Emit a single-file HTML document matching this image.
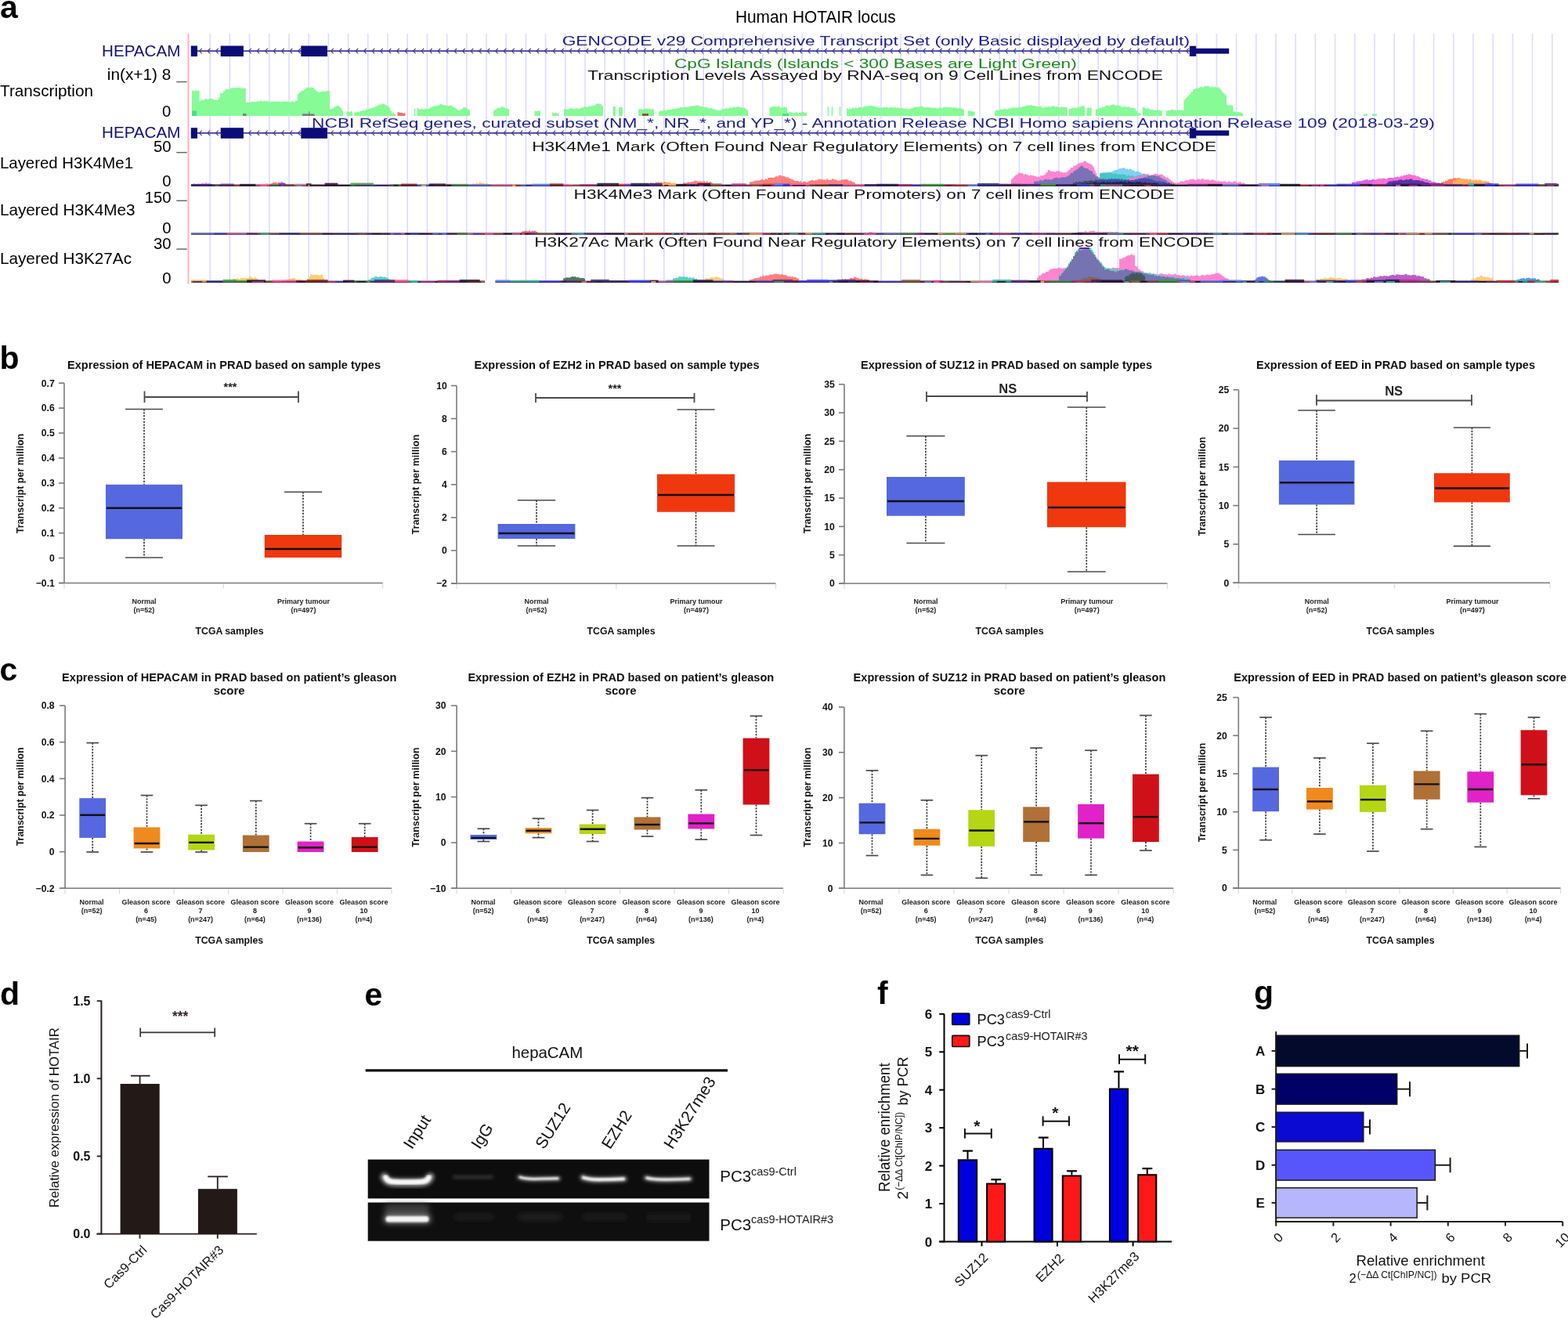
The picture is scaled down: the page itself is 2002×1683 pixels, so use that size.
<!DOCTYPE html>
<html><head><meta charset="utf-8"><title>HOTAIR figure</title>
<style>
html,body{margin:0;padding:0;background:#fff;}
svg{display:block;font-family:'Liberation Sans', Arial, Helvetica, sans-serif;}
</style></head>
<body>
<svg width="2002" height="1683" viewBox="0 0 2002 1683">
<defs>
<filter id="blur1" x="-20%" y="-50%" width="140%" height="200%"><feGaussianBlur stdDeviation="1.2"/></filter>
<filter id="blur2" x="-20%" y="-80%" width="140%" height="260%"><feGaussianBlur stdDeviation="2.2"/></filter>
<filter id="blur3" x="-20%" y="-80%" width="140%" height="260%"><feGaussianBlur stdDeviation="3.5"/></filter>
</defs>
<rect x="0" y="0" width="2002" height="1683" fill="#fff"/>
<text x="0.00" y="22.70" font-size="41" font-weight="bold" >a</text>
<text x="1041.30" y="29.30" font-size="22" text-anchor="middle" textLength="204.70" lengthAdjust="spacingAndGlyphs" >Human HOTAIR locus</text>
<line x1="268.20" y1="43.00" x2="268.20" y2="358.50" stroke="#dcdcff" stroke-width="1.6" />
<line x1="293.40" y1="43.00" x2="293.40" y2="358.50" stroke="#dcdcff" stroke-width="1.6" />
<line x1="318.60" y1="43.00" x2="318.60" y2="358.50" stroke="#dcdcff" stroke-width="1.6" />
<line x1="343.80" y1="43.00" x2="343.80" y2="358.50" stroke="#dcdcff" stroke-width="1.6" />
<line x1="369.00" y1="43.00" x2="369.00" y2="358.50" stroke="#dcdcff" stroke-width="1.6" />
<line x1="394.20" y1="43.00" x2="394.20" y2="358.50" stroke="#dcdcff" stroke-width="1.6" />
<line x1="419.40" y1="43.00" x2="419.40" y2="358.50" stroke="#dcdcff" stroke-width="1.6" />
<line x1="444.60" y1="43.00" x2="444.60" y2="358.50" stroke="#dcdcff" stroke-width="1.6" />
<line x1="469.80" y1="43.00" x2="469.80" y2="358.50" stroke="#dcdcff" stroke-width="1.6" />
<line x1="495.00" y1="43.00" x2="495.00" y2="358.50" stroke="#dcdcff" stroke-width="1.6" />
<line x1="520.20" y1="43.00" x2="520.20" y2="358.50" stroke="#dcdcff" stroke-width="1.6" />
<line x1="545.40" y1="43.00" x2="545.40" y2="358.50" stroke="#dcdcff" stroke-width="1.6" />
<line x1="570.60" y1="43.00" x2="570.60" y2="358.50" stroke="#dcdcff" stroke-width="1.6" />
<line x1="595.80" y1="43.00" x2="595.80" y2="358.50" stroke="#dcdcff" stroke-width="1.6" />
<line x1="621.00" y1="43.00" x2="621.00" y2="358.50" stroke="#dcdcff" stroke-width="1.6" />
<line x1="646.20" y1="43.00" x2="646.20" y2="358.50" stroke="#dcdcff" stroke-width="1.6" />
<line x1="671.40" y1="43.00" x2="671.40" y2="358.50" stroke="#dcdcff" stroke-width="1.6" />
<line x1="696.60" y1="43.00" x2="696.60" y2="358.50" stroke="#dcdcff" stroke-width="1.6" />
<line x1="721.80" y1="43.00" x2="721.80" y2="358.50" stroke="#dcdcff" stroke-width="1.6" />
<line x1="747.00" y1="43.00" x2="747.00" y2="358.50" stroke="#dcdcff" stroke-width="1.6" />
<line x1="772.20" y1="43.00" x2="772.20" y2="358.50" stroke="#dcdcff" stroke-width="1.6" />
<line x1="797.40" y1="43.00" x2="797.40" y2="358.50" stroke="#dcdcff" stroke-width="1.6" />
<line x1="822.60" y1="43.00" x2="822.60" y2="358.50" stroke="#dcdcff" stroke-width="1.6" />
<line x1="847.80" y1="43.00" x2="847.80" y2="358.50" stroke="#dcdcff" stroke-width="1.6" />
<line x1="873.00" y1="43.00" x2="873.00" y2="358.50" stroke="#dcdcff" stroke-width="1.6" />
<line x1="898.20" y1="43.00" x2="898.20" y2="358.50" stroke="#dcdcff" stroke-width="1.6" />
<line x1="923.40" y1="43.00" x2="923.40" y2="358.50" stroke="#dcdcff" stroke-width="1.6" />
<line x1="948.60" y1="43.00" x2="948.60" y2="358.50" stroke="#dcdcff" stroke-width="1.6" />
<line x1="973.80" y1="43.00" x2="973.80" y2="358.50" stroke="#dcdcff" stroke-width="1.6" />
<line x1="999.00" y1="43.00" x2="999.00" y2="358.50" stroke="#dcdcff" stroke-width="1.6" />
<line x1="1024.20" y1="43.00" x2="1024.20" y2="358.50" stroke="#dcdcff" stroke-width="1.6" />
<line x1="1049.40" y1="43.00" x2="1049.40" y2="358.50" stroke="#dcdcff" stroke-width="1.6" />
<line x1="1074.60" y1="43.00" x2="1074.60" y2="358.50" stroke="#dcdcff" stroke-width="1.6" />
<line x1="1099.80" y1="43.00" x2="1099.80" y2="358.50" stroke="#dcdcff" stroke-width="1.6" />
<line x1="1125.00" y1="43.00" x2="1125.00" y2="358.50" stroke="#dcdcff" stroke-width="1.6" />
<line x1="1150.20" y1="43.00" x2="1150.20" y2="358.50" stroke="#dcdcff" stroke-width="1.6" />
<line x1="1175.40" y1="43.00" x2="1175.40" y2="358.50" stroke="#dcdcff" stroke-width="1.6" />
<line x1="1200.60" y1="43.00" x2="1200.60" y2="358.50" stroke="#dcdcff" stroke-width="1.6" />
<line x1="1225.80" y1="43.00" x2="1225.80" y2="358.50" stroke="#dcdcff" stroke-width="1.6" />
<line x1="1251.00" y1="43.00" x2="1251.00" y2="358.50" stroke="#dcdcff" stroke-width="1.6" />
<line x1="1276.20" y1="43.00" x2="1276.20" y2="358.50" stroke="#dcdcff" stroke-width="1.6" />
<line x1="1301.40" y1="43.00" x2="1301.40" y2="358.50" stroke="#dcdcff" stroke-width="1.6" />
<line x1="1326.60" y1="43.00" x2="1326.60" y2="358.50" stroke="#dcdcff" stroke-width="1.6" />
<line x1="1351.80" y1="43.00" x2="1351.80" y2="358.50" stroke="#dcdcff" stroke-width="1.6" />
<line x1="1377.00" y1="43.00" x2="1377.00" y2="358.50" stroke="#dcdcff" stroke-width="1.6" />
<line x1="1402.20" y1="43.00" x2="1402.20" y2="358.50" stroke="#dcdcff" stroke-width="1.6" />
<line x1="1427.40" y1="43.00" x2="1427.40" y2="358.50" stroke="#dcdcff" stroke-width="1.6" />
<line x1="1452.60" y1="43.00" x2="1452.60" y2="358.50" stroke="#dcdcff" stroke-width="1.6" />
<line x1="1477.80" y1="43.00" x2="1477.80" y2="358.50" stroke="#dcdcff" stroke-width="1.6" />
<line x1="1503.00" y1="43.00" x2="1503.00" y2="358.50" stroke="#dcdcff" stroke-width="1.6" />
<line x1="1528.20" y1="43.00" x2="1528.20" y2="358.50" stroke="#dcdcff" stroke-width="1.6" />
<line x1="1553.40" y1="43.00" x2="1553.40" y2="358.50" stroke="#dcdcff" stroke-width="1.6" />
<line x1="1578.60" y1="43.00" x2="1578.60" y2="358.50" stroke="#dcdcff" stroke-width="1.6" />
<line x1="1603.80" y1="43.00" x2="1603.80" y2="358.50" stroke="#dcdcff" stroke-width="1.6" />
<line x1="1629.00" y1="43.00" x2="1629.00" y2="358.50" stroke="#dcdcff" stroke-width="1.6" />
<line x1="1654.20" y1="43.00" x2="1654.20" y2="358.50" stroke="#dcdcff" stroke-width="1.6" />
<line x1="1679.40" y1="43.00" x2="1679.40" y2="358.50" stroke="#dcdcff" stroke-width="1.6" />
<line x1="1704.60" y1="43.00" x2="1704.60" y2="358.50" stroke="#dcdcff" stroke-width="1.6" />
<line x1="1729.80" y1="43.00" x2="1729.80" y2="358.50" stroke="#dcdcff" stroke-width="1.6" />
<line x1="1755.00" y1="43.00" x2="1755.00" y2="358.50" stroke="#dcdcff" stroke-width="1.6" />
<line x1="1780.20" y1="43.00" x2="1780.20" y2="358.50" stroke="#dcdcff" stroke-width="1.6" />
<line x1="1805.40" y1="43.00" x2="1805.40" y2="358.50" stroke="#dcdcff" stroke-width="1.6" />
<line x1="1830.60" y1="43.00" x2="1830.60" y2="358.50" stroke="#dcdcff" stroke-width="1.6" />
<line x1="1855.80" y1="43.00" x2="1855.80" y2="358.50" stroke="#dcdcff" stroke-width="1.6" />
<line x1="1881.00" y1="43.00" x2="1881.00" y2="358.50" stroke="#dcdcff" stroke-width="1.6" />
<line x1="1906.20" y1="43.00" x2="1906.20" y2="358.50" stroke="#dcdcff" stroke-width="1.6" />
<line x1="1931.40" y1="43.00" x2="1931.40" y2="358.50" stroke="#dcdcff" stroke-width="1.6" />
<line x1="1956.60" y1="43.00" x2="1956.60" y2="358.50" stroke="#dcdcff" stroke-width="1.6" />
<line x1="1981.80" y1="43.00" x2="1981.80" y2="358.50" stroke="#dcdcff" stroke-width="1.6" />
<line x1="240.50" y1="43.00" x2="240.50" y2="362.50" stroke="#ffb3b3" stroke-width="2" />
<line x1="243.80" y1="65.20" x2="1569.00" y2="65.20" stroke="#3c3c9c" stroke-width="1.8" />
<polyline points="257.7,62.0 254.5,65.2 257.7,68.4" fill="none" stroke="#3c3c9c" stroke-width="1.15"/>
<polyline points="268.2,62.0 265.0,65.2 268.2,68.4" fill="none" stroke="#3c3c9c" stroke-width="1.15"/>
<polyline points="278.7,62.0 275.5,65.2 278.7,68.4" fill="none" stroke="#3c3c9c" stroke-width="1.15"/>
<polyline points="320.7,62.0 317.5,65.2 320.7,68.4" fill="none" stroke="#3c3c9c" stroke-width="1.15"/>
<polyline points="331.2,62.0 328.0,65.2 331.2,68.4" fill="none" stroke="#3c3c9c" stroke-width="1.15"/>
<polyline points="341.7,62.0 338.5,65.2 341.7,68.4" fill="none" stroke="#3c3c9c" stroke-width="1.15"/>
<polyline points="352.2,62.0 349.0,65.2 352.2,68.4" fill="none" stroke="#3c3c9c" stroke-width="1.15"/>
<polyline points="362.7,62.0 359.5,65.2 362.7,68.4" fill="none" stroke="#3c3c9c" stroke-width="1.15"/>
<polyline points="373.2,62.0 370.0,65.2 373.2,68.4" fill="none" stroke="#3c3c9c" stroke-width="1.15"/>
<polyline points="383.7,62.0 380.5,65.2 383.7,68.4" fill="none" stroke="#3c3c9c" stroke-width="1.15"/>
<polyline points="425.7,62.0 422.5,65.2 425.7,68.4" fill="none" stroke="#3c3c9c" stroke-width="1.15"/>
<polyline points="436.2,62.0 433.0,65.2 436.2,68.4" fill="none" stroke="#3c3c9c" stroke-width="1.15"/>
<polyline points="446.7,62.0 443.5,65.2 446.7,68.4" fill="none" stroke="#3c3c9c" stroke-width="1.15"/>
<polyline points="457.2,62.0 454.0,65.2 457.2,68.4" fill="none" stroke="#3c3c9c" stroke-width="1.15"/>
<polyline points="467.7,62.0 464.5,65.2 467.7,68.4" fill="none" stroke="#3c3c9c" stroke-width="1.15"/>
<polyline points="478.2,62.0 475.0,65.2 478.2,68.4" fill="none" stroke="#3c3c9c" stroke-width="1.15"/>
<polyline points="488.7,62.0 485.5,65.2 488.7,68.4" fill="none" stroke="#3c3c9c" stroke-width="1.15"/>
<polyline points="499.2,62.0 496.0,65.2 499.2,68.4" fill="none" stroke="#3c3c9c" stroke-width="1.15"/>
<polyline points="509.7,62.0 506.5,65.2 509.7,68.4" fill="none" stroke="#3c3c9c" stroke-width="1.15"/>
<polyline points="520.2,62.0 517.0,65.2 520.2,68.4" fill="none" stroke="#3c3c9c" stroke-width="1.15"/>
<polyline points="530.7,62.0 527.5,65.2 530.7,68.4" fill="none" stroke="#3c3c9c" stroke-width="1.15"/>
<polyline points="541.2,62.0 538.0,65.2 541.2,68.4" fill="none" stroke="#3c3c9c" stroke-width="1.15"/>
<polyline points="551.7,62.0 548.5,65.2 551.7,68.4" fill="none" stroke="#3c3c9c" stroke-width="1.15"/>
<polyline points="562.2,62.0 559.0,65.2 562.2,68.4" fill="none" stroke="#3c3c9c" stroke-width="1.15"/>
<polyline points="572.7,62.0 569.5,65.2 572.7,68.4" fill="none" stroke="#3c3c9c" stroke-width="1.15"/>
<polyline points="583.2,62.0 580.0,65.2 583.2,68.4" fill="none" stroke="#3c3c9c" stroke-width="1.15"/>
<polyline points="593.7,62.0 590.5,65.2 593.7,68.4" fill="none" stroke="#3c3c9c" stroke-width="1.15"/>
<polyline points="604.2,62.0 601.0,65.2 604.2,68.4" fill="none" stroke="#3c3c9c" stroke-width="1.15"/>
<polyline points="614.7,62.0 611.5,65.2 614.7,68.4" fill="none" stroke="#3c3c9c" stroke-width="1.15"/>
<polyline points="625.2,62.0 622.0,65.2 625.2,68.4" fill="none" stroke="#3c3c9c" stroke-width="1.15"/>
<polyline points="635.7,62.0 632.5,65.2 635.7,68.4" fill="none" stroke="#3c3c9c" stroke-width="1.15"/>
<polyline points="646.2,62.0 643.0,65.2 646.2,68.4" fill="none" stroke="#3c3c9c" stroke-width="1.15"/>
<polyline points="656.7,62.0 653.5,65.2 656.7,68.4" fill="none" stroke="#3c3c9c" stroke-width="1.15"/>
<polyline points="667.2,62.0 664.0,65.2 667.2,68.4" fill="none" stroke="#3c3c9c" stroke-width="1.15"/>
<polyline points="677.7,62.0 674.5,65.2 677.7,68.4" fill="none" stroke="#3c3c9c" stroke-width="1.15"/>
<polyline points="688.2,62.0 685.0,65.2 688.2,68.4" fill="none" stroke="#3c3c9c" stroke-width="1.15"/>
<polyline points="698.7,62.0 695.5,65.2 698.7,68.4" fill="none" stroke="#3c3c9c" stroke-width="1.15"/>
<polyline points="709.2,62.0 706.0,65.2 709.2,68.4" fill="none" stroke="#3c3c9c" stroke-width="1.15"/>
<polyline points="719.7,62.0 716.5,65.2 719.7,68.4" fill="none" stroke="#3c3c9c" stroke-width="1.15"/>
<polyline points="730.2,62.0 727.0,65.2 730.2,68.4" fill="none" stroke="#3c3c9c" stroke-width="1.15"/>
<polyline points="740.7,62.0 737.5,65.2 740.7,68.4" fill="none" stroke="#3c3c9c" stroke-width="1.15"/>
<polyline points="751.2,62.0 748.0,65.2 751.2,68.4" fill="none" stroke="#3c3c9c" stroke-width="1.15"/>
<polyline points="761.7,62.0 758.5,65.2 761.7,68.4" fill="none" stroke="#3c3c9c" stroke-width="1.15"/>
<polyline points="772.2,62.0 769.0,65.2 772.2,68.4" fill="none" stroke="#3c3c9c" stroke-width="1.15"/>
<polyline points="782.7,62.0 779.5,65.2 782.7,68.4" fill="none" stroke="#3c3c9c" stroke-width="1.15"/>
<polyline points="793.2,62.0 790.0,65.2 793.2,68.4" fill="none" stroke="#3c3c9c" stroke-width="1.15"/>
<polyline points="803.7,62.0 800.5,65.2 803.7,68.4" fill="none" stroke="#3c3c9c" stroke-width="1.15"/>
<polyline points="814.2,62.0 811.0,65.2 814.2,68.4" fill="none" stroke="#3c3c9c" stroke-width="1.15"/>
<polyline points="824.7,62.0 821.5,65.2 824.7,68.4" fill="none" stroke="#3c3c9c" stroke-width="1.15"/>
<polyline points="835.2,62.0 832.0,65.2 835.2,68.4" fill="none" stroke="#3c3c9c" stroke-width="1.15"/>
<polyline points="845.7,62.0 842.5,65.2 845.7,68.4" fill="none" stroke="#3c3c9c" stroke-width="1.15"/>
<polyline points="856.2,62.0 853.0,65.2 856.2,68.4" fill="none" stroke="#3c3c9c" stroke-width="1.15"/>
<polyline points="866.7,62.0 863.5,65.2 866.7,68.4" fill="none" stroke="#3c3c9c" stroke-width="1.15"/>
<polyline points="877.2,62.0 874.0,65.2 877.2,68.4" fill="none" stroke="#3c3c9c" stroke-width="1.15"/>
<polyline points="887.7,62.0 884.5,65.2 887.7,68.4" fill="none" stroke="#3c3c9c" stroke-width="1.15"/>
<polyline points="898.2,62.0 895.0,65.2 898.2,68.4" fill="none" stroke="#3c3c9c" stroke-width="1.15"/>
<polyline points="908.7,62.0 905.5,65.2 908.7,68.4" fill="none" stroke="#3c3c9c" stroke-width="1.15"/>
<polyline points="919.2,62.0 916.0,65.2 919.2,68.4" fill="none" stroke="#3c3c9c" stroke-width="1.15"/>
<polyline points="929.7,62.0 926.5,65.2 929.7,68.4" fill="none" stroke="#3c3c9c" stroke-width="1.15"/>
<polyline points="940.2,62.0 937.0,65.2 940.2,68.4" fill="none" stroke="#3c3c9c" stroke-width="1.15"/>
<polyline points="950.7,62.0 947.5,65.2 950.7,68.4" fill="none" stroke="#3c3c9c" stroke-width="1.15"/>
<polyline points="961.2,62.0 958.0,65.2 961.2,68.4" fill="none" stroke="#3c3c9c" stroke-width="1.15"/>
<polyline points="971.7,62.0 968.5,65.2 971.7,68.4" fill="none" stroke="#3c3c9c" stroke-width="1.15"/>
<polyline points="982.2,62.0 979.0,65.2 982.2,68.4" fill="none" stroke="#3c3c9c" stroke-width="1.15"/>
<polyline points="992.7,62.0 989.5,65.2 992.7,68.4" fill="none" stroke="#3c3c9c" stroke-width="1.15"/>
<polyline points="1003.2,62.0 1000.0,65.2 1003.2,68.4" fill="none" stroke="#3c3c9c" stroke-width="1.15"/>
<polyline points="1013.7,62.0 1010.5,65.2 1013.7,68.4" fill="none" stroke="#3c3c9c" stroke-width="1.15"/>
<polyline points="1024.2,62.0 1021.0,65.2 1024.2,68.4" fill="none" stroke="#3c3c9c" stroke-width="1.15"/>
<polyline points="1034.7,62.0 1031.5,65.2 1034.7,68.4" fill="none" stroke="#3c3c9c" stroke-width="1.15"/>
<polyline points="1045.2,62.0 1042.0,65.2 1045.2,68.4" fill="none" stroke="#3c3c9c" stroke-width="1.15"/>
<polyline points="1055.7,62.0 1052.5,65.2 1055.7,68.4" fill="none" stroke="#3c3c9c" stroke-width="1.15"/>
<polyline points="1066.2,62.0 1063.0,65.2 1066.2,68.4" fill="none" stroke="#3c3c9c" stroke-width="1.15"/>
<polyline points="1076.7,62.0 1073.5,65.2 1076.7,68.4" fill="none" stroke="#3c3c9c" stroke-width="1.15"/>
<polyline points="1087.2,62.0 1084.0,65.2 1087.2,68.4" fill="none" stroke="#3c3c9c" stroke-width="1.15"/>
<polyline points="1097.7,62.0 1094.5,65.2 1097.7,68.4" fill="none" stroke="#3c3c9c" stroke-width="1.15"/>
<polyline points="1108.2,62.0 1105.0,65.2 1108.2,68.4" fill="none" stroke="#3c3c9c" stroke-width="1.15"/>
<polyline points="1118.7,62.0 1115.5,65.2 1118.7,68.4" fill="none" stroke="#3c3c9c" stroke-width="1.15"/>
<polyline points="1129.2,62.0 1126.0,65.2 1129.2,68.4" fill="none" stroke="#3c3c9c" stroke-width="1.15"/>
<polyline points="1139.7,62.0 1136.5,65.2 1139.7,68.4" fill="none" stroke="#3c3c9c" stroke-width="1.15"/>
<polyline points="1150.2,62.0 1147.0,65.2 1150.2,68.4" fill="none" stroke="#3c3c9c" stroke-width="1.15"/>
<polyline points="1160.7,62.0 1157.5,65.2 1160.7,68.4" fill="none" stroke="#3c3c9c" stroke-width="1.15"/>
<polyline points="1171.2,62.0 1168.0,65.2 1171.2,68.4" fill="none" stroke="#3c3c9c" stroke-width="1.15"/>
<polyline points="1181.7,62.0 1178.5,65.2 1181.7,68.4" fill="none" stroke="#3c3c9c" stroke-width="1.15"/>
<polyline points="1192.2,62.0 1189.0,65.2 1192.2,68.4" fill="none" stroke="#3c3c9c" stroke-width="1.15"/>
<polyline points="1202.7,62.0 1199.5,65.2 1202.7,68.4" fill="none" stroke="#3c3c9c" stroke-width="1.15"/>
<polyline points="1213.2,62.0 1210.0,65.2 1213.2,68.4" fill="none" stroke="#3c3c9c" stroke-width="1.15"/>
<polyline points="1223.7,62.0 1220.5,65.2 1223.7,68.4" fill="none" stroke="#3c3c9c" stroke-width="1.15"/>
<polyline points="1234.2,62.0 1231.0,65.2 1234.2,68.4" fill="none" stroke="#3c3c9c" stroke-width="1.15"/>
<polyline points="1244.7,62.0 1241.5,65.2 1244.7,68.4" fill="none" stroke="#3c3c9c" stroke-width="1.15"/>
<polyline points="1255.2,62.0 1252.0,65.2 1255.2,68.4" fill="none" stroke="#3c3c9c" stroke-width="1.15"/>
<polyline points="1265.7,62.0 1262.5,65.2 1265.7,68.4" fill="none" stroke="#3c3c9c" stroke-width="1.15"/>
<polyline points="1276.2,62.0 1273.0,65.2 1276.2,68.4" fill="none" stroke="#3c3c9c" stroke-width="1.15"/>
<polyline points="1286.7,62.0 1283.5,65.2 1286.7,68.4" fill="none" stroke="#3c3c9c" stroke-width="1.15"/>
<polyline points="1297.2,62.0 1294.0,65.2 1297.2,68.4" fill="none" stroke="#3c3c9c" stroke-width="1.15"/>
<polyline points="1307.7,62.0 1304.5,65.2 1307.7,68.4" fill="none" stroke="#3c3c9c" stroke-width="1.15"/>
<polyline points="1318.2,62.0 1315.0,65.2 1318.2,68.4" fill="none" stroke="#3c3c9c" stroke-width="1.15"/>
<polyline points="1328.7,62.0 1325.5,65.2 1328.7,68.4" fill="none" stroke="#3c3c9c" stroke-width="1.15"/>
<polyline points="1339.2,62.0 1336.0,65.2 1339.2,68.4" fill="none" stroke="#3c3c9c" stroke-width="1.15"/>
<polyline points="1349.7,62.0 1346.5,65.2 1349.7,68.4" fill="none" stroke="#3c3c9c" stroke-width="1.15"/>
<polyline points="1360.2,62.0 1357.0,65.2 1360.2,68.4" fill="none" stroke="#3c3c9c" stroke-width="1.15"/>
<polyline points="1370.7,62.0 1367.5,65.2 1370.7,68.4" fill="none" stroke="#3c3c9c" stroke-width="1.15"/>
<polyline points="1381.2,62.0 1378.0,65.2 1381.2,68.4" fill="none" stroke="#3c3c9c" stroke-width="1.15"/>
<polyline points="1391.7,62.0 1388.5,65.2 1391.7,68.4" fill="none" stroke="#3c3c9c" stroke-width="1.15"/>
<polyline points="1402.2,62.0 1399.0,65.2 1402.2,68.4" fill="none" stroke="#3c3c9c" stroke-width="1.15"/>
<polyline points="1412.7,62.0 1409.5,65.2 1412.7,68.4" fill="none" stroke="#3c3c9c" stroke-width="1.15"/>
<polyline points="1423.2,62.0 1420.0,65.2 1423.2,68.4" fill="none" stroke="#3c3c9c" stroke-width="1.15"/>
<polyline points="1433.7,62.0 1430.5,65.2 1433.7,68.4" fill="none" stroke="#3c3c9c" stroke-width="1.15"/>
<polyline points="1444.2,62.0 1441.0,65.2 1444.2,68.4" fill="none" stroke="#3c3c9c" stroke-width="1.15"/>
<polyline points="1454.7,62.0 1451.5,65.2 1454.7,68.4" fill="none" stroke="#3c3c9c" stroke-width="1.15"/>
<polyline points="1465.2,62.0 1462.0,65.2 1465.2,68.4" fill="none" stroke="#3c3c9c" stroke-width="1.15"/>
<polyline points="1475.7,62.0 1472.5,65.2 1475.7,68.4" fill="none" stroke="#3c3c9c" stroke-width="1.15"/>
<polyline points="1486.2,62.0 1483.0,65.2 1486.2,68.4" fill="none" stroke="#3c3c9c" stroke-width="1.15"/>
<polyline points="1496.7,62.0 1493.5,65.2 1496.7,68.4" fill="none" stroke="#3c3c9c" stroke-width="1.15"/>
<polyline points="1507.2,62.0 1504.0,65.2 1507.2,68.4" fill="none" stroke="#3c3c9c" stroke-width="1.15"/>
<polyline points="1517.7,62.0 1514.5,65.2 1517.7,68.4" fill="none" stroke="#3c3c9c" stroke-width="1.15"/>
<rect x="243.80" y="58.50" width="8.20" height="13.60" fill="#0c0c78" />
<rect x="281.70" y="58.50" width="29.20" height="13.60" fill="#0c0c78" />
<rect x="384.30" y="58.50" width="33.70" height="13.60" fill="#0c0c78" />
<rect x="1518.80" y="58.70" width="8.40" height="13.20" fill="#0c0c78" />
<rect x="1527.00" y="61.80" width="42.20" height="6.80" fill="#0c0c78" />
<line x1="243.80" y1="169.90" x2="1569.00" y2="169.90" stroke="#3c3c9c" stroke-width="1.8" />
<polyline points="257.7,166.7 254.5,169.9 257.7,173.1" fill="none" stroke="#3c3c9c" stroke-width="1.15"/>
<polyline points="268.2,166.7 265.0,169.9 268.2,173.1" fill="none" stroke="#3c3c9c" stroke-width="1.15"/>
<polyline points="278.7,166.7 275.5,169.9 278.7,173.1" fill="none" stroke="#3c3c9c" stroke-width="1.15"/>
<polyline points="320.7,166.7 317.5,169.9 320.7,173.1" fill="none" stroke="#3c3c9c" stroke-width="1.15"/>
<polyline points="331.2,166.7 328.0,169.9 331.2,173.1" fill="none" stroke="#3c3c9c" stroke-width="1.15"/>
<polyline points="341.7,166.7 338.5,169.9 341.7,173.1" fill="none" stroke="#3c3c9c" stroke-width="1.15"/>
<polyline points="352.2,166.7 349.0,169.9 352.2,173.1" fill="none" stroke="#3c3c9c" stroke-width="1.15"/>
<polyline points="362.7,166.7 359.5,169.9 362.7,173.1" fill="none" stroke="#3c3c9c" stroke-width="1.15"/>
<polyline points="373.2,166.7 370.0,169.9 373.2,173.1" fill="none" stroke="#3c3c9c" stroke-width="1.15"/>
<polyline points="383.7,166.7 380.5,169.9 383.7,173.1" fill="none" stroke="#3c3c9c" stroke-width="1.15"/>
<polyline points="425.7,166.7 422.5,169.9 425.7,173.1" fill="none" stroke="#3c3c9c" stroke-width="1.15"/>
<polyline points="436.2,166.7 433.0,169.9 436.2,173.1" fill="none" stroke="#3c3c9c" stroke-width="1.15"/>
<polyline points="446.7,166.7 443.5,169.9 446.7,173.1" fill="none" stroke="#3c3c9c" stroke-width="1.15"/>
<polyline points="457.2,166.7 454.0,169.9 457.2,173.1" fill="none" stroke="#3c3c9c" stroke-width="1.15"/>
<polyline points="467.7,166.7 464.5,169.9 467.7,173.1" fill="none" stroke="#3c3c9c" stroke-width="1.15"/>
<polyline points="478.2,166.7 475.0,169.9 478.2,173.1" fill="none" stroke="#3c3c9c" stroke-width="1.15"/>
<polyline points="488.7,166.7 485.5,169.9 488.7,173.1" fill="none" stroke="#3c3c9c" stroke-width="1.15"/>
<polyline points="499.2,166.7 496.0,169.9 499.2,173.1" fill="none" stroke="#3c3c9c" stroke-width="1.15"/>
<polyline points="509.7,166.7 506.5,169.9 509.7,173.1" fill="none" stroke="#3c3c9c" stroke-width="1.15"/>
<polyline points="520.2,166.7 517.0,169.9 520.2,173.1" fill="none" stroke="#3c3c9c" stroke-width="1.15"/>
<polyline points="530.7,166.7 527.5,169.9 530.7,173.1" fill="none" stroke="#3c3c9c" stroke-width="1.15"/>
<polyline points="541.2,166.7 538.0,169.9 541.2,173.1" fill="none" stroke="#3c3c9c" stroke-width="1.15"/>
<polyline points="551.7,166.7 548.5,169.9 551.7,173.1" fill="none" stroke="#3c3c9c" stroke-width="1.15"/>
<polyline points="562.2,166.7 559.0,169.9 562.2,173.1" fill="none" stroke="#3c3c9c" stroke-width="1.15"/>
<polyline points="572.7,166.7 569.5,169.9 572.7,173.1" fill="none" stroke="#3c3c9c" stroke-width="1.15"/>
<polyline points="583.2,166.7 580.0,169.9 583.2,173.1" fill="none" stroke="#3c3c9c" stroke-width="1.15"/>
<polyline points="593.7,166.7 590.5,169.9 593.7,173.1" fill="none" stroke="#3c3c9c" stroke-width="1.15"/>
<polyline points="604.2,166.7 601.0,169.9 604.2,173.1" fill="none" stroke="#3c3c9c" stroke-width="1.15"/>
<polyline points="614.7,166.7 611.5,169.9 614.7,173.1" fill="none" stroke="#3c3c9c" stroke-width="1.15"/>
<polyline points="625.2,166.7 622.0,169.9 625.2,173.1" fill="none" stroke="#3c3c9c" stroke-width="1.15"/>
<polyline points="635.7,166.7 632.5,169.9 635.7,173.1" fill="none" stroke="#3c3c9c" stroke-width="1.15"/>
<polyline points="646.2,166.7 643.0,169.9 646.2,173.1" fill="none" stroke="#3c3c9c" stroke-width="1.15"/>
<polyline points="656.7,166.7 653.5,169.9 656.7,173.1" fill="none" stroke="#3c3c9c" stroke-width="1.15"/>
<polyline points="667.2,166.7 664.0,169.9 667.2,173.1" fill="none" stroke="#3c3c9c" stroke-width="1.15"/>
<polyline points="677.7,166.7 674.5,169.9 677.7,173.1" fill="none" stroke="#3c3c9c" stroke-width="1.15"/>
<polyline points="688.2,166.7 685.0,169.9 688.2,173.1" fill="none" stroke="#3c3c9c" stroke-width="1.15"/>
<polyline points="698.7,166.7 695.5,169.9 698.7,173.1" fill="none" stroke="#3c3c9c" stroke-width="1.15"/>
<polyline points="709.2,166.7 706.0,169.9 709.2,173.1" fill="none" stroke="#3c3c9c" stroke-width="1.15"/>
<polyline points="719.7,166.7 716.5,169.9 719.7,173.1" fill="none" stroke="#3c3c9c" stroke-width="1.15"/>
<polyline points="730.2,166.7 727.0,169.9 730.2,173.1" fill="none" stroke="#3c3c9c" stroke-width="1.15"/>
<polyline points="740.7,166.7 737.5,169.9 740.7,173.1" fill="none" stroke="#3c3c9c" stroke-width="1.15"/>
<polyline points="751.2,166.7 748.0,169.9 751.2,173.1" fill="none" stroke="#3c3c9c" stroke-width="1.15"/>
<polyline points="761.7,166.7 758.5,169.9 761.7,173.1" fill="none" stroke="#3c3c9c" stroke-width="1.15"/>
<polyline points="772.2,166.7 769.0,169.9 772.2,173.1" fill="none" stroke="#3c3c9c" stroke-width="1.15"/>
<polyline points="782.7,166.7 779.5,169.9 782.7,173.1" fill="none" stroke="#3c3c9c" stroke-width="1.15"/>
<polyline points="793.2,166.7 790.0,169.9 793.2,173.1" fill="none" stroke="#3c3c9c" stroke-width="1.15"/>
<polyline points="803.7,166.7 800.5,169.9 803.7,173.1" fill="none" stroke="#3c3c9c" stroke-width="1.15"/>
<polyline points="814.2,166.7 811.0,169.9 814.2,173.1" fill="none" stroke="#3c3c9c" stroke-width="1.15"/>
<polyline points="824.7,166.7 821.5,169.9 824.7,173.1" fill="none" stroke="#3c3c9c" stroke-width="1.15"/>
<polyline points="835.2,166.7 832.0,169.9 835.2,173.1" fill="none" stroke="#3c3c9c" stroke-width="1.15"/>
<polyline points="845.7,166.7 842.5,169.9 845.7,173.1" fill="none" stroke="#3c3c9c" stroke-width="1.15"/>
<polyline points="856.2,166.7 853.0,169.9 856.2,173.1" fill="none" stroke="#3c3c9c" stroke-width="1.15"/>
<polyline points="866.7,166.7 863.5,169.9 866.7,173.1" fill="none" stroke="#3c3c9c" stroke-width="1.15"/>
<polyline points="877.2,166.7 874.0,169.9 877.2,173.1" fill="none" stroke="#3c3c9c" stroke-width="1.15"/>
<polyline points="887.7,166.7 884.5,169.9 887.7,173.1" fill="none" stroke="#3c3c9c" stroke-width="1.15"/>
<polyline points="898.2,166.7 895.0,169.9 898.2,173.1" fill="none" stroke="#3c3c9c" stroke-width="1.15"/>
<polyline points="908.7,166.7 905.5,169.9 908.7,173.1" fill="none" stroke="#3c3c9c" stroke-width="1.15"/>
<polyline points="919.2,166.7 916.0,169.9 919.2,173.1" fill="none" stroke="#3c3c9c" stroke-width="1.15"/>
<polyline points="929.7,166.7 926.5,169.9 929.7,173.1" fill="none" stroke="#3c3c9c" stroke-width="1.15"/>
<polyline points="940.2,166.7 937.0,169.9 940.2,173.1" fill="none" stroke="#3c3c9c" stroke-width="1.15"/>
<polyline points="950.7,166.7 947.5,169.9 950.7,173.1" fill="none" stroke="#3c3c9c" stroke-width="1.15"/>
<polyline points="961.2,166.7 958.0,169.9 961.2,173.1" fill="none" stroke="#3c3c9c" stroke-width="1.15"/>
<polyline points="971.7,166.7 968.5,169.9 971.7,173.1" fill="none" stroke="#3c3c9c" stroke-width="1.15"/>
<polyline points="982.2,166.7 979.0,169.9 982.2,173.1" fill="none" stroke="#3c3c9c" stroke-width="1.15"/>
<polyline points="992.7,166.7 989.5,169.9 992.7,173.1" fill="none" stroke="#3c3c9c" stroke-width="1.15"/>
<polyline points="1003.2,166.7 1000.0,169.9 1003.2,173.1" fill="none" stroke="#3c3c9c" stroke-width="1.15"/>
<polyline points="1013.7,166.7 1010.5,169.9 1013.7,173.1" fill="none" stroke="#3c3c9c" stroke-width="1.15"/>
<polyline points="1024.2,166.7 1021.0,169.9 1024.2,173.1" fill="none" stroke="#3c3c9c" stroke-width="1.15"/>
<polyline points="1034.7,166.7 1031.5,169.9 1034.7,173.1" fill="none" stroke="#3c3c9c" stroke-width="1.15"/>
<polyline points="1045.2,166.7 1042.0,169.9 1045.2,173.1" fill="none" stroke="#3c3c9c" stroke-width="1.15"/>
<polyline points="1055.7,166.7 1052.5,169.9 1055.7,173.1" fill="none" stroke="#3c3c9c" stroke-width="1.15"/>
<polyline points="1066.2,166.7 1063.0,169.9 1066.2,173.1" fill="none" stroke="#3c3c9c" stroke-width="1.15"/>
<polyline points="1076.7,166.7 1073.5,169.9 1076.7,173.1" fill="none" stroke="#3c3c9c" stroke-width="1.15"/>
<polyline points="1087.2,166.7 1084.0,169.9 1087.2,173.1" fill="none" stroke="#3c3c9c" stroke-width="1.15"/>
<polyline points="1097.7,166.7 1094.5,169.9 1097.7,173.1" fill="none" stroke="#3c3c9c" stroke-width="1.15"/>
<polyline points="1108.2,166.7 1105.0,169.9 1108.2,173.1" fill="none" stroke="#3c3c9c" stroke-width="1.15"/>
<polyline points="1118.7,166.7 1115.5,169.9 1118.7,173.1" fill="none" stroke="#3c3c9c" stroke-width="1.15"/>
<polyline points="1129.2,166.7 1126.0,169.9 1129.2,173.1" fill="none" stroke="#3c3c9c" stroke-width="1.15"/>
<polyline points="1139.7,166.7 1136.5,169.9 1139.7,173.1" fill="none" stroke="#3c3c9c" stroke-width="1.15"/>
<polyline points="1150.2,166.7 1147.0,169.9 1150.2,173.1" fill="none" stroke="#3c3c9c" stroke-width="1.15"/>
<polyline points="1160.7,166.7 1157.5,169.9 1160.7,173.1" fill="none" stroke="#3c3c9c" stroke-width="1.15"/>
<polyline points="1171.2,166.7 1168.0,169.9 1171.2,173.1" fill="none" stroke="#3c3c9c" stroke-width="1.15"/>
<polyline points="1181.7,166.7 1178.5,169.9 1181.7,173.1" fill="none" stroke="#3c3c9c" stroke-width="1.15"/>
<polyline points="1192.2,166.7 1189.0,169.9 1192.2,173.1" fill="none" stroke="#3c3c9c" stroke-width="1.15"/>
<polyline points="1202.7,166.7 1199.5,169.9 1202.7,173.1" fill="none" stroke="#3c3c9c" stroke-width="1.15"/>
<polyline points="1213.2,166.7 1210.0,169.9 1213.2,173.1" fill="none" stroke="#3c3c9c" stroke-width="1.15"/>
<polyline points="1223.7,166.7 1220.5,169.9 1223.7,173.1" fill="none" stroke="#3c3c9c" stroke-width="1.15"/>
<polyline points="1234.2,166.7 1231.0,169.9 1234.2,173.1" fill="none" stroke="#3c3c9c" stroke-width="1.15"/>
<polyline points="1244.7,166.7 1241.5,169.9 1244.7,173.1" fill="none" stroke="#3c3c9c" stroke-width="1.15"/>
<polyline points="1255.2,166.7 1252.0,169.9 1255.2,173.1" fill="none" stroke="#3c3c9c" stroke-width="1.15"/>
<polyline points="1265.7,166.7 1262.5,169.9 1265.7,173.1" fill="none" stroke="#3c3c9c" stroke-width="1.15"/>
<polyline points="1276.2,166.7 1273.0,169.9 1276.2,173.1" fill="none" stroke="#3c3c9c" stroke-width="1.15"/>
<polyline points="1286.7,166.7 1283.5,169.9 1286.7,173.1" fill="none" stroke="#3c3c9c" stroke-width="1.15"/>
<polyline points="1297.2,166.7 1294.0,169.9 1297.2,173.1" fill="none" stroke="#3c3c9c" stroke-width="1.15"/>
<polyline points="1307.7,166.7 1304.5,169.9 1307.7,173.1" fill="none" stroke="#3c3c9c" stroke-width="1.15"/>
<polyline points="1318.2,166.7 1315.0,169.9 1318.2,173.1" fill="none" stroke="#3c3c9c" stroke-width="1.15"/>
<polyline points="1328.7,166.7 1325.5,169.9 1328.7,173.1" fill="none" stroke="#3c3c9c" stroke-width="1.15"/>
<polyline points="1339.2,166.7 1336.0,169.9 1339.2,173.1" fill="none" stroke="#3c3c9c" stroke-width="1.15"/>
<polyline points="1349.7,166.7 1346.5,169.9 1349.7,173.1" fill="none" stroke="#3c3c9c" stroke-width="1.15"/>
<polyline points="1360.2,166.7 1357.0,169.9 1360.2,173.1" fill="none" stroke="#3c3c9c" stroke-width="1.15"/>
<polyline points="1370.7,166.7 1367.5,169.9 1370.7,173.1" fill="none" stroke="#3c3c9c" stroke-width="1.15"/>
<polyline points="1381.2,166.7 1378.0,169.9 1381.2,173.1" fill="none" stroke="#3c3c9c" stroke-width="1.15"/>
<polyline points="1391.7,166.7 1388.5,169.9 1391.7,173.1" fill="none" stroke="#3c3c9c" stroke-width="1.15"/>
<polyline points="1402.2,166.7 1399.0,169.9 1402.2,173.1" fill="none" stroke="#3c3c9c" stroke-width="1.15"/>
<polyline points="1412.7,166.7 1409.5,169.9 1412.7,173.1" fill="none" stroke="#3c3c9c" stroke-width="1.15"/>
<polyline points="1423.2,166.7 1420.0,169.9 1423.2,173.1" fill="none" stroke="#3c3c9c" stroke-width="1.15"/>
<polyline points="1433.7,166.7 1430.5,169.9 1433.7,173.1" fill="none" stroke="#3c3c9c" stroke-width="1.15"/>
<polyline points="1444.2,166.7 1441.0,169.9 1444.2,173.1" fill="none" stroke="#3c3c9c" stroke-width="1.15"/>
<polyline points="1454.7,166.7 1451.5,169.9 1454.7,173.1" fill="none" stroke="#3c3c9c" stroke-width="1.15"/>
<polyline points="1465.2,166.7 1462.0,169.9 1465.2,173.1" fill="none" stroke="#3c3c9c" stroke-width="1.15"/>
<polyline points="1475.7,166.7 1472.5,169.9 1475.7,173.1" fill="none" stroke="#3c3c9c" stroke-width="1.15"/>
<polyline points="1486.2,166.7 1483.0,169.9 1486.2,173.1" fill="none" stroke="#3c3c9c" stroke-width="1.15"/>
<polyline points="1496.7,166.7 1493.5,169.9 1496.7,173.1" fill="none" stroke="#3c3c9c" stroke-width="1.15"/>
<polyline points="1507.2,166.7 1504.0,169.9 1507.2,173.1" fill="none" stroke="#3c3c9c" stroke-width="1.15"/>
<polyline points="1517.7,166.7 1514.5,169.9 1517.7,173.1" fill="none" stroke="#3c3c9c" stroke-width="1.15"/>
<rect x="243.80" y="163.20" width="8.20" height="13.60" fill="#0c0c78" />
<rect x="281.70" y="163.20" width="29.20" height="13.60" fill="#0c0c78" />
<rect x="384.30" y="163.20" width="33.70" height="13.60" fill="#0c0c78" />
<rect x="1518.80" y="163.40" width="8.40" height="13.20" fill="#0c0c78" />
<rect x="1527.00" y="166.50" width="42.20" height="6.80" fill="#0c0c78" />
<text x="230.40" y="71.90" font-size="20" text-anchor="end" fill="#10107a" textLength="100.40" lengthAdjust="spacingAndGlyphs" >HEPACAM</text>
<text x="230.40" y="175.60" font-size="20" text-anchor="end" fill="#10107a" textLength="100.40" lengthAdjust="spacingAndGlyphs" >HEPACAM</text>
<text x="0.00" y="123.10" font-size="20.5" textLength="119.00" lengthAdjust="spacingAndGlyphs" >Transcription</text>
<text x="218.30" y="101.90" font-size="20.3" text-anchor="end" textLength="81.50" lengthAdjust="spacingAndGlyphs" >in(x+1) 8</text>
<text x="218.30" y="148.50" font-size="20.3" text-anchor="end" >0</text>
<text x="0.00" y="215.00" font-size="20.4" textLength="170.00" lengthAdjust="spacingAndGlyphs" >Layered H3K4Me1</text>
<text x="0.00" y="275.00" font-size="20.4" textLength="172.50" lengthAdjust="spacingAndGlyphs" >Layered H3K4Me3</text>
<text x="0.00" y="336.50" font-size="20.4" textLength="168.00" lengthAdjust="spacingAndGlyphs" >Layered H3K27Ac</text>
<text x="218.50" y="194.40" font-size="20.3" text-anchor="end" >50</text>
<text x="218.50" y="237.50" font-size="20.3" text-anchor="end" >0</text>
<text x="218.50" y="258.75" font-size="20.3" text-anchor="end" >150</text>
<text x="218.50" y="298.10" font-size="20.3" text-anchor="end" >0</text>
<text x="218.50" y="317.50" font-size="20.3" text-anchor="end" >30</text>
<text x="218.50" y="361.90" font-size="20.3" text-anchor="end" >0</text>
<line x1="225.30" y1="104.50" x2="238.70" y2="104.50" stroke="#6a6a6a" stroke-width="1.5" />
<line x1="225.30" y1="194.70" x2="238.70" y2="194.70" stroke="#6a6a6a" stroke-width="1.5" />
<line x1="225.30" y1="256.30" x2="238.70" y2="256.30" stroke="#6a6a6a" stroke-width="1.5" />
<line x1="225.30" y1="318.10" x2="238.70" y2="318.10" stroke="#6a6a6a" stroke-width="1.5" />
<text x="717.70" y="58.20" font-size="17" fill="#1c1c8c" textLength="801.30" lengthAdjust="spacingAndGlyphs" >GENCODE v29 Comprehensive Transcript Set (only Basic displayed by default)</text>
<text x="861.00" y="87.40" font-size="17" fill="#1a8a1a" textLength="513.70" lengthAdjust="spacingAndGlyphs" >CpG Islands (Islands &lt; 300 Bases are Light Green)</text>
<text x="750.20" y="101.70" font-size="17" fill="#111" textLength="734.60" lengthAdjust="spacingAndGlyphs" >Transcription Levels Assayed by RNA-seq on 9 Cell Lines from ENCODE</text>
<text x="398.10" y="162.60" font-size="17" fill="#1c1c8c" textLength="1433.80" lengthAdjust="spacingAndGlyphs" >NCBI RefSeq genes, curated subset (NM_*, NR_*, and YP_*) - Annotation Release NCBI Homo sapiens Annotation Release 109 (2018-03-29)</text>
<text x="679.20" y="192.90" font-size="17" fill="#111" textLength="873.80" lengthAdjust="spacingAndGlyphs" >H3K4Me1 Mark (Often Found Near Regulatory Elements) on 7 cell lines from ENCODE</text>
<text x="732.60" y="254.00" font-size="17" fill="#111" textLength="767.00" lengthAdjust="spacingAndGlyphs" >H3K4Me3 Mark (Often Found Near Promoters) on 7 cell lines from ENCODE</text>
<text x="682.20" y="315.20" font-size="17" fill="#111" textLength="868.50" lengthAdjust="spacingAndGlyphs" >H3K27Ac Mark (Often Found Near Regulatory Elements) on 7 cell lines from ENCODE</text>
<polygon points="245.0,148.0 245.0,115.7 246.6,115.7 246.6,115.4 248.2,115.4 248.2,116.2 249.8,116.2 249.8,115.3 251.5,115.3 251.5,116.1 253.1,116.1 253.1,115.8 254.7,115.8 254.7,115.3 254.7,115.3 254.7,129.0 256.5,129.0 256.5,127.8 258.4,127.8 258.4,127.9 260.2,127.9 260.2,126.8 262.0,126.8 262.0,126.3 263.6,126.3 263.6,126.7 265.2,126.7 265.2,127.1 266.8,127.1 266.8,125.8 268.4,125.8 268.4,125.8 270.0,125.8 270.0,126.2 272.1,126.2 272.1,127.4 274.3,127.4 274.3,127.5 276.4,127.5 276.4,127.8 278.7,127.8 278.7,124.8 281.0,124.8 281.0,119.3 283.0,119.3 283.0,118.9 285.0,118.9 285.0,116.3 287.0,116.3 287.0,114.4 288.7,114.4 288.7,113.9 290.5,113.9 290.5,113.7 292.2,113.7 292.2,114.0 293.9,114.0 293.9,112.5 295.7,112.5 295.7,112.6 297.4,112.6 297.4,112.2 299.1,112.2 299.1,111.9 300.7,111.9 300.7,112.3 302.4,112.3 302.4,111.6 304.1,111.6 304.1,111.7 305.7,111.7 305.7,112.1 307.4,112.1 307.4,113.0 309.1,113.0 309.1,112.7 310.7,112.7 310.7,112.6 312.4,112.6 312.4,113.1 313.9,113.1 313.9,130.9 315.5,130.9 315.5,130.5 317.1,130.5 317.1,131.1 318.7,131.1 318.7,130.7 320.3,130.7 320.3,129.8 321.9,129.8 321.9,130.1 323.6,130.1 323.6,129.8 325.2,129.8 325.2,130.2 326.8,130.2 326.8,129.8 328.4,129.8 328.4,128.9 330.0,128.9 330.0,129.8 331.7,129.8 331.7,128.4 333.3,128.4 333.3,129.0 335.0,129.0 335.0,129.5 336.7,129.5 336.7,128.6 338.3,128.6 338.3,129.2 340.0,129.2 340.0,128.5 341.7,128.5 341.7,129.6 343.3,129.6 343.3,129.8 345.0,129.8 345.0,129.5 346.7,129.5 346.7,130.0 348.3,130.0 348.3,129.2 350.0,129.2 350.0,129.8 351.7,129.8 351.7,129.7 353.4,129.7 353.4,129.7 355.0,129.7 355.0,129.5 356.7,129.5 356.7,130.1 358.4,130.1 358.4,130.3 360.1,130.3 360.1,129.5 361.7,129.5 361.7,129.9 363.4,129.9 363.4,128.9 365.1,128.9 365.1,129.9 366.8,129.9 366.8,129.9 368.4,129.9 368.4,130.4 370.1,130.4 370.1,130.2 371.8,130.2 371.8,129.3 373.4,129.3 373.4,129.5 375.1,129.5 375.1,130.0 376.8,130.0 376.8,128.9 379.8,128.9 379.8,119.9 381.5,119.9 381.5,118.3 383.2,118.3 383.2,117.0 384.9,117.0 384.9,115.7 386.7,115.7 386.7,115.7 388.4,115.7 388.4,113.5 390.1,113.5 390.1,112.5 391.8,112.5 391.8,111.5 393.7,111.5 393.7,112.4 395.6,112.4 395.6,111.2 397.4,111.2 397.4,111.8 399.3,111.8 399.3,112.1 401.2,112.1 401.2,114.2 403.1,114.2 403.1,115.7 404.9,115.7 404.9,117.4 406.8,117.4 406.8,118.0 408.8,118.0 408.8,117.5 410.8,117.5 410.8,116.6 412.8,116.6 412.8,116.6 414.7,116.6 414.7,116.9 416.6,116.9 416.6,115.7 418.4,115.7 418.4,115.9 420.3,115.9 420.3,116.1 421.0,116.1 421.0,139.6 422.6,139.6 422.6,139.1 424.3,139.1 424.3,138.4 425.9,138.4 425.9,137.1 427.5,137.1 427.5,135.8 429.2,135.8 429.2,135.6 430.8,135.6 430.8,134.7 432.5,134.7 432.5,136.0 434.3,136.0 434.3,137.7 436.0,137.7 436.0,138.3 438.3,143.9 438.3,148.0" fill="#86fb96" />
<polygon points="442.5,148.0 442.5,142.5 444.4,142.5 444.4,142.7 446.2,142.7 446.2,142.8 448.1,142.8 448.1,141.8 450.0,142.5 450.0,148.0" fill="#86fb96" />
<polygon points="452.5,148.0 452.5,143.6 454.3,143.6 454.3,143.2 456.1,143.2 456.1,143.0 457.9,143.0 457.9,142.6 459.6,142.6 459.6,141.7 461.4,141.7 461.4,141.4 463.2,141.4 463.2,140.7 465.0,140.7 465.0,141.2 466.8,141.2 466.8,139.8 468.6,139.8 468.6,139.3 470.4,139.3 470.4,139.0 472.1,139.0 472.1,138.5 473.9,138.5 473.9,138.2 475.7,138.2 475.7,137.3 477.5,137.3 477.5,136.7 479.2,136.7 479.2,136.0 480.8,136.0 480.8,135.0 482.5,135.0 482.5,134.5 484.2,134.5 484.2,133.1 485.8,133.1 485.8,133.5 487.5,133.5 487.5,132.2 489.4,132.2 489.4,132.5 491.2,132.5 491.2,133.7 493.1,133.7 493.1,134.9 495.0,134.9 495.0,136.0 496.7,136.0 496.7,138.1 498.3,138.1 498.3,141.8 500.0,141.8 500.0,144.5 501.7,144.5 501.7,144.4 503.3,144.4 503.3,145.2 505.0,146.0 505.0,148.0" fill="#86fb96" />
<polygon points="507.5,148.0 507.5,143.3 509.2,143.3 509.2,143.4 510.8,143.4 510.8,143.9 512.5,143.9 512.5,143.9 514.2,143.9 514.2,144.9 515.8,144.9 515.8,143.9 517.5,144.5 517.5,148.0" fill="#ff6a6a" />
<polygon points="528.8,148.0 528.8,138.8 530.5,138.8 530.5,148.0" fill="#86fb96" />
<polygon points="532.5,148.0 532.5,138.0 534.4,138.0 534.4,139.8 536.2,139.8 536.2,139.4 538.1,139.4 538.1,139.1 540.0,139.1 540.0,140.1 541.8,140.1 541.8,138.7 543.6,138.7 543.6,139.0 545.4,139.0 545.4,139.2 547.1,139.2 547.1,138.4 548.9,138.4 548.9,137.6 550.7,137.6 550.7,136.4 552.5,136.4 552.5,136.0 554.2,136.0 554.2,135.2 555.8,135.2 555.8,135.6 557.5,135.6 557.5,134.7 559.2,134.7 559.2,134.5 560.8,134.5 560.8,133.3 562.5,133.3 562.5,132.6 564.3,132.6 564.3,133.8 566.1,133.8 566.1,134.3 567.9,134.3 567.9,134.4 569.6,134.4 569.6,134.6 571.4,134.6 571.4,134.9 573.2,134.9 573.2,135.1 575.0,135.1 575.0,134.6 576.7,134.6 576.7,136.1 578.3,136.1 578.3,136.9 580.0,136.9 580.0,137.4 581.7,137.4 581.7,138.4 583.3,138.4 583.3,139.9 585.0,139.9 585.0,140.9 586.9,140.9 586.9,140.3 588.8,140.3 588.8,139.5 590.6,139.5 590.6,137.4 592.5,137.4 592.5,136.9 594.4,136.9 594.4,138.3 596.2,138.3 596.2,139.5 598.1,139.5 598.1,139.8 600.0,141.2 600.0,148.0" fill="#86fb96" />
<polygon points="630.0,148.0 630.0,140.8 631.7,140.8 631.7,139.9 633.3,139.9 633.3,138.9 635.0,138.9 635.0,138.0 636.7,138.0 636.7,137.8 638.3,137.8 638.3,137.3 640.0,137.3 640.0,136.3 641.7,136.3 641.7,136.4 643.3,136.4 643.3,137.4 645.0,137.4 645.0,138.4 646.7,138.4 646.7,137.9 648.3,137.9 648.3,139.5 650.0,140.0 650.0,148.0" fill="#86fb96" />
<polygon points="682.5,148.0 682.5,141.9 684.4,141.9 684.4,141.7 686.2,141.7 686.2,141.7 688.1,141.7 688.1,141.2 690.0,141.2 690.0,148.0" fill="#86fb96" />
<polygon points="705.0,148.0 705.0,143.7 706.8,143.7 706.8,144.7 708.5,144.7 708.5,144.0 710.2,144.0 710.2,144.7 712.0,144.7 712.0,145.0 713.8,144.2 713.8,148.0" fill="#86fb96" />
<polygon points="720.0,148.0 720.0,139.3 721.7,139.3 721.7,139.2 723.3,139.2 723.3,140.0 725.0,140.0 725.0,139.5 726.7,139.5 726.7,138.5 728.3,138.5 728.3,138.3 730.0,138.3 730.0,138.2 731.7,138.2 731.7,139.3 733.3,139.3 733.3,139.0 735.0,139.0 735.0,137.8 736.7,137.8 736.7,138.8 738.3,138.8 738.3,138.9 740.0,138.9 740.0,138.3 741.7,138.3 741.7,137.4 743.3,137.4 743.3,137.4 745.0,137.4 745.0,136.4 746.7,136.4 746.7,135.9 748.3,135.9 748.3,137.1 750.0,137.1 750.0,136.2 751.7,136.2 751.7,135.7 753.3,135.7 753.3,136.0 755.0,136.0 755.0,134.9 756.9,134.9 756.9,135.0 758.8,135.0 758.8,134.3 760.6,134.3 760.6,132.7 762.5,132.7 762.5,132.1 764.3,132.1 764.3,132.7 766.2,132.7 766.2,133.1 768.0,133.1 768.0,134.1 770.0,136.2 770.0,148.0" fill="#86fb96" />
<polygon points="782.5,148.0 782.5,136.2 786.0,136.2 786.0,148.0" fill="#86fb96" />
<polygon points="790.0,148.0 790.0,137.0 795.0,137.0 795.0,148.0" fill="#86fb96" />
<polygon points="815.0,148.0 815.0,139.6 816.7,139.6 816.7,139.6 818.3,139.6 818.3,138.9 820.0,138.9 820.0,139.9 821.7,139.9 821.7,138.8 823.3,138.8 823.3,138.7 825.0,138.7 825.0,138.6 826.7,138.6 826.7,139.3 828.3,139.3 828.3,138.7 830.0,138.7 830.0,139.7 831.7,139.7 831.7,139.2 833.3,139.2 833.3,139.4 835.0,139.5 835.0,148.0" fill="#86fb96" />
<polygon points="841.2,148.0 841.2,142.5 842.9,142.5 842.9,141.4 844.6,141.4 844.6,141.8 846.3,141.8 846.3,141.0 848.0,141.0 848.0,140.4 849.7,140.4 849.7,141.4 851.4,141.4 851.4,140.0 853.1,140.0 853.1,140.2 854.8,140.2 854.8,140.3 856.5,140.3 856.5,139.7 858.2,139.7 858.2,139.0 859.9,139.0 859.9,139.0 861.6,139.0 861.6,138.7 863.3,138.7 863.3,138.8 865.0,138.8 865.0,137.4 866.6,137.4 866.6,137.8 868.2,137.8 868.2,137.1 869.9,137.1 869.9,136.9 871.5,136.9 871.5,137.4 873.1,137.4 873.1,136.8 874.8,136.8 874.8,136.6 876.4,136.6 876.4,136.7 878.0,136.7 878.0,136.7 879.7,136.7 879.7,135.7 881.4,135.7 881.4,135.8 883.1,135.8 883.1,135.4 884.9,135.4 884.9,135.2 886.6,135.2 886.6,135.2 888.3,135.2 888.3,134.6 890.0,134.6 890.0,134.6 891.7,134.6 891.7,134.8 893.4,134.8 893.4,135.9 895.1,135.9 895.1,135.9 896.9,135.9 896.9,136.5 898.6,136.5 898.6,137.0 900.3,137.0 900.3,136.3 902.0,136.3 902.0,137.1 903.6,137.1 903.6,138.2 905.2,138.2 905.2,138.6 906.9,138.6 906.9,138.0 908.5,138.0 908.5,138.5 910.1,138.5 910.1,139.6 911.8,139.6 911.8,139.5 913.4,139.5 913.4,140.3 915.0,140.3 915.0,140.6 916.6,140.6 916.6,141.1 918.2,141.1 918.2,140.9 919.9,140.9 919.9,140.7 921.5,140.7 921.5,139.1 923.1,139.1 923.1,139.6 924.8,139.6 924.8,139.1 926.4,139.1 926.4,137.8 928.0,137.8 928.0,138.6 929.7,138.6 929.7,138.5 931.4,138.5 931.4,137.1 933.1,137.1 933.1,138.0 934.9,138.0 934.9,136.8 936.6,136.8 936.6,136.7 938.3,136.7 938.3,137.3 940.0,137.3 940.0,136.8 941.7,136.8 941.7,136.0 943.3,136.0 943.3,136.7 945.0,136.7 945.0,137.1 946.7,137.1 946.7,137.2 948.3,137.2 948.3,137.2 950.0,137.2 950.0,137.7 951.7,137.7 951.7,139.4 953.3,139.4 953.3,139.4 955.0,141.2 955.0,148.0" fill="#86fb96" />
<polygon points="982.5,148.0 982.5,137.1 984.4,137.1 984.4,136.7 986.3,136.7 986.3,135.8 988.2,135.8 988.2,136.1 990.1,136.1 990.1,136.4 992.0,136.4 992.0,136.0 993.6,136.0 993.6,135.6 995.2,135.6 995.2,137.3 996.9,137.3 996.9,137.2 998.5,137.2 998.5,137.8 1000.1,137.8 1000.1,136.6 1001.8,136.6 1001.8,137.1 1003.4,137.1 1003.4,137.0 1005.0,138.0 1005.0,148.0" fill="#86fb96" />
<polygon points="1005.0,148.0 1005.0,144.2 1006.7,144.2 1006.7,143.4 1008.3,143.4 1008.3,143.2 1010.0,143.2 1010.0,143.6 1011.7,143.6 1011.7,144.4 1013.3,144.4 1013.3,144.3 1015.0,144.3 1015.0,143.4 1016.7,143.4 1016.7,143.2 1018.3,143.2 1018.3,144.4 1020.0,144.4 1020.0,143.9 1021.7,143.9 1021.7,144.1 1023.3,144.1 1023.3,143.1 1025.0,143.1 1025.0,143.0 1026.7,143.0 1026.7,144.1 1028.3,144.1 1028.3,143.6 1030.0,143.8 1030.0,148.0" fill="#86fb96" />
<polygon points="1056.7,148.0 1056.7,136.2 1058.3,136.2 1058.3,148.0" fill="#86fb96" />
<polygon points="1061.7,148.0 1061.7,136.2 1063.3,136.2 1063.3,148.0" fill="#86fb96" />
<polygon points="1071.7,148.0 1071.7,136.2 1073.3,136.2 1073.3,148.0" fill="#86fb96" />
<polygon points="1081.0,148.0 1081.0,138.3 1082.8,138.3 1082.8,139.5 1084.5,139.5 1084.5,138.8 1086.2,138.8 1086.2,138.9 1088.0,138.9 1088.0,137.6 1089.8,137.6 1089.8,138.6 1091.5,138.6 1091.5,137.2 1093.2,137.2 1093.2,138.3 1095.0,138.3 1095.0,137.4 1096.7,137.4 1096.7,137.0 1098.3,137.0 1098.3,137.1 1100.0,137.1 1100.0,137.4 1101.7,137.4 1101.7,136.1 1103.3,136.1 1103.3,135.7 1105.0,135.7 1105.0,136.0 1106.9,136.0 1106.9,135.5 1108.8,135.5 1108.8,135.1 1110.6,135.1 1110.6,135.1 1112.5,135.1 1112.5,134.8 1114.3,134.8 1114.3,135.4 1116.1,135.4 1116.1,135.9 1117.9,135.9 1117.9,136.3 1119.6,136.3 1119.6,137.3 1121.4,137.3 1121.4,136.9 1123.2,136.9 1123.2,137.6 1125.0,137.6 1125.0,137.5 1126.7,137.5 1126.7,137.6 1128.3,137.6 1128.3,137.0 1130.0,137.0 1130.0,137.3 1131.7,137.3 1131.7,136.8 1133.3,136.8 1133.3,137.8 1135.0,137.8 1135.0,137.4 1136.7,137.4 1136.7,136.7 1138.3,136.7 1138.3,137.1 1140.0,137.1 1140.0,137.7 1141.7,137.7 1141.7,136.5 1143.3,136.5 1143.3,137.8 1145.0,137.8 1145.0,137.4 1146.7,137.4 1146.7,137.7 1148.3,137.7 1148.3,138.4 1150.0,138.4 1150.0,137.8 1151.7,137.8 1151.7,138.2 1153.3,138.2 1153.3,138.6 1155.0,138.6 1155.0,139.3 1156.7,139.3 1156.7,138.4 1158.3,138.4 1158.3,139.4 1160.0,139.4 1160.0,139.3 1161.7,139.3 1161.7,138.9 1163.3,138.9 1163.3,138.2 1165.0,138.2 1165.0,137.8 1166.7,137.8 1166.7,137.0 1168.3,137.0 1168.3,136.7 1170.0,136.7 1170.0,136.3 1171.7,136.3 1171.7,137.1 1173.3,137.1 1173.3,135.9 1175.0,135.9 1175.0,135.5 1176.7,135.5 1176.7,135.6 1178.3,135.6 1178.3,137.0 1180.0,137.0 1180.0,137.3 1181.7,137.3 1181.7,137.2 1183.3,137.2 1183.3,136.8 1185.0,136.8 1185.0,136.9 1186.7,136.9 1186.7,137.2 1188.3,137.2 1188.3,137.7 1190.0,137.7 1190.0,137.5 1191.7,137.5 1191.7,137.8 1193.3,137.8 1193.3,137.5 1195.0,137.5 1195.0,138.5 1196.7,138.5 1196.7,138.4 1198.3,138.4 1198.3,137.7 1200.0,137.7 1200.0,137.1 1201.7,137.1 1201.7,138.2 1203.3,138.2 1203.3,137.0 1205.0,137.0 1205.0,137.0 1206.7,137.0 1206.7,136.4 1208.3,136.4 1208.3,136.9 1210.0,136.9 1210.0,137.0 1211.7,137.0 1211.7,137.2 1213.3,137.2 1213.3,137.0 1215.0,137.0 1215.0,137.7 1216.7,137.7 1216.7,137.1 1218.3,137.1 1218.3,137.7 1220.0,137.7 1220.0,137.7 1221.7,137.7 1221.7,138.4 1223.3,138.4 1223.3,138.0 1225.0,138.0 1225.0,138.2 1227.0,138.2 1227.0,139.0 1229.0,139.0 1229.0,139.2 1231.0,140.0 1231.0,148.0" fill="#86fb96" />
<polygon points="1236.0,148.0 1236.0,141.4 1237.7,141.4 1237.7,141.5 1239.4,141.5 1239.4,142.2 1241.1,142.2 1241.1,142.3 1242.8,142.3 1242.8,142.6 1244.5,142.5 1244.5,148.0" fill="#86fb96" />
<polygon points="1270.0,148.0 1270.0,141.6 1271.7,141.6 1271.7,140.6 1273.3,140.6 1273.3,140.2 1275.0,140.2 1275.0,141.0 1276.7,141.0 1276.7,139.4 1278.3,139.4 1278.3,140.1 1280.0,140.1 1280.0,139.7 1281.7,139.7 1281.7,138.5 1283.3,138.5 1283.3,139.5 1285.0,139.5 1285.0,139.4 1286.7,139.4 1286.7,138.7 1288.3,138.7 1288.3,138.6 1290.0,138.6 1290.0,138.5 1291.7,138.5 1291.7,137.2 1293.3,137.2 1293.3,137.6 1295.0,137.6 1295.0,137.3 1296.7,137.3 1296.7,137.6 1298.3,137.6 1298.3,137.4 1300.0,137.4 1300.0,137.2 1301.7,137.2 1301.7,136.6 1303.3,136.6 1303.3,136.9 1305.0,136.9 1305.0,136.3 1306.8,136.3 1306.8,136.1 1308.6,136.1 1308.6,135.1 1310.4,135.1 1310.4,134.6 1312.1,134.6 1312.1,134.6 1313.9,134.6 1313.9,134.7 1315.7,134.7 1315.7,134.1 1317.5,134.1 1317.5,135.0 1319.3,135.0 1319.3,135.0 1321.1,135.0 1321.1,135.4 1322.9,135.4 1322.9,135.8 1324.6,135.8 1324.6,136.2 1326.4,136.2 1326.4,136.3 1328.2,136.3 1328.2,135.8 1330.0,135.8 1330.0,137.5 1331.7,137.5 1331.7,137.3 1333.3,137.3 1333.3,136.8 1335.0,136.8 1335.0,136.7 1336.7,136.7 1336.7,136.8 1338.3,136.8 1338.3,135.8 1340.0,135.8 1340.0,136.7 1341.7,136.7 1341.7,135.8 1343.3,135.8 1343.3,135.4 1345.0,135.4 1345.0,135.6 1346.8,135.6 1346.8,136.5 1348.5,136.5 1348.5,135.7 1350.2,135.7 1350.2,136.7 1352.0,136.7 1352.0,137.2 1353.8,137.2 1353.8,136.5 1355.5,136.5 1355.5,136.4 1357.2,136.4 1357.2,136.7 1359.0,136.7 1359.0,137.1 1360.8,137.1 1360.8,137.3 1362.5,137.0 1362.5,148.0" fill="#86fb96" />
<polygon points="1365.0,148.0 1365.0,138.9 1366.6,138.9 1366.6,138.8 1368.2,138.8 1368.2,137.6 1369.9,137.6 1369.9,137.5 1371.5,137.5 1371.5,137.5 1373.1,137.5 1373.1,138.0 1374.8,138.0 1374.8,137.1 1376.4,137.1 1376.4,137.3 1378.0,137.3 1378.0,136.2 1379.9,136.2 1379.9,135.5 1381.8,135.5 1381.8,135.0 1383.8,135.0 1383.8,134.8 1385.0,138.0 1385.0,148.0" fill="#86fb96" />
<polygon points="1387.5,148.0 1387.5,137.8 1389.6,137.8 1389.6,137.8 1391.7,137.8 1391.7,137.2 1393.8,137.5 1393.8,148.0" fill="#86fb96" />
<polygon points="1398.8,148.0 1398.8,140.0 1400.4,140.0 1400.4,139.3 1402.0,139.3 1402.0,138.7 1403.6,138.7 1403.6,137.5 1405.2,137.5 1405.2,138.1 1406.8,138.1 1406.8,136.3 1408.4,136.3 1408.4,136.9 1410.0,136.9 1410.0,136.2 1411.7,136.2 1411.7,134.4 1413.3,134.4 1413.3,134.9 1415.0,134.9 1415.0,135.1 1416.7,135.1 1416.7,135.1 1418.3,135.1 1418.3,134.0 1420.0,134.0 1420.0,133.4 1421.7,133.4 1421.7,133.6 1423.4,133.6 1423.4,135.1 1425.1,135.1 1425.1,134.3 1426.9,134.3 1426.9,135.2 1428.6,135.2 1428.6,134.8 1430.3,134.8 1430.3,135.7 1432.0,135.7 1432.0,136.7 1433.6,136.7 1433.6,135.5 1435.2,135.5 1435.2,136.6 1436.8,136.6 1436.8,136.2 1438.4,136.2 1438.4,136.8 1440.0,136.8 1440.0,136.6 1441.6,136.6 1441.6,136.4 1443.2,136.4 1443.2,138.0 1444.8,138.0 1444.8,137.9 1446.4,137.9 1446.4,137.7 1448.0,137.7 1448.0,138.2 1450.0,138.2 1450.0,141.6 1452.0,141.6 1452.0,144.2 1454.1,144.2 1454.1,143.9 1456.2,144.2 1456.2,148.0" fill="#86fb96" />
<polygon points="1458.8,148.0 1458.8,136.9 1460.4,136.9 1460.4,137.6 1462.0,137.6 1462.0,137.9 1463.6,137.9 1463.6,139.1 1465.2,139.1 1465.2,138.1 1466.8,138.1 1466.8,139.7 1468.4,139.7 1468.4,140.2 1470.0,140.2 1470.0,139.4 1471.7,139.4 1471.7,140.8 1473.4,140.8 1473.4,140.6 1475.2,140.6 1475.2,141.0 1476.9,141.0 1476.9,140.2 1478.6,140.2 1478.6,140.4 1480.3,140.4 1480.3,140.6 1482.0,140.6 1482.0,141.7 1483.8,141.0 1483.8,148.0" fill="#86fb96" />
<polygon points="1488.8,148.0 1488.8,141.4 1490.4,141.4 1490.4,140.9 1492.0,140.9 1492.0,140.9 1493.6,140.9 1493.6,140.6 1495.2,140.6 1495.2,140.1 1496.8,140.1 1496.8,140.1 1498.4,140.1 1498.4,141.1 1500.0,141.1 1500.0,140.2 1501.6,140.2 1501.6,141.3 1503.2,141.3 1503.2,140.3 1504.8,140.3 1504.8,140.4 1506.4,140.4 1506.4,140.9 1508.0,140.9 1508.0,140.5 1509.6,140.5 1509.6,140.9 1511.2,140.9 1511.2,142.0 1511.5,142.0 1511.5,127.6 1513.1,127.6 1513.1,125.7 1514.8,125.7 1514.8,123.7 1516.4,123.7 1516.4,122.4 1518.0,122.4 1518.0,120.7 1519.8,120.7 1519.8,118.3 1521.5,118.3 1521.5,116.9 1523.2,116.9 1523.2,114.0 1525.0,114.0 1525.0,113.4 1526.7,113.4 1526.7,112.6 1528.3,112.6 1528.3,112.7 1530.0,112.7 1530.0,112.2 1531.7,112.2 1531.7,111.3 1533.3,111.3 1533.3,110.6 1535.0,110.6 1535.0,111.7 1536.7,111.7 1536.7,110.1 1538.3,110.1 1538.3,110.3 1540.0,110.3 1540.0,109.7 1541.7,109.7 1541.7,109.9 1543.3,109.9 1543.3,110.8 1545.0,110.8 1545.0,111.4 1546.7,111.4 1546.7,110.5 1548.3,110.5 1548.3,111.4 1550.0,111.4 1550.0,111.0 1551.7,111.0 1551.7,111.6 1553.3,111.6 1553.3,111.6 1555.0,111.6 1555.0,111.5 1556.7,111.5 1556.7,113.1 1558.3,113.1 1558.3,114.9 1560.0,114.9 1560.0,117.6 1562.0,117.6 1562.0,119.5 1564.0,119.5 1564.0,121.6 1566.0,121.6 1566.0,133.7 1568.0,133.7 1568.0,134.5 1570.0,134.5 1570.0,134.3 1572.0,134.3 1572.0,134.4 1574.5,134.4 1574.5,142.5 1576.3,142.5 1576.3,142.6 1578.1,142.6 1578.1,143.2 1579.9,143.2 1579.9,143.0 1581.6,143.0 1581.6,143.4 1583.4,143.4 1583.4,143.7 1585.2,143.7 1585.2,144.4 1587.0,144.5 1587.0,148.0" fill="#86fb96" />
<polygon points="1741.0,148.0 1741.0,145.5 1746.0,145.5 1746.0,148.0" fill="#86fb96" />
<polygon points="1752.0,148.0 1752.0,145.5 1758.0,145.5 1758.0,148.0" fill="#86fb96" />
<rect x="820.00" y="145.00" width="8.00" height="3.00" fill="#8b5a2b" />
<rect x="999.00" y="145.50" width="8.00" height="2.50" fill="#3be07a" />
<rect x="245.00" y="141.50" width="6.00" height="6.50" fill="#3ee48a" />
<rect x="310.00" y="145.20" width="4.50" height="2.80" fill="#7a7a7a" />
<rect x="386.00" y="145.40" width="15.60" height="2.60" fill="#7a7a7a" />
<rect x="394.20" y="142.40" width="1.20" height="5.00" fill="#7a7a7a" />
<polygon points="1291.0,237.6 1291.0,228.7 1292.8,228.7 1292.8,227.0 1294.6,227.0 1294.6,225.0 1296.4,225.0 1296.4,223.6 1298.2,223.6 1298.2,222.4 1300.0,222.4 1300.0,220.8 1301.7,220.8 1301.7,221.0 1303.3,221.0 1303.3,220.9 1305.0,220.9 1305.0,221.6 1306.7,221.6 1306.7,223.2 1308.3,223.2 1308.3,222.0 1310.0,222.0 1310.0,223.0 1311.7,223.0 1311.7,223.6 1313.3,223.6 1313.3,224.3 1315.0,224.3 1315.0,223.5 1316.7,223.5 1316.7,223.9 1318.3,223.9 1318.3,224.2 1320.0,224.2 1320.0,224.8 1321.7,224.8 1321.7,224.9 1323.3,224.9 1323.3,225.8 1325.0,225.8 1325.0,225.6 1326.7,225.6 1326.7,225.7 1328.3,225.7 1328.3,224.1 1330.0,224.1 1330.0,224.2 1331.6,224.2 1331.6,224.0 1333.2,224.0 1333.2,222.9 1334.8,222.9 1334.8,220.8 1336.4,220.8 1336.4,219.6 1338.0,219.6 1338.0,217.1 1339.7,217.1 1339.7,218.0 1341.4,218.0 1341.4,219.1 1343.1,219.1 1343.1,219.0 1344.8,219.0 1344.8,219.3 1346.5,219.3 1346.5,219.6 1348.2,219.6 1348.2,218.5 1349.8,218.5 1349.8,218.4 1351.5,218.4 1351.5,218.6 1353.2,218.6 1353.2,219.4 1354.9,219.4 1354.9,219.9 1356.6,219.9 1356.6,220.5 1358.3,220.5 1358.3,220.2 1360.0,220.2 1360.0,220.3 1361.7,220.3 1361.7,219.2 1363.4,219.2 1363.4,217.4 1365.1,217.4 1365.1,216.2 1366.9,216.2 1366.9,214.0 1368.6,214.0 1368.6,214.1 1370.3,214.1 1370.3,211.8 1372.0,211.8 1372.0,211.8 1373.7,211.8 1373.7,210.5 1375.4,210.5 1375.4,209.2 1377.1,209.2 1377.1,208.2 1378.9,208.2 1378.9,207.7 1380.6,207.7 1380.6,207.7 1382.3,207.7 1382.3,207.1 1384.0,207.1 1384.0,205.3 1385.7,205.3 1385.7,206.1 1387.3,206.1 1387.3,207.7 1389.0,207.7 1389.0,208.6 1390.7,208.6 1390.7,209.1 1392.3,209.1 1392.3,209.7 1394.0,209.7 1394.0,211.2 1395.6,211.2 1395.6,213.5 1397.2,213.5 1397.2,217.4 1398.8,217.4 1398.8,221.1 1400.4,221.1 1400.4,225.4 1402.0,225.4 1402.0,228.3 1403.6,228.3 1403.6,229.5 1405.2,229.5 1405.2,229.6 1406.8,229.6 1406.8,229.9 1408.4,229.9 1408.4,230.7 1410.0,232.0 1410.0,237.6" fill="#ff78cc" fill-opacity="0.9"/>
<polygon points="1404.0,237.6 1404.0,221.8 1405.6,221.8 1405.6,221.2 1407.2,221.2 1407.2,220.3 1408.8,220.3 1408.8,219.5 1410.4,219.5 1410.4,220.2 1412.0,220.2 1412.0,220.3 1413.6,220.3 1413.6,219.7 1415.2,219.7 1415.2,219.2 1416.8,219.2 1416.8,219.7 1418.4,219.7 1418.4,220.0 1420.0,220.0 1420.0,218.5 1421.7,218.5 1421.7,217.4 1423.4,217.4 1423.4,217.3 1425.1,217.3 1425.1,216.7 1426.9,216.7 1426.9,216.5 1428.6,216.5 1428.6,214.9 1430.3,214.9 1430.3,215.2 1432.0,215.2 1432.0,214.4 1433.6,214.4 1433.6,214.4 1435.2,214.4 1435.2,214.2 1436.9,214.2 1436.9,216.0 1438.5,216.0 1438.5,215.2 1440.1,215.2 1440.1,216.5 1441.8,216.5 1441.8,215.8 1443.4,215.8 1443.4,216.1 1445.0,216.1 1445.0,217.5 1446.7,217.5 1446.7,217.2 1448.3,217.2 1448.3,218.9 1450.0,218.9 1450.0,218.7 1451.7,218.7 1451.7,218.7 1453.3,218.7 1453.3,219.3 1455.0,219.3 1455.0,220.2 1456.7,220.2 1456.7,221.2 1458.3,221.2 1458.3,222.3 1460.0,222.3 1460.0,221.4 1461.6,221.4 1461.6,223.4 1463.2,223.4 1463.2,224.7 1464.8,224.7 1464.8,227.7 1466.4,227.7 1466.4,227.8 1468.0,230.0 1468.0,237.6" fill="#72ccf5" fill-opacity="0.9"/>
<polygon points="1404.0,237.6 1404.0,221.2 1405.6,221.2 1405.6,220.8 1407.2,220.8 1407.2,221.0 1408.8,221.0 1408.8,221.5 1410.4,221.5 1410.4,221.1 1412.0,221.1 1412.0,220.4 1413.6,220.4 1413.6,221.2 1415.3,221.2 1415.3,221.3 1416.9,221.3 1416.9,220.5 1418.5,220.5 1418.5,220.5 1420.2,220.5 1420.2,222.1 1421.8,222.1 1421.8,222.1 1423.5,222.1 1423.5,221.1 1425.1,221.1 1425.1,222.5 1426.7,222.5 1426.7,222.2 1428.4,222.2 1428.4,222.5 1430.0,222.5 1430.0,222.7 1431.7,222.7 1431.7,222.6 1433.3,222.6 1433.3,222.4 1435.0,222.4 1435.0,223.1 1436.7,223.1 1436.7,223.4 1438.3,223.4 1438.3,224.7 1440.0,224.7 1440.0,223.3 1441.7,223.3 1441.7,225.0 1443.3,225.0 1443.3,223.8 1445.0,223.8 1445.0,224.2 1446.7,224.2 1446.7,225.2 1448.3,225.2 1448.3,225.4 1450.0,225.4 1450.0,224.9 1451.7,224.9 1451.7,223.8 1453.4,223.8 1453.4,224.1 1455.1,224.1 1455.1,223.5 1456.9,223.5 1456.9,224.0 1458.6,224.0 1458.6,222.3 1460.3,222.3 1460.3,222.2 1462.0,222.2 1462.0,222.7 1463.6,222.7 1463.6,222.6 1465.2,222.6 1465.2,224.6 1466.8,224.6 1466.8,226.8 1468.4,226.8 1468.4,228.1 1470.0,229.0 1470.0,237.6" fill="#3cc4b8" fill-opacity="0.85"/>
<polygon points="1440.0,237.6 1440.0,227.2 1441.7,227.2 1441.7,226.8 1443.4,226.8 1443.4,226.4 1445.1,226.4 1445.1,227.6 1446.8,227.6 1446.8,226.0 1448.5,226.0 1448.5,226.5 1450.2,226.5 1450.2,226.4 1451.8,226.4 1451.8,225.0 1453.5,225.0 1453.5,224.5 1455.2,224.5 1455.2,225.4 1456.9,225.4 1456.9,224.4 1458.6,224.4 1458.6,223.3 1460.3,223.3 1460.3,223.8 1462.0,223.8 1462.0,222.7 1463.6,222.7 1463.6,222.6 1465.2,222.6 1465.2,222.1 1466.8,222.1 1466.8,223.5 1468.4,223.5 1468.4,223.7 1470.0,223.7 1470.0,223.2 1471.7,223.2 1471.7,223.6 1473.3,223.6 1473.3,221.8 1475.0,221.8 1475.0,222.0 1476.7,222.0 1476.7,222.3 1478.3,222.3 1478.3,223.0 1480.0,223.0 1480.0,222.8 1481.7,222.8 1481.7,222.7 1483.4,222.7 1483.4,223.3 1485.1,223.3 1485.1,224.4 1486.9,224.4 1486.9,225.4 1488.6,225.4 1488.6,227.1 1490.3,227.1 1490.3,226.6 1492.0,226.6 1492.0,228.5 1493.6,228.5 1493.6,229.6 1495.2,229.6 1495.2,231.0 1496.8,231.0 1496.8,232.1 1498.4,232.1 1498.4,233.0 1500.0,234.0 1500.0,237.6" fill="#ff78cc" fill-opacity="0.9"/>
<polygon points="1320.0,237.6 1320.0,231.7 1321.7,231.7 1321.7,231.4 1323.3,231.4 1323.3,231.2 1325.0,231.2 1325.0,231.7 1326.7,231.7 1326.7,230.2 1328.3,230.2 1328.3,230.1 1330.0,230.1 1330.0,230.9 1331.7,230.9 1331.7,229.7 1333.3,229.7 1333.3,229.1 1335.0,229.1 1335.0,228.8 1336.7,228.8 1336.7,229.4 1338.3,229.4 1338.3,228.8 1340.0,228.8 1340.0,229.7 1341.7,229.7 1341.7,229.2 1343.3,229.2 1343.3,229.1 1345.0,229.1 1345.0,227.6 1346.7,227.6 1346.7,227.0 1348.3,227.0 1348.3,226.8 1350.0,226.8 1350.0,227.3 1351.7,227.3 1351.7,227.5 1353.3,227.5 1353.3,226.8 1355.0,226.8 1355.0,226.2 1356.7,226.2 1356.7,226.3 1358.3,226.3 1358.3,226.4 1360.0,226.4 1360.0,226.3 1361.7,226.3 1361.7,225.3 1363.4,225.3 1363.4,224.3 1365.1,224.3 1365.1,222.9 1366.9,222.9 1366.9,220.7 1368.6,220.7 1368.6,220.9 1370.3,220.9 1370.3,218.8 1372.0,218.8 1372.0,218.1 1373.6,218.1 1373.6,216.6 1375.2,216.6 1375.2,216.0 1376.8,216.0 1376.8,213.9 1378.4,213.9 1378.4,212.7 1380.0,212.7 1380.0,211.5 1381.7,211.5 1381.7,212.2 1383.4,212.2 1383.4,214.4 1385.1,214.4 1385.1,214.7 1386.9,214.7 1386.9,215.1 1388.6,215.1 1388.6,216.1 1390.3,216.1 1390.3,218.0 1392.0,218.0 1392.0,218.0 1393.6,218.0 1393.6,219.1 1395.2,219.1 1395.2,221.8 1396.8,221.8 1396.8,223.1 1398.4,223.1 1398.4,225.3 1400.0,225.3 1400.0,225.3 1401.7,225.3 1401.7,226.5 1403.3,226.5 1403.3,227.6 1405.0,227.6 1405.0,228.1 1406.7,228.1 1406.7,228.7 1408.3,228.7 1408.3,227.7 1410.0,227.7 1410.0,228.6 1411.7,228.6 1411.7,228.8 1413.3,228.8 1413.3,229.4 1415.0,229.4 1415.0,231.4 1416.7,231.4 1416.7,231.1 1418.3,231.1 1418.3,232.3 1420.0,232.0 1420.0,237.6" fill="#7570b5" fill-opacity="0.95"/>
<polygon points="1450.0,237.6 1450.0,229.8 1451.7,229.8 1451.7,230.1 1453.3,230.1 1453.3,228.8 1455.0,228.8 1455.0,227.9 1456.7,227.9 1456.7,228.3 1458.3,228.3 1458.3,228.0 1460.0,228.0 1460.0,226.0 1461.7,226.0 1461.7,226.3 1463.3,226.3 1463.3,225.8 1465.0,225.8 1465.0,224.5 1466.8,224.5 1466.8,224.6 1468.6,224.6 1468.6,224.0 1470.4,224.0 1470.4,223.9 1472.2,223.9 1472.2,223.8 1474.0,223.8 1474.0,224.2 1475.8,224.2 1475.8,225.1 1477.7,225.1 1477.7,225.1 1479.5,225.1 1479.5,225.6 1481.3,225.6 1481.3,227.0 1483.2,227.0 1483.2,228.5 1485.0,228.5 1485.0,228.4 1486.7,228.4 1486.7,229.5 1488.3,229.5 1488.3,230.1 1490.0,230.1 1490.0,232.0 1491.7,232.0 1491.7,232.4 1493.3,232.4 1493.3,232.4 1495.0,234.0 1495.0,237.6" fill="#7570b5" fill-opacity="0.95"/>
<polygon points="1500.0,237.6 1500.0,233.3 1501.7,233.3 1501.7,233.4 1503.3,233.4 1503.3,233.3 1505.0,233.3 1505.0,233.0 1506.7,233.0 1506.7,231.6 1508.3,231.6 1508.3,231.3 1510.0,231.3 1510.0,231.9 1511.7,231.9 1511.7,230.9 1513.3,230.9 1513.3,230.3 1515.0,230.3 1515.0,229.9 1516.7,229.9 1516.7,230.6 1518.3,230.6 1518.3,229.1 1520.0,229.1 1520.0,229.1 1521.7,229.1 1521.7,228.7 1523.3,228.7 1523.3,228.8 1525.0,228.8 1525.0,229.7 1526.7,229.7 1526.7,229.9 1528.3,229.9 1528.3,228.8 1530.0,228.8 1530.0,228.5 1531.7,228.5 1531.7,229.4 1533.3,229.4 1533.3,228.5 1535.0,228.5 1535.0,228.1 1536.7,228.1 1536.7,229.7 1538.3,229.7 1538.3,228.9 1540.0,228.9 1540.0,229.6 1541.7,229.6 1541.7,229.1 1543.3,229.1 1543.3,230.2 1545.0,230.2 1545.0,229.7 1546.7,229.7 1546.7,229.4 1548.3,229.4 1548.3,229.4 1550.0,229.4 1550.0,230.6 1551.7,230.6 1551.7,231.0 1553.3,231.0 1553.3,231.7 1555.0,231.7 1555.0,230.5 1556.7,230.5 1556.7,231.7 1558.3,231.7 1558.3,231.5 1560.0,231.5 1560.0,232.0 1561.6,232.0 1561.6,231.4 1563.2,231.4 1563.2,231.6 1564.8,231.6 1564.8,232.0 1566.4,232.0 1566.4,232.8 1568.0,232.8 1568.0,231.3 1569.6,231.3 1569.6,232.0 1571.2,232.0 1571.2,232.5 1572.8,232.5 1572.8,232.8 1574.4,232.8 1574.4,231.5 1576.0,231.5 1576.0,231.3 1577.8,231.3 1577.8,233.0 1579.5,233.0 1579.5,233.4 1581.2,233.4 1581.2,232.7 1583.0,232.7 1583.0,232.2 1584.8,232.2 1584.8,234.0 1586.5,234.0 1586.5,233.3 1588.2,233.3 1588.2,234.5 1590.0,234.0 1590.0,237.6" fill="#ff78cc" fill-opacity="0.9"/>
<polygon points="1370.0,237.6 1370.0,233.2 1371.7,233.2 1371.7,233.4 1373.3,233.4 1373.3,232.1 1375.0,232.1 1375.0,233.0 1376.7,233.0 1376.7,231.8 1378.3,231.8 1378.3,232.0 1380.0,232.0 1380.0,232.6 1381.7,232.6 1381.7,232.4 1383.3,232.4 1383.3,231.1 1385.0,231.1 1385.0,231.0 1386.7,231.0 1386.7,231.2 1388.3,231.2 1388.3,231.2 1390.0,231.2 1390.0,230.8 1391.7,230.8 1391.7,230.2 1393.3,230.2 1393.3,230.2 1395.0,230.2 1395.0,230.9 1396.7,230.9 1396.7,231.0 1398.3,231.0 1398.3,229.3 1400.0,229.3 1400.0,230.1 1401.6,230.1 1401.6,230.5 1403.2,230.5 1403.2,229.2 1404.8,229.2 1404.8,230.7 1406.4,230.7 1406.4,229.5 1408.0,229.5 1408.0,230.4 1409.6,230.4 1409.6,230.3 1411.2,230.3 1411.2,230.5 1412.8,230.5 1412.8,230.0 1414.4,230.0 1414.4,230.2 1416.0,230.2 1416.0,230.5 1417.6,230.5 1417.6,230.3 1419.2,230.3 1419.2,230.8 1420.8,230.8 1420.8,230.4 1422.4,230.4 1422.4,230.4 1424.0,230.4 1424.0,229.7 1425.6,229.7 1425.6,230.9 1427.2,230.9 1427.2,230.7 1428.8,230.7 1428.8,230.2 1430.4,230.2 1430.4,231.2 1432.0,231.2 1432.0,231.3 1433.6,231.3 1433.6,230.8 1435.2,230.8 1435.2,230.3 1436.8,230.3 1436.8,230.9 1438.4,230.9 1438.4,230.3 1440.0,230.3 1440.0,230.3 1441.7,230.3 1441.7,231.0 1443.3,231.0 1443.3,230.5 1445.0,230.5 1445.0,231.2 1446.7,231.2 1446.7,231.5 1448.3,231.5 1448.3,230.7 1450.0,230.7 1450.0,231.9 1451.7,231.9 1451.7,231.0 1453.3,231.0 1453.3,232.3 1455.0,232.3 1455.0,232.5 1456.7,232.5 1456.7,232.1 1458.3,232.1 1458.3,231.4 1460.0,231.4 1460.0,232.3 1461.7,232.3 1461.7,232.2 1463.3,232.2 1463.3,233.4 1465.0,233.4 1465.0,232.0 1466.7,232.0 1466.7,233.4 1468.3,233.4 1468.3,233.8 1470.0,233.8 1470.0,233.4 1471.7,233.4 1471.7,233.7 1473.3,233.7 1473.3,232.7 1475.0,232.7 1475.0,234.2 1476.7,234.2 1476.7,233.4 1478.3,233.4 1478.3,234.4 1480.0,234.4 1480.0,234.4 1481.7,234.4 1481.7,233.2 1483.3,233.2 1483.3,234.4 1485.0,234.4 1485.0,234.8 1486.7,234.8 1486.7,233.3 1488.3,233.3 1488.3,234.0 1490.0,234.0 1490.0,234.8 1491.7,234.8 1491.7,233.8 1493.3,233.8 1493.3,235.3 1495.0,235.3 1495.0,234.3 1496.7,234.3 1496.7,235.3 1498.3,235.3 1498.3,234.2 1500.0,235.0 1500.0,237.6" fill="#344a5a" fill-opacity="0.9"/>
<polygon points="1395.0,237.6 1395.0,234.0 1396.7,234.0 1396.7,234.2 1398.3,234.2 1398.3,232.4 1400.0,232.4 1400.0,231.9 1401.7,231.9 1401.7,231.8 1403.3,231.8 1403.3,230.9 1405.0,230.9 1405.0,229.8 1406.7,229.8 1406.7,229.5 1408.3,229.5 1408.3,228.9 1410.0,228.9 1410.0,229.8 1411.7,229.8 1411.7,229.2 1413.3,229.2 1413.3,229.5 1415.0,229.5 1415.0,228.1 1416.7,228.1 1416.7,229.1 1418.3,229.1 1418.3,227.8 1420.0,227.8 1420.0,228.4 1421.7,228.4 1421.7,228.5 1423.3,228.5 1423.3,227.9 1425.0,227.9 1425.0,228.7 1426.7,228.7 1426.7,228.3 1428.3,228.3 1428.3,228.5 1430.0,228.5 1430.0,229.2 1431.7,229.2 1431.7,228.0 1433.3,228.0 1433.3,229.7 1435.0,229.7 1435.0,229.2 1436.7,229.2 1436.7,229.0 1438.3,229.0 1438.3,229.9 1440.0,229.9 1440.0,229.1 1441.7,229.1 1441.7,230.5 1443.3,230.5 1443.3,230.0 1445.0,230.0 1445.0,229.7 1446.7,229.7 1446.7,230.1 1448.3,230.1 1448.3,229.2 1450.0,229.2 1450.0,228.4 1451.7,228.4 1451.7,229.1 1453.3,229.1 1453.3,227.5 1455.0,227.5 1455.0,228.6 1456.7,228.6 1456.7,227.2 1458.3,227.2 1458.3,227.6 1460.0,227.6 1460.0,227.9 1461.7,227.9 1461.7,227.6 1463.3,227.6 1463.3,228.2 1465.0,228.2 1465.0,228.0 1466.7,228.0 1466.7,227.9 1468.3,227.9 1468.3,228.4 1470.0,228.4 1470.0,229.0 1471.7,229.0 1471.7,230.3 1473.3,230.3 1473.3,230.4 1475.0,230.4 1475.0,231.0 1476.7,231.0 1476.7,232.0 1478.3,232.0 1478.3,231.0 1480.0,231.0 1480.0,231.5 1481.7,231.5 1481.7,232.6 1483.3,232.6 1483.3,231.8 1485.0,231.8 1485.0,232.1 1486.7,232.1 1486.7,233.1 1488.3,233.1 1488.3,233.0 1490.0,234.0 1490.0,237.6" fill="#3a4ab0" fill-opacity="0.85"/>
<polygon points="1380.0,237.6 1380.0,234.7 1381.7,234.7 1381.7,234.3 1383.3,234.3 1383.3,234.8 1385.0,234.8 1385.0,234.7 1386.7,234.7 1386.7,233.8 1388.3,233.8 1388.3,234.4 1390.0,234.4 1390.0,234.0 1391.7,234.0 1391.7,233.2 1393.3,233.2 1393.3,234.5 1395.0,234.5 1395.0,233.0 1396.7,233.0 1396.7,232.7 1398.3,232.7 1398.3,232.4 1400.0,232.4 1400.0,233.2 1401.7,233.2 1401.7,233.6 1403.3,233.6 1403.3,233.5 1405.0,233.5 1405.0,232.7 1406.7,232.7 1406.7,232.5 1408.3,232.5 1408.3,232.0 1410.0,232.0 1410.0,233.1 1411.7,233.1 1411.7,232.9 1413.3,232.9 1413.3,232.5 1415.0,232.5 1415.0,233.0 1416.7,233.0 1416.7,232.6 1418.3,232.6 1418.3,233.5 1420.0,233.5 1420.0,233.1 1421.7,233.1 1421.7,232.2 1423.3,232.2 1423.3,233.3 1425.0,233.3 1425.0,231.8 1426.7,231.8 1426.7,232.6 1428.3,232.6 1428.3,232.4 1430.0,232.4 1430.0,232.0 1431.7,232.0 1431.7,231.7 1433.3,231.7 1433.3,233.1 1435.0,233.1 1435.0,231.7 1436.7,231.7 1436.7,232.7 1438.3,232.7 1438.3,233.4 1440.0,233.4 1440.0,232.0 1441.7,232.0 1441.7,232.2 1443.3,232.2 1443.3,232.9 1445.0,232.9 1445.0,232.8 1446.7,232.8 1446.7,233.0 1448.3,233.0 1448.3,233.4 1450.0,233.4 1450.0,232.2 1451.7,232.2 1451.7,232.5 1453.3,232.5 1453.3,232.5 1455.0,232.5 1455.0,232.1 1456.7,232.1 1456.7,233.6 1458.3,233.6 1458.3,233.5 1460.0,233.5 1460.0,233.4 1461.7,233.4 1461.7,232.3 1463.3,232.3 1463.3,234.0 1465.0,234.0 1465.0,233.9 1466.7,233.9 1466.7,233.6 1468.3,233.6 1468.3,234.3 1470.0,234.3 1470.0,233.9 1471.7,233.9 1471.7,233.7 1473.3,233.7 1473.3,233.6 1475.0,233.6 1475.0,234.0 1476.7,234.0 1476.7,233.8 1478.3,233.8 1478.3,234.5 1480.0,235.0 1480.0,237.6" fill="#241a3a" fill-opacity="0.9"/>
<polygon points="957.0,237.6 957.0,232.4 958.6,232.4 958.6,232.1 960.3,232.1 960.3,232.1 961.9,232.1 961.9,231.6 963.5,231.6 963.5,230.5 965.2,230.5 965.2,230.7 966.8,230.7 966.8,230.2 968.5,230.2 968.5,230.6 970.1,230.6 970.1,229.9 971.7,229.9 971.7,229.1 973.4,229.1 973.4,229.5 975.0,229.5 975.0,229.8 976.7,229.8 976.7,228.1 978.4,228.1 978.4,228.9 980.1,228.9 980.1,226.9 981.8,226.9 981.8,226.9 983.5,226.9 983.5,226.5 985.2,226.5 985.2,227.0 986.8,227.0 986.8,226.9 988.5,226.9 988.5,226.2 990.2,226.2 990.2,225.0 991.9,225.0 991.9,225.6 993.6,225.6 993.6,224.2 995.3,224.2 995.3,223.6 997.0,223.6 997.0,224.4 998.6,224.4 998.6,224.4 1000.2,224.4 1000.2,225.0 1001.8,225.0 1001.8,225.4 1003.4,225.4 1003.4,226.4 1005.0,226.4 1005.0,225.9 1006.7,225.9 1006.7,227.4 1008.3,227.4 1008.3,228.0 1010.0,228.0 1010.0,229.1 1011.7,229.1 1011.7,229.2 1013.3,229.2 1013.3,230.6 1015.0,230.6 1015.0,231.1 1016.7,231.1 1016.7,230.9 1018.3,230.9 1018.3,230.9 1020.0,230.9 1020.0,231.9 1021.7,231.9 1021.7,231.1 1023.3,231.1 1023.3,232.9 1025.0,232.9 1025.0,231.7 1026.7,231.7 1026.7,231.7 1028.3,231.7 1028.3,232.1 1030.0,233.0 1030.0,237.6" fill="#ff7070" fill-opacity="0.9"/>
<polygon points="1030.0,237.6 1030.0,232.8 1031.7,232.8 1031.7,231.4 1033.3,231.4 1033.3,230.7 1035.0,230.7 1035.0,230.2 1036.7,230.2 1036.7,229.8 1038.3,229.8 1038.3,230.7 1040.0,230.7 1040.0,230.2 1041.7,230.2 1041.7,230.0 1043.3,230.0 1043.3,229.8 1045.0,229.8 1045.0,228.2 1046.7,228.2 1046.7,229.2 1048.4,229.2 1048.4,228.8 1050.1,228.8 1050.1,229.6 1051.8,229.6 1051.8,229.6 1053.5,229.6 1053.5,229.7 1055.2,229.7 1055.2,228.2 1056.9,228.2 1056.9,229.7 1058.6,229.7 1058.6,229.7 1060.3,229.7 1060.3,229.8 1062.0,229.8 1062.0,228.3 1064.0,228.3 1064.0,229.1 1066.0,229.1 1066.0,229.6 1068.0,229.6 1068.0,230.2 1069.8,230.2 1069.8,231.1 1071.5,231.1 1071.5,230.4 1073.2,230.4 1073.2,229.5 1075.0,229.5 1075.0,229.3 1076.7,229.3 1076.7,229.3 1078.3,229.3 1078.3,229.1 1080.0,229.1 1080.0,229.1 1081.7,229.1 1081.7,229.5 1083.3,229.5 1083.3,231.1 1085.0,231.1 1085.0,230.5 1086.8,230.5 1086.8,231.4 1088.5,231.4 1088.5,232.4 1090.2,232.4 1090.2,232.4 1092.0,234.0 1092.0,237.6" fill="#ff7070" fill-opacity="0.9"/>
<polygon points="872.0,237.6 872.0,233.6 873.6,233.6 873.6,233.3 875.2,233.3 875.2,233.7 876.9,233.7 876.9,232.7 878.5,232.7 878.5,232.3 880.1,232.3 880.1,233.1 881.8,233.1 881.8,231.9 883.4,231.9 883.4,232.2 885.0,232.2 885.0,231.4 886.7,231.4 886.7,230.4 888.4,230.4 888.4,231.2 890.1,231.2 890.1,231.3 891.8,231.3 891.8,232.0 893.5,232.0 893.5,231.3 895.2,231.3 895.2,232.0 896.9,232.0 896.9,231.8 898.6,231.8 898.6,231.3 900.3,231.3 900.3,232.6 902.0,232.6 902.0,231.3 903.6,231.3 903.6,233.0 905.2,233.0 905.2,232.2 906.8,232.2 906.8,232.3 908.4,232.3 908.4,233.1 910.0,234.0 910.0,237.6" fill="#ff7070" fill-opacity="0.9"/>
<polygon points="827.0,237.6 827.0,235.0 828.6,235.0 828.6,235.1 830.2,235.1 830.2,233.1 831.9,233.1 831.9,233.7 833.5,233.7 833.5,233.5 835.1,233.5 835.1,233.8 836.8,233.8 836.8,232.4 838.4,232.4 838.4,232.7 840.0,232.7 840.0,232.2 841.7,232.2 841.7,233.2 843.4,233.2 843.4,232.2 845.1,232.2 845.1,233.5 846.9,233.5 846.9,232.4 848.6,232.4 848.6,232.3 850.3,232.3 850.3,233.3 852.0,233.3 852.0,233.0 854.0,233.0 854.0,233.0 856.0,233.0 856.0,234.6 858.0,235.0 858.0,237.6" fill="#ff7070" fill-opacity="0.9"/>
<polygon points="340.0,237.6 340.0,234.2 341.7,234.2 341.7,235.2 343.3,235.2 343.3,234.7 345.0,234.7 345.0,234.5 346.7,234.5 346.7,233.9 348.3,233.9 348.3,233.1 350.0,233.1 350.0,232.8 351.7,232.8 351.7,232.8 353.3,232.8 353.3,233.7 355.0,233.7 355.0,232.3 356.7,232.3 356.7,233.7 358.3,233.7 358.3,232.1 360.0,232.1 360.0,232.5 361.7,232.5 361.7,233.2 363.3,233.2 363.3,235.1 365.0,235.0 365.0,237.6" fill="#ff7070" fill-opacity="0.9"/>
<polygon points="1726.0,237.6 1726.0,233.0 1727.8,233.0 1727.8,232.4 1729.5,232.4 1729.5,232.9 1731.2,232.9 1731.2,231.4 1733.0,231.4 1733.0,231.4 1734.8,231.4 1734.8,231.2 1736.5,231.2 1736.5,231.2 1738.2,231.2 1738.2,230.8 1740.0,230.8 1740.0,230.3 1741.7,230.3 1741.7,229.6 1743.3,229.6 1743.3,229.5 1745.0,229.5 1745.0,229.1 1746.7,229.1 1746.7,230.3 1748.3,230.3 1748.3,229.9 1750.0,229.9 1750.0,229.9 1751.7,229.9 1751.7,228.8 1753.3,228.8 1753.3,229.2 1755.0,229.2 1755.0,229.7 1756.7,229.7 1756.7,229.3 1758.3,229.3 1758.3,228.4 1760.0,228.4 1760.0,228.9 1761.7,228.9 1761.7,229.5 1763.3,229.5 1763.3,228.2 1765.0,228.2 1765.0,227.9 1766.7,227.9 1766.7,228.0 1768.3,228.0 1768.3,228.5 1770.0,228.5 1770.0,228.6 1771.7,228.6 1771.7,227.2 1773.3,227.2 1773.3,227.0 1775.0,227.0 1775.0,227.0 1776.7,227.0 1776.7,227.0 1778.3,227.0 1778.3,227.2 1780.0,227.2 1780.0,226.4 1781.6,226.4 1781.6,226.3 1783.3,226.3 1783.3,225.7 1784.9,225.7 1784.9,226.8 1786.5,226.8 1786.5,226.0 1788.2,226.0 1788.2,224.5 1789.8,224.5 1789.8,225.7 1791.5,225.7 1791.5,223.7 1793.1,223.7 1793.1,223.9 1794.7,223.9 1794.7,224.6 1796.4,224.6 1796.4,223.9 1798.0,223.9 1798.0,223.4 1799.7,223.4 1799.7,223.3 1801.4,223.3 1801.4,223.3 1803.1,223.3 1803.1,224.5 1804.9,224.5 1804.9,224.0 1806.6,224.0 1806.6,224.6 1808.3,224.6 1808.3,225.4 1810.0,225.4 1810.0,225.2 1811.7,225.2 1811.7,226.3 1813.3,226.3 1813.3,227.5 1815.0,227.5 1815.0,227.8 1816.7,227.8 1816.7,228.0 1818.3,228.0 1818.3,228.7 1820.0,228.7 1820.0,228.9 1821.7,228.9 1821.7,228.9 1823.3,228.9 1823.3,230.2 1825.0,230.2 1825.0,230.3 1826.7,230.3 1826.7,231.4 1828.3,231.4 1828.3,232.2 1830.0,232.2 1830.0,231.9 1831.7,231.9 1831.7,232.6 1833.3,232.6 1833.3,233.4 1835.0,233.4 1835.0,233.4 1836.7,233.4 1836.7,233.5 1838.3,233.5 1838.3,234.9 1840.0,235.0 1840.0,237.6" fill="#d050f0" fill-opacity="0.9"/>
<polygon points="1750.0,237.6 1750.0,233.7 1751.7,233.7 1751.7,232.7 1753.3,232.7 1753.3,231.7 1755.0,231.7 1755.0,231.1 1756.7,231.1 1756.7,230.0 1758.3,230.0 1758.3,229.1 1760.0,229.1 1760.0,227.9 1761.7,227.9 1761.7,227.8 1763.3,227.8 1763.3,228.5 1765.0,228.5 1765.0,227.6 1766.7,227.6 1766.7,228.3 1768.3,228.3 1768.3,229.1 1770.0,229.1 1770.0,229.1 1771.7,229.1 1771.7,229.0 1773.3,229.0 1773.3,228.4 1775.0,228.4 1775.0,228.9 1776.7,228.9 1776.7,228.5 1778.3,228.5 1778.3,228.3 1780.0,228.3 1780.0,227.5 1781.7,227.5 1781.7,227.5 1783.3,227.5 1783.3,227.6 1785.0,227.6 1785.0,225.8 1786.7,225.8 1786.7,226.2 1788.3,226.2 1788.3,225.9 1790.0,225.9 1790.0,224.8 1791.6,224.8 1791.6,224.5 1793.2,224.5 1793.2,224.9 1794.8,224.9 1794.8,222.7 1796.4,222.7 1796.4,223.1 1798.0,223.1 1798.0,221.9 1799.8,221.9 1799.8,223.4 1801.5,223.4 1801.5,224.0 1803.2,224.0 1803.2,223.7 1805.0,223.7 1805.0,223.3 1806.7,223.3 1806.7,224.9 1808.3,224.9 1808.3,225.6 1810.0,225.6 1810.0,226.7 1811.7,226.7 1811.7,227.1 1813.3,227.1 1813.3,228.1 1815.0,228.1 1815.0,229.3 1816.7,229.3 1816.7,229.5 1818.3,229.5 1818.3,230.1 1820.0,230.1 1820.0,231.8 1821.7,231.8 1821.7,231.0 1823.3,231.0 1823.3,232.3 1825.0,232.3 1825.0,232.3 1826.7,232.3 1826.7,233.5 1828.3,233.5 1828.3,232.8 1830.0,234.0 1830.0,237.6" fill="#ff70d0" fill-opacity="0.85"/>
<polygon points="1770.0,237.6 1770.0,233.9 1771.7,233.9 1771.7,232.4 1773.3,232.4 1773.3,231.5 1775.0,231.5 1775.0,231.6 1776.7,231.6 1776.7,231.5 1778.3,231.5 1778.3,230.5 1780.0,230.5 1780.0,230.9 1781.7,230.9 1781.7,230.5 1783.3,230.5 1783.3,230.7 1785.0,230.7 1785.0,229.7 1786.7,229.7 1786.7,229.5 1788.3,229.5 1788.3,229.3 1790.0,229.3 1790.0,230.1 1791.7,230.1 1791.7,230.3 1793.3,230.3 1793.3,229.5 1795.0,229.5 1795.0,228.8 1796.7,228.8 1796.7,229.8 1798.3,229.8 1798.3,228.9 1800.0,228.9 1800.0,228.5 1801.7,228.5 1801.7,228.6 1803.3,228.6 1803.3,229.9 1805.0,229.9 1805.0,230.2 1806.7,230.2 1806.7,230.1 1808.3,230.1 1808.3,230.1 1810.0,230.1 1810.0,230.4 1811.7,230.4 1811.7,230.1 1813.3,230.1 1813.3,231.6 1815.0,231.6 1815.0,230.7 1816.7,230.7 1816.7,231.7 1818.3,231.7 1818.3,232.6 1820.0,232.6 1820.0,233.1 1821.7,233.1 1821.7,232.9 1823.3,232.9 1823.3,233.1 1825.0,234.0 1825.0,237.6" fill="#5030a8" fill-opacity="0.95"/>
<polygon points="1840.0,237.6 1840.0,233.1 1841.7,233.1 1841.7,231.7 1843.3,231.7 1843.3,232.3 1845.0,232.3 1845.0,230.7 1846.7,230.7 1846.7,231.0 1848.3,231.0 1848.3,229.2 1850.0,229.2 1850.0,228.8 1851.7,228.8 1851.7,228.3 1853.3,228.3 1853.3,228.4 1855.0,228.4 1855.0,227.7 1856.7,227.7 1856.7,227.1 1858.3,227.1 1858.3,228.1 1860.0,228.1 1860.0,227.1 1861.7,227.1 1861.7,227.2 1863.3,227.2 1863.3,227.5 1865.0,227.5 1865.0,228.0 1866.7,228.0 1866.7,228.0 1868.3,228.0 1868.3,228.6 1870.0,228.6 1870.0,228.8 1871.7,228.8 1871.7,228.4 1873.3,228.4 1873.3,229.6 1875.0,229.6 1875.0,229.6 1876.7,229.6 1876.7,228.4 1878.3,228.4 1878.3,230.0 1880.0,230.0 1880.0,230.4 1881.7,230.4 1881.7,230.4 1883.3,230.4 1883.3,229.5 1885.0,229.5 1885.0,230.9 1886.7,230.9 1886.7,230.8 1888.3,230.8 1888.3,229.9 1890.0,229.9 1890.0,230.1 1891.7,230.1 1891.7,232.1 1893.3,232.1 1893.3,231.9 1895.0,231.9 1895.0,231.6 1896.7,231.6 1896.7,231.6 1898.3,231.6 1898.3,232.0 1900.0,232.0 1900.0,232.5 1901.7,232.5 1901.7,233.8 1903.3,233.8 1903.3,233.4 1905.0,234.0 1905.0,237.6" fill="#ff6a50" fill-opacity="0.9"/>
<polygon points="1855.0,237.6 1855.0,230.4 1856.8,230.4 1856.8,230.7 1858.5,230.7 1858.5,229.5 1860.2,229.5 1860.2,227.4 1862.0,227.4 1862.0,227.7 1863.6,227.7 1863.6,227.4 1865.2,227.4 1865.2,228.0 1866.9,228.0 1866.9,228.1 1868.5,228.1 1868.5,228.7 1870.1,228.7 1870.1,228.8 1871.8,228.8 1871.8,229.1 1873.4,229.1 1873.4,228.2 1875.0,228.2 1875.0,229.3 1876.7,229.3 1876.7,229.2 1878.3,229.2 1878.3,229.7 1880.0,229.7 1880.0,229.2 1881.7,229.2 1881.7,230.1 1883.3,230.1 1883.3,229.7 1885.0,229.7 1885.0,229.2 1886.7,229.2 1886.7,229.3 1888.3,229.3 1888.3,229.2 1890.0,229.2 1890.0,230.0 1891.7,230.0 1891.7,229.7 1893.3,229.7 1893.3,230.9 1895.0,230.9 1895.0,230.9 1896.7,230.9 1896.7,232.0 1898.3,232.0 1898.3,232.5 1900.0,233.0 1900.0,237.6" fill="#ffc060" fill-opacity="0.7"/>
<polygon points="244.0,237.6 244.0,235.1 245.6,235.1 245.6,235.5 247.3,235.5 247.3,233.8 248.9,233.8 248.9,235.2 250.5,235.2 250.5,234.4 252.2,234.4 252.2,234.4 253.8,234.4 253.8,234.5 255.5,234.5 255.5,234.7 257.1,234.7 257.1,233.7 258.7,233.7 258.7,233.6 260.4,233.6 260.4,234.5 262.0,234.5 262.0,232.7 263.6,232.7 263.6,234.0 265.2,234.0 265.2,234.3 266.8,234.3 266.8,233.6 268.4,233.6 268.4,234.9 270.0,235.0 270.0,237.6" fill="#ff70d0" fill-opacity="0.8"/>
<polygon points="600.0,237.6 600.0,235.3 601.7,235.3 601.7,235.6 603.4,235.6 603.4,234.3 605.1,234.3 605.1,235.2 606.9,235.2 606.9,234.2 608.6,234.2 608.6,233.9 610.3,233.9 610.3,234.4 612.0,234.4 612.0,232.7 613.6,232.7 613.6,234.1 615.2,234.1 615.2,234.1 616.9,234.1 616.9,233.8 618.5,233.8 618.5,234.9 620.1,234.9 620.1,234.2 621.8,234.2 621.8,234.6 623.4,234.6 623.4,234.9 625.0,235.0 625.0,237.6" fill="#ffb050" fill-opacity="0.8"/>
<rect x="244.00" y="235.60" width="1746.00" height="2.40" fill="#3a2444" />
<rect x="244.00" y="235.03" width="16.86" height="2.37" fill="#3a2a6a" fill-opacity="0.85"/>
<rect x="260.86" y="234.96" width="10.56" height="2.44" fill="#2a2a8a" fill-opacity="0.85"/>
<rect x="271.41" y="235.41" width="10.47" height="1.99" fill="#3a2a6a" fill-opacity="0.85"/>
<rect x="274.53" y="236.00" width="5.21" height="1.80" fill="#8a5a30" fill-opacity="0.9"/>
<rect x="281.88" y="234.58" width="16.87" height="2.82" fill="#5a2a80" fill-opacity="0.85"/>
<rect x="298.75" y="235.71" width="7.52" height="1.69" fill="#8a5a30" fill-opacity="0.85"/>
<rect x="301.68" y="236.00" width="3.48" height="1.80" fill="#d83030" fill-opacity="0.9"/>
<rect x="306.27" y="234.85" width="20.18" height="2.55" fill="#2a1030" fill-opacity="0.85"/>
<rect x="326.45" y="235.01" width="17.99" height="2.39" fill="#ff5c9a" fill-opacity="0.85"/>
<rect x="332.82" y="236.00" width="8.24" height="1.80" fill="#ff5c9a" fill-opacity="0.9"/>
<rect x="344.45" y="236.12" width="11.51" height="1.28" fill="#3a9a3a" fill-opacity="0.85"/>
<rect x="355.96" y="234.00" width="8.59" height="3.40" fill="#3c3cf0" fill-opacity="0.85"/>
<rect x="359.60" y="236.00" width="2.58" height="1.80" fill="#d83030" fill-opacity="0.9"/>
<rect x="364.55" y="234.98" width="11.03" height="2.42" fill="#8a5a30" fill-opacity="0.85"/>
<rect x="375.58" y="234.73" width="15.54" height="2.67" fill="#ff5c9a" fill-opacity="0.85"/>
<rect x="378.20" y="236.00" width="7.08" height="1.80" fill="#30b8a0" fill-opacity="0.9"/>
<rect x="391.12" y="234.23" width="6.36" height="3.17" fill="#1a1a2a" fill-opacity="0.85"/>
<rect x="393.37" y="236.00" width="1.94" height="1.80" fill="#ffb44a" fill-opacity="0.9"/>
<rect x="397.49" y="235.74" width="17.16" height="1.66" fill="#4a2050" fill-opacity="0.85"/>
<rect x="414.64" y="233.64" width="16.74" height="3.76" fill="#2a1030" fill-opacity="0.85"/>
<rect x="431.38" y="235.90" width="16.06" height="1.50" fill="#22184a" fill-opacity="0.85"/>
<rect x="431.39" y="236.00" width="11.76" height="1.80" fill="#2a1030" fill-opacity="0.9"/>
<rect x="447.44" y="233.61" width="29.40" height="3.79" fill="#3a9a3a" fill-opacity="0.85"/>
<rect x="453.24" y="236.00" width="21.38" height="1.80" fill="#5a2a80" fill-opacity="0.9"/>
<rect x="476.84" y="236.09" width="21.40" height="1.31" fill="#3c3cf0" fill-opacity="0.85"/>
<rect x="479.60" y="236.00" width="14.69" height="1.80" fill="#3a2a6a" fill-opacity="0.9"/>
<rect x="498.24" y="235.20" width="13.89" height="2.20" fill="#3a9a3a" fill-opacity="0.85"/>
<rect x="502.29" y="236.00" width="5.86" height="1.80" fill="#2a1030" fill-opacity="0.9"/>
<rect x="512.14" y="234.58" width="20.43" height="2.82" fill="#802020" fill-opacity="0.85"/>
<rect x="520.64" y="236.00" width="7.52" height="1.80" fill="#4a2050" fill-opacity="0.9"/>
<rect x="532.57" y="235.39" width="15.27" height="2.01" fill="#5a7cff" fill-opacity="0.85"/>
<rect x="538.11" y="236.00" width="5.79" height="1.80" fill="#ffb44a" fill-opacity="0.9"/>
<rect x="547.84" y="234.41" width="21.10" height="2.99" fill="#2a1030" fill-opacity="0.85"/>
<rect x="554.20" y="236.00" width="10.77" height="1.80" fill="#4a2050" fill-opacity="0.9"/>
<rect x="568.93" y="234.87" width="8.49" height="2.53" fill="#8a5a30" fill-opacity="0.85"/>
<rect x="570.02" y="236.00" width="6.05" height="1.80" fill="#22184a" fill-opacity="0.9"/>
<rect x="577.42" y="234.85" width="20.32" height="2.55" fill="#3a9a3a" fill-opacity="0.85"/>
<rect x="597.74" y="235.61" width="29.45" height="1.79" fill="#5a7cff" fill-opacity="0.85"/>
<rect x="627.19" y="235.47" width="26.46" height="1.93" fill="#ff5c9a" fill-opacity="0.85"/>
<rect x="653.65" y="236.02" width="10.90" height="1.38" fill="#d83030" fill-opacity="0.85"/>
<rect x="653.98" y="236.00" width="4.23" height="1.80" fill="#ffb44a" fill-opacity="0.9"/>
<rect x="664.54" y="235.96" width="14.85" height="1.44" fill="#5a7cff" fill-opacity="0.85"/>
<rect x="671.83" y="236.00" width="9.33" height="1.80" fill="#3a2a6a" fill-opacity="0.9"/>
<rect x="679.40" y="234.67" width="22.59" height="2.73" fill="#5a7cff" fill-opacity="0.85"/>
<rect x="701.98" y="234.38" width="17.40" height="3.02" fill="#802020" fill-opacity="0.85"/>
<rect x="719.38" y="234.95" width="6.51" height="2.45" fill="#ff5c9a" fill-opacity="0.85"/>
<rect x="725.89" y="236.00" width="13.65" height="1.40" fill="#ff5c9a" fill-opacity="0.85"/>
<rect x="732.04" y="236.00" width="9.13" height="1.80" fill="#8a5a30" fill-opacity="0.9"/>
<rect x="739.54" y="235.29" width="22.89" height="2.11" fill="#b03080" fill-opacity="0.85"/>
<rect x="762.43" y="233.74" width="27.62" height="3.66" fill="#1a1a2a" fill-opacity="0.85"/>
<rect x="770.34" y="236.00" width="16.92" height="1.80" fill="#4a2050" fill-opacity="0.9"/>
<rect x="790.05" y="234.62" width="15.18" height="2.78" fill="#d83030" fill-opacity="0.85"/>
<rect x="797.59" y="236.00" width="11.23" height="1.80" fill="#3c3cf0" fill-opacity="0.9"/>
<rect x="805.23" y="233.77" width="23.48" height="3.63" fill="#22184a" fill-opacity="0.85"/>
<rect x="828.71" y="234.02" width="16.99" height="3.38" fill="#3a2a6a" fill-opacity="0.85"/>
<rect x="828.96" y="236.00" width="10.20" height="1.80" fill="#2a2a8a" fill-opacity="0.9"/>
<rect x="845.69" y="233.71" width="17.54" height="3.69" fill="#ffb44a" fill-opacity="0.85"/>
<rect x="847.94" y="236.00" width="5.36" height="1.80" fill="#4a2050" fill-opacity="0.9"/>
<rect x="863.23" y="234.85" width="13.22" height="2.55" fill="#2a1030" fill-opacity="0.85"/>
<rect x="876.46" y="234.90" width="14.22" height="2.50" fill="#3a2a6a" fill-opacity="0.85"/>
<rect x="881.19" y="236.00" width="5.68" height="1.80" fill="#22184a" fill-opacity="0.9"/>
<rect x="890.68" y="233.91" width="16.34" height="3.49" fill="#2a1030" fill-opacity="0.85"/>
<rect x="892.39" y="236.00" width="6.00" height="1.80" fill="#b03080" fill-opacity="0.9"/>
<rect x="907.02" y="234.35" width="14.42" height="3.05" fill="#8a5a30" fill-opacity="0.85"/>
<rect x="921.44" y="235.91" width="12.64" height="1.49" fill="#5a2a80" fill-opacity="0.85"/>
<rect x="926.69" y="236.00" width="6.21" height="1.80" fill="#2a1030" fill-opacity="0.9"/>
<rect x="934.08" y="234.34" width="18.48" height="3.06" fill="#b03080" fill-opacity="0.85"/>
<rect x="952.56" y="236.01" width="20.99" height="1.39" fill="#b03080" fill-opacity="0.85"/>
<rect x="959.68" y="236.00" width="9.25" height="1.80" fill="#8a5a30" fill-opacity="0.9"/>
<rect x="973.56" y="234.53" width="14.50" height="2.87" fill="#d83030" fill-opacity="0.85"/>
<rect x="973.74" y="236.00" width="10.37" height="1.80" fill="#2a1030" fill-opacity="0.9"/>
<rect x="988.06" y="234.13" width="11.70" height="3.27" fill="#5a7cff" fill-opacity="0.85"/>
<rect x="999.76" y="234.56" width="8.77" height="2.84" fill="#3c3cf0" fill-opacity="0.85"/>
<rect x="1008.52" y="234.42" width="25.38" height="2.98" fill="#ff5c9a" fill-opacity="0.85"/>
<rect x="1011.77" y="236.00" width="16.68" height="1.80" fill="#4a2050" fill-opacity="0.9"/>
<rect x="1033.90" y="235.73" width="24.12" height="1.67" fill="#8a5a30" fill-opacity="0.85"/>
<rect x="1040.41" y="236.00" width="18.66" height="1.80" fill="#802020" fill-opacity="0.9"/>
<rect x="1058.02" y="235.18" width="18.01" height="2.22" fill="#5a2a80" fill-opacity="0.85"/>
<rect x="1076.03" y="235.13" width="27.75" height="2.27" fill="#ff5c9a" fill-opacity="0.85"/>
<rect x="1103.78" y="235.02" width="15.31" height="2.38" fill="#3a2a6a" fill-opacity="0.85"/>
<rect x="1119.09" y="234.77" width="27.84" height="2.63" fill="#22184a" fill-opacity="0.85"/>
<rect x="1146.93" y="234.99" width="18.06" height="2.41" fill="#b03080" fill-opacity="0.85"/>
<rect x="1164.99" y="235.65" width="10.92" height="1.75" fill="#3c3cf0" fill-opacity="0.85"/>
<rect x="1175.91" y="234.80" width="29.53" height="2.60" fill="#3a9a3a" fill-opacity="0.85"/>
<rect x="1205.44" y="235.29" width="13.69" height="2.11" fill="#d83030" fill-opacity="0.85"/>
<rect x="1207.79" y="236.00" width="6.99" height="1.80" fill="#3a2a6a" fill-opacity="0.9"/>
<rect x="1219.13" y="235.63" width="12.61" height="1.77" fill="#d83030" fill-opacity="0.85"/>
<rect x="1231.74" y="235.75" width="16.29" height="1.65" fill="#8a5a30" fill-opacity="0.85"/>
<rect x="1235.57" y="236.00" width="13.03" height="1.80" fill="#5a7cff" fill-opacity="0.9"/>
<rect x="1248.03" y="234.02" width="27.61" height="3.38" fill="#2a2a8a" fill-opacity="0.85"/>
<rect x="1275.65" y="234.69" width="28.70" height="2.71" fill="#4a2050" fill-opacity="0.85"/>
<rect x="1304.35" y="234.83" width="24.19" height="2.57" fill="#3a2a6a" fill-opacity="0.85"/>
<rect x="1310.67" y="236.00" width="17.46" height="1.80" fill="#5a2a80" fill-opacity="0.9"/>
<rect x="1328.53" y="234.45" width="19.44" height="2.95" fill="#3a9a3a" fill-opacity="0.85"/>
<rect x="1347.97" y="235.41" width="26.88" height="1.99" fill="#2a1030" fill-opacity="0.85"/>
<rect x="1351.64" y="236.00" width="14.75" height="1.80" fill="#2a2a8a" fill-opacity="0.9"/>
<rect x="1374.85" y="234.89" width="15.87" height="2.51" fill="#3c3cf0" fill-opacity="0.85"/>
<rect x="1390.72" y="234.86" width="6.67" height="2.54" fill="#8a5a30" fill-opacity="0.85"/>
<rect x="1392.36" y="236.00" width="4.30" height="1.80" fill="#3c3cf0" fill-opacity="0.9"/>
<rect x="1397.39" y="235.12" width="7.58" height="2.28" fill="#3a2a6a" fill-opacity="0.85"/>
<rect x="1404.97" y="235.56" width="28.16" height="1.84" fill="#30b8a0" fill-opacity="0.85"/>
<rect x="1411.08" y="236.00" width="19.93" height="1.80" fill="#b03080" fill-opacity="0.9"/>
<rect x="1433.13" y="234.84" width="27.61" height="2.56" fill="#4a2050" fill-opacity="0.85"/>
<rect x="1441.66" y="236.00" width="21.06" height="1.80" fill="#1a1a2a" fill-opacity="0.9"/>
<rect x="1460.74" y="236.11" width="9.11" height="1.29" fill="#d83030" fill-opacity="0.85"/>
<rect x="1463.87" y="236.00" width="4.20" height="1.80" fill="#d83030" fill-opacity="0.9"/>
<rect x="1469.85" y="235.93" width="14.53" height="1.47" fill="#4a2050" fill-opacity="0.85"/>
<rect x="1484.38" y="234.58" width="8.95" height="2.82" fill="#2a2a8a" fill-opacity="0.85"/>
<rect x="1493.33" y="236.14" width="22.83" height="1.26" fill="#1a1a2a" fill-opacity="0.85"/>
<rect x="1516.16" y="234.80" width="25.80" height="2.60" fill="#5a2a80" fill-opacity="0.85"/>
<rect x="1541.96" y="234.82" width="18.82" height="2.58" fill="#2a1030" fill-opacity="0.85"/>
<rect x="1560.78" y="235.60" width="20.68" height="1.80" fill="#5a7cff" fill-opacity="0.85"/>
<rect x="1581.46" y="235.38" width="25.45" height="2.02" fill="#5a2a80" fill-opacity="0.85"/>
<rect x="1584.24" y="236.00" width="20.34" height="1.80" fill="#2a1030" fill-opacity="0.9"/>
<rect x="1606.91" y="233.89" width="27.30" height="3.51" fill="#5a7cff" fill-opacity="0.85"/>
<rect x="1610.46" y="236.00" width="9.51" height="1.80" fill="#ff5c9a" fill-opacity="0.9"/>
<rect x="1634.21" y="234.79" width="25.97" height="2.61" fill="#1a1a2a" fill-opacity="0.85"/>
<rect x="1660.19" y="235.95" width="10.82" height="1.45" fill="#d83030" fill-opacity="0.85"/>
<rect x="1671.00" y="235.90" width="14.58" height="1.50" fill="#802020" fill-opacity="0.85"/>
<rect x="1674.67" y="236.00" width="9.37" height="1.80" fill="#b03080" fill-opacity="0.9"/>
<rect x="1685.58" y="234.95" width="10.54" height="2.45" fill="#ff5c9a" fill-opacity="0.85"/>
<rect x="1690.35" y="236.00" width="5.70" height="1.80" fill="#2a2a8a" fill-opacity="0.9"/>
<rect x="1696.12" y="235.67" width="10.55" height="1.73" fill="#3c3cf0" fill-opacity="0.85"/>
<rect x="1706.67" y="234.69" width="29.77" height="2.71" fill="#3c3cf0" fill-opacity="0.85"/>
<rect x="1707.82" y="236.00" width="10.37" height="1.80" fill="#3a2a6a" fill-opacity="0.9"/>
<rect x="1736.44" y="234.86" width="15.38" height="2.54" fill="#1a1a2a" fill-opacity="0.85"/>
<rect x="1736.54" y="236.00" width="10.01" height="1.80" fill="#802020" fill-opacity="0.9"/>
<rect x="1751.82" y="235.14" width="26.26" height="2.26" fill="#5a2a80" fill-opacity="0.85"/>
<rect x="1757.14" y="236.00" width="10.44" height="1.80" fill="#802020" fill-opacity="0.9"/>
<rect x="1778.08" y="234.14" width="9.96" height="3.26" fill="#2a2a8a" fill-opacity="0.85"/>
<rect x="1782.07" y="236.00" width="6.50" height="1.80" fill="#ff5c9a" fill-opacity="0.9"/>
<rect x="1788.04" y="234.72" width="26.66" height="2.68" fill="#22184a" fill-opacity="0.85"/>
<rect x="1798.77" y="236.00" width="11.44" height="1.80" fill="#b03080" fill-opacity="0.9"/>
<rect x="1814.70" y="234.08" width="27.87" height="3.32" fill="#5a2a80" fill-opacity="0.85"/>
<rect x="1826.96" y="236.00" width="18.04" height="1.80" fill="#b03080" fill-opacity="0.9"/>
<rect x="1842.57" y="235.15" width="24.41" height="2.25" fill="#5a2a80" fill-opacity="0.85"/>
<rect x="1866.99" y="235.42" width="7.69" height="1.98" fill="#b03080" fill-opacity="0.85"/>
<rect x="1870.80" y="236.00" width="5.78" height="1.80" fill="#802020" fill-opacity="0.9"/>
<rect x="1874.68" y="233.74" width="7.19" height="3.66" fill="#30b8a0" fill-opacity="0.85"/>
<rect x="1881.87" y="234.72" width="14.11" height="2.68" fill="#22184a" fill-opacity="0.85"/>
<rect x="1885.50" y="236.00" width="7.74" height="1.80" fill="#22184a" fill-opacity="0.9"/>
<rect x="1895.98" y="234.22" width="11.12" height="3.18" fill="#3c3cf0" fill-opacity="0.85"/>
<rect x="1907.09" y="234.28" width="6.55" height="3.12" fill="#3c3cf0" fill-opacity="0.85"/>
<rect x="1908.75" y="236.00" width="4.46" height="1.80" fill="#22184a" fill-opacity="0.9"/>
<rect x="1913.64" y="235.94" width="21.55" height="1.46" fill="#d83030" fill-opacity="0.85"/>
<rect x="1919.57" y="236.00" width="11.94" height="1.80" fill="#b03080" fill-opacity="0.9"/>
<rect x="1935.19" y="234.54" width="29.21" height="2.86" fill="#3c3cf0" fill-opacity="0.85"/>
<rect x="1964.40" y="235.20" width="7.83" height="2.20" fill="#8a5a30" fill-opacity="0.85"/>
<rect x="1972.23" y="233.98" width="15.26" height="3.42" fill="#5a2a80" fill-opacity="0.85"/>
<rect x="1975.51" y="236.00" width="8.35" height="1.80" fill="#8a5a30" fill-opacity="0.9"/>
<rect x="1987.49" y="234.65" width="2.51" height="2.75" fill="#22184a" fill-opacity="0.85"/>
<rect x="1988.10" y="236.00" width="1.09" height="1.80" fill="#3a9a3a" fill-opacity="0.9"/>
<polygon points="664.0,299.4 664.0,297.5 666.0,297.5 666.0,295.6 668.0,295.6 668.0,295.2 670.0,295.2 670.0,294.4 671.7,294.4 671.7,294.7 673.4,294.7 673.4,295.2 675.1,295.2 675.1,294.3 676.9,294.3 676.9,295.4 678.6,295.4 678.6,294.7 680.3,294.7 680.3,294.9 682.0,294.9 682.0,294.6 684.0,294.6 684.0,295.7 686.0,295.7 686.0,297.2 688.0,297.0 688.0,299.4" fill="#ff6060" fill-opacity="0.9"/>
<polygon points="1372.0,299.4 1372.0,297.3 1373.6,297.3 1373.6,297.3 1375.2,297.3 1375.2,296.3 1376.9,296.3 1376.9,296.1 1378.5,296.1 1378.5,295.9 1380.1,295.9 1380.1,296.2 1381.8,296.2 1381.8,296.1 1383.4,296.1 1383.4,296.2 1385.0,296.2 1385.0,294.7 1386.7,294.7 1386.7,295.9 1388.3,295.9 1388.3,296.2 1390.0,296.2 1390.0,295.6 1391.7,295.6 1391.7,294.7 1393.3,294.7 1393.3,295.1 1395.0,295.1 1395.0,294.6 1396.7,294.6 1396.7,294.9 1398.3,294.9 1398.3,296.3 1400.0,296.3 1400.0,295.7 1401.7,295.7 1401.7,295.8 1403.3,295.8 1403.3,296.1 1405.0,296.1 1405.0,296.4 1406.7,296.4 1406.7,295.9 1408.3,295.9 1408.3,295.9 1410.0,295.9 1410.0,296.0 1411.7,296.0 1411.7,296.1 1413.3,296.1 1413.3,296.0 1415.0,296.0 1415.0,296.2 1416.7,296.2 1416.7,295.4 1418.3,295.4 1418.3,296.3 1420.0,296.3 1420.0,295.9 1421.7,295.9 1421.7,296.7 1423.3,296.7 1423.3,295.8 1425.0,295.8 1425.0,296.2 1426.7,296.2 1426.7,296.2 1428.3,296.2 1428.3,297.7 1430.0,297.5 1430.0,299.4" fill="#ff70d0" fill-opacity="0.8"/>
<polygon points="1100.0,299.4 1100.0,298.7 1101.7,298.7 1101.7,298.1 1103.3,298.1 1103.3,297.4 1105.0,297.4 1105.0,298.0 1106.7,298.0 1106.7,297.7 1108.3,297.7 1108.3,297.1 1110.0,297.1 1110.0,296.4 1111.7,296.4 1111.7,296.6 1113.3,296.6 1113.3,297.1 1115.0,297.1 1115.0,297.1 1116.7,297.1 1116.7,297.5 1118.3,297.5 1118.3,298.1 1120.0,298.0 1120.0,299.4" fill="#ff6060" fill-opacity="0.7"/>
<rect x="244.00" y="297.40" width="1746.00" height="2.40" fill="#3a2444" />
<rect x="244.00" y="297.85" width="29.00" height="1.35" fill="#5a7cff" fill-opacity="0.85"/>
<rect x="273.00" y="297.56" width="16.73" height="1.64" fill="#3c3cf0" fill-opacity="0.85"/>
<rect x="289.73" y="297.86" width="25.02" height="1.34" fill="#ff5c9a" fill-opacity="0.85"/>
<rect x="314.75" y="297.44" width="13.67" height="1.76" fill="#5a2a80" fill-opacity="0.85"/>
<rect x="328.42" y="297.65" width="28.17" height="1.55" fill="#8a5a30" fill-opacity="0.85"/>
<rect x="332.79" y="297.80" width="11.13" height="1.80" fill="#30b8a0" fill-opacity="0.9"/>
<rect x="356.59" y="297.44" width="26.40" height="1.76" fill="#2a2a8a" fill-opacity="0.85"/>
<rect x="382.98" y="297.58" width="29.07" height="1.62" fill="#8a5a30" fill-opacity="0.85"/>
<rect x="412.05" y="297.81" width="12.20" height="1.39" fill="#22184a" fill-opacity="0.85"/>
<rect x="424.26" y="297.91" width="28.91" height="1.29" fill="#2a2a8a" fill-opacity="0.85"/>
<rect x="453.17" y="297.74" width="22.02" height="1.46" fill="#5a2a80" fill-opacity="0.85"/>
<rect x="457.78" y="297.80" width="9.38" height="1.80" fill="#8a5a30" fill-opacity="0.9"/>
<rect x="475.19" y="297.76" width="12.82" height="1.44" fill="#1a1a2a" fill-opacity="0.85"/>
<rect x="488.01" y="297.76" width="10.44" height="1.44" fill="#802020" fill-opacity="0.85"/>
<rect x="490.27" y="297.80" width="6.64" height="1.80" fill="#2a2a8a" fill-opacity="0.9"/>
<rect x="498.45" y="297.95" width="18.68" height="1.25" fill="#ff5c9a" fill-opacity="0.85"/>
<rect x="502.48" y="297.80" width="9.37" height="1.80" fill="#3c3cf0" fill-opacity="0.9"/>
<rect x="517.12" y="297.69" width="28.31" height="1.51" fill="#2a1030" fill-opacity="0.85"/>
<rect x="523.62" y="297.80" width="11.23" height="1.80" fill="#3c3cf0" fill-opacity="0.9"/>
<rect x="545.43" y="297.79" width="6.72" height="1.41" fill="#22184a" fill-opacity="0.85"/>
<rect x="547.55" y="297.80" width="3.51" height="1.80" fill="#802020" fill-opacity="0.9"/>
<rect x="552.16" y="297.52" width="7.51" height="1.68" fill="#5a7cff" fill-opacity="0.85"/>
<rect x="559.66" y="297.97" width="10.84" height="1.23" fill="#3c3cf0" fill-opacity="0.85"/>
<rect x="564.65" y="297.80" width="5.75" height="1.80" fill="#5a7cff" fill-opacity="0.9"/>
<rect x="570.50" y="297.58" width="26.32" height="1.62" fill="#4a2050" fill-opacity="0.85"/>
<rect x="583.54" y="297.80" width="17.68" height="1.80" fill="#3a9a3a" fill-opacity="0.9"/>
<rect x="596.82" y="297.61" width="17.35" height="1.59" fill="#ff5c9a" fill-opacity="0.85"/>
<rect x="603.93" y="297.80" width="10.48" height="1.80" fill="#3c3cf0" fill-opacity="0.9"/>
<rect x="614.17" y="297.89" width="28.63" height="1.31" fill="#d83030" fill-opacity="0.85"/>
<rect x="619.04" y="297.80" width="11.04" height="1.80" fill="#ff5c9a" fill-opacity="0.9"/>
<rect x="642.79" y="297.58" width="22.61" height="1.62" fill="#1a1a2a" fill-opacity="0.85"/>
<rect x="653.73" y="297.80" width="10.77" height="1.80" fill="#ff5c9a" fill-opacity="0.9"/>
<rect x="665.40" y="297.68" width="8.83" height="1.52" fill="#2a1030" fill-opacity="0.85"/>
<rect x="666.20" y="297.80" width="3.87" height="1.80" fill="#ff5c9a" fill-opacity="0.9"/>
<rect x="674.24" y="297.63" width="8.34" height="1.57" fill="#4a2050" fill-opacity="0.85"/>
<rect x="677.30" y="297.80" width="6.36" height="1.80" fill="#3c3cf0" fill-opacity="0.9"/>
<rect x="682.57" y="297.86" width="26.02" height="1.34" fill="#8a5a30" fill-opacity="0.85"/>
<rect x="708.59" y="297.88" width="20.99" height="1.32" fill="#2a1030" fill-opacity="0.85"/>
<rect x="709.11" y="297.80" width="13.53" height="1.80" fill="#22184a" fill-opacity="0.9"/>
<rect x="729.58" y="297.85" width="16.07" height="1.35" fill="#30b8a0" fill-opacity="0.85"/>
<rect x="736.99" y="297.80" width="12.30" height="1.80" fill="#30b8a0" fill-opacity="0.9"/>
<rect x="745.65" y="297.47" width="19.59" height="1.73" fill="#5a2a80" fill-opacity="0.85"/>
<rect x="765.24" y="297.90" width="7.36" height="1.30" fill="#4a2050" fill-opacity="0.85"/>
<rect x="767.81" y="297.80" width="3.23" height="1.80" fill="#4a2050" fill-opacity="0.9"/>
<rect x="772.60" y="297.62" width="24.45" height="1.58" fill="#2a1030" fill-opacity="0.85"/>
<rect x="797.04" y="297.73" width="26.31" height="1.47" fill="#ffb44a" fill-opacity="0.85"/>
<rect x="801.55" y="297.80" width="19.26" height="1.80" fill="#802020" fill-opacity="0.9"/>
<rect x="823.36" y="297.58" width="25.63" height="1.62" fill="#d83030" fill-opacity="0.85"/>
<rect x="848.98" y="297.83" width="8.57" height="1.37" fill="#802020" fill-opacity="0.85"/>
<rect x="857.56" y="297.83" width="12.31" height="1.37" fill="#30b8a0" fill-opacity="0.85"/>
<rect x="860.61" y="297.80" width="6.77" height="1.80" fill="#2a2a8a" fill-opacity="0.9"/>
<rect x="869.87" y="297.70" width="9.26" height="1.50" fill="#2a1030" fill-opacity="0.85"/>
<rect x="871.66" y="297.80" width="5.81" height="1.80" fill="#ff5c9a" fill-opacity="0.9"/>
<rect x="879.13" y="297.95" width="10.68" height="1.25" fill="#5a2a80" fill-opacity="0.85"/>
<rect x="889.81" y="297.69" width="14.12" height="1.51" fill="#8a5a30" fill-opacity="0.85"/>
<rect x="903.93" y="297.48" width="9.67" height="1.72" fill="#802020" fill-opacity="0.85"/>
<rect x="913.60" y="297.93" width="18.65" height="1.27" fill="#d83030" fill-opacity="0.85"/>
<rect x="921.12" y="297.80" width="13.29" height="1.80" fill="#8a5a30" fill-opacity="0.9"/>
<rect x="932.25" y="297.45" width="8.37" height="1.75" fill="#ff5c9a" fill-opacity="0.85"/>
<rect x="936.17" y="297.80" width="6.31" height="1.80" fill="#3a9a3a" fill-opacity="0.9"/>
<rect x="940.61" y="297.56" width="15.89" height="1.64" fill="#2a2a8a" fill-opacity="0.85"/>
<rect x="947.77" y="297.80" width="11.13" height="1.80" fill="#8a5a30" fill-opacity="0.9"/>
<rect x="956.50" y="297.59" width="21.65" height="1.61" fill="#b03080" fill-opacity="0.85"/>
<rect x="957.12" y="297.80" width="16.52" height="1.80" fill="#ffb44a" fill-opacity="0.9"/>
<rect x="978.15" y="297.44" width="13.16" height="1.76" fill="#d83030" fill-opacity="0.85"/>
<rect x="983.58" y="297.80" width="9.99" height="1.80" fill="#3a2a6a" fill-opacity="0.9"/>
<rect x="991.31" y="297.75" width="9.84" height="1.45" fill="#3a9a3a" fill-opacity="0.85"/>
<rect x="992.82" y="297.80" width="5.61" height="1.80" fill="#22184a" fill-opacity="0.9"/>
<rect x="1001.15" y="297.46" width="27.07" height="1.74" fill="#802020" fill-opacity="0.85"/>
<rect x="1008.11" y="297.80" width="11.07" height="1.80" fill="#30b8a0" fill-opacity="0.9"/>
<rect x="1028.22" y="297.55" width="9.08" height="1.65" fill="#ffb44a" fill-opacity="0.85"/>
<rect x="1037.30" y="297.40" width="16.67" height="1.80" fill="#30b8a0" fill-opacity="0.85"/>
<rect x="1053.97" y="297.80" width="8.72" height="1.40" fill="#4a2050" fill-opacity="0.85"/>
<rect x="1054.27" y="297.80" width="4.10" height="1.80" fill="#22184a" fill-opacity="0.9"/>
<rect x="1062.69" y="297.74" width="15.14" height="1.46" fill="#3a2a6a" fill-opacity="0.85"/>
<rect x="1067.88" y="297.80" width="10.66" height="1.80" fill="#22184a" fill-opacity="0.9"/>
<rect x="1077.83" y="297.87" width="22.10" height="1.33" fill="#802020" fill-opacity="0.85"/>
<rect x="1099.92" y="297.91" width="28.47" height="1.29" fill="#3c3cf0" fill-opacity="0.85"/>
<rect x="1103.02" y="297.80" width="15.26" height="1.80" fill="#ff5c9a" fill-opacity="0.9"/>
<rect x="1128.39" y="297.99" width="21.26" height="1.21" fill="#5a7cff" fill-opacity="0.85"/>
<rect x="1149.65" y="297.68" width="20.05" height="1.52" fill="#3a9a3a" fill-opacity="0.85"/>
<rect x="1169.70" y="297.56" width="10.76" height="1.64" fill="#b03080" fill-opacity="0.85"/>
<rect x="1173.88" y="297.80" width="6.82" height="1.80" fill="#5a2a80" fill-opacity="0.9"/>
<rect x="1180.46" y="297.84" width="16.83" height="1.36" fill="#1a1a2a" fill-opacity="0.85"/>
<rect x="1197.29" y="297.61" width="24.78" height="1.59" fill="#ffb44a" fill-opacity="0.85"/>
<rect x="1204.39" y="297.80" width="14.89" height="1.80" fill="#3a9a3a" fill-opacity="0.9"/>
<rect x="1222.08" y="297.79" width="11.76" height="1.41" fill="#ffb44a" fill-opacity="0.85"/>
<rect x="1233.84" y="297.65" width="14.95" height="1.55" fill="#3c3cf0" fill-opacity="0.85"/>
<rect x="1236.63" y="297.80" width="11.70" height="1.80" fill="#1a1a2a" fill-opacity="0.9"/>
<rect x="1248.78" y="297.82" width="9.32" height="1.38" fill="#2a2a8a" fill-opacity="0.85"/>
<rect x="1258.10" y="297.57" width="9.04" height="1.63" fill="#2a2a8a" fill-opacity="0.85"/>
<rect x="1258.56" y="297.80" width="5.00" height="1.80" fill="#5a7cff" fill-opacity="0.9"/>
<rect x="1267.14" y="297.99" width="23.80" height="1.21" fill="#d83030" fill-opacity="0.85"/>
<rect x="1269.02" y="297.80" width="18.33" height="1.80" fill="#b03080" fill-opacity="0.9"/>
<rect x="1290.94" y="297.58" width="18.20" height="1.62" fill="#5a2a80" fill-opacity="0.85"/>
<rect x="1295.27" y="297.80" width="7.06" height="1.80" fill="#3c3cf0" fill-opacity="0.9"/>
<rect x="1309.14" y="297.60" width="8.02" height="1.60" fill="#2a2a8a" fill-opacity="0.85"/>
<rect x="1317.15" y="297.58" width="18.91" height="1.62" fill="#b03080" fill-opacity="0.85"/>
<rect x="1336.06" y="297.55" width="11.48" height="1.65" fill="#5a2a80" fill-opacity="0.85"/>
<rect x="1347.54" y="297.96" width="20.74" height="1.24" fill="#802020" fill-opacity="0.85"/>
<rect x="1368.28" y="297.62" width="18.98" height="1.58" fill="#1a1a2a" fill-opacity="0.85"/>
<rect x="1375.56" y="297.80" width="6.59" height="1.80" fill="#1a1a2a" fill-opacity="0.9"/>
<rect x="1387.27" y="297.84" width="26.53" height="1.36" fill="#1a1a2a" fill-opacity="0.85"/>
<rect x="1413.80" y="297.91" width="20.74" height="1.29" fill="#30b8a0" fill-opacity="0.85"/>
<rect x="1434.54" y="297.94" width="28.23" height="1.26" fill="#2a2a8a" fill-opacity="0.85"/>
<rect x="1442.13" y="297.80" width="10.70" height="1.80" fill="#802020" fill-opacity="0.9"/>
<rect x="1462.77" y="297.73" width="28.87" height="1.47" fill="#d83030" fill-opacity="0.85"/>
<rect x="1467.97" y="297.80" width="9.06" height="1.80" fill="#ff5c9a" fill-opacity="0.9"/>
<rect x="1491.63" y="297.83" width="17.54" height="1.37" fill="#2a1030" fill-opacity="0.85"/>
<rect x="1509.17" y="297.44" width="25.04" height="1.76" fill="#5a2a80" fill-opacity="0.85"/>
<rect x="1534.21" y="297.51" width="8.63" height="1.69" fill="#3a2a6a" fill-opacity="0.85"/>
<rect x="1536.18" y="297.80" width="3.30" height="1.80" fill="#5a2a80" fill-opacity="0.9"/>
<rect x="1542.84" y="297.88" width="6.47" height="1.32" fill="#3c3cf0" fill-opacity="0.85"/>
<rect x="1544.88" y="297.80" width="2.93" height="1.80" fill="#4a2050" fill-opacity="0.9"/>
<rect x="1549.31" y="297.78" width="21.94" height="1.42" fill="#30b8a0" fill-opacity="0.85"/>
<rect x="1559.99" y="297.80" width="8.14" height="1.80" fill="#4a2050" fill-opacity="0.9"/>
<rect x="1571.25" y="297.96" width="16.13" height="1.24" fill="#5a7cff" fill-opacity="0.85"/>
<rect x="1587.37" y="297.56" width="12.74" height="1.64" fill="#802020" fill-opacity="0.85"/>
<rect x="1590.72" y="297.80" width="9.45" height="1.80" fill="#3a2a6a" fill-opacity="0.9"/>
<rect x="1600.11" y="297.87" width="17.48" height="1.33" fill="#d83030" fill-opacity="0.85"/>
<rect x="1617.59" y="297.50" width="7.07" height="1.70" fill="#d83030" fill-opacity="0.85"/>
<rect x="1618.38" y="297.80" width="4.37" height="1.80" fill="#802020" fill-opacity="0.9"/>
<rect x="1624.66" y="297.90" width="28.93" height="1.30" fill="#1a1a2a" fill-opacity="0.85"/>
<rect x="1635.96" y="297.80" width="17.58" height="1.80" fill="#ffb44a" fill-opacity="0.9"/>
<rect x="1653.59" y="297.54" width="22.47" height="1.66" fill="#3c3cf0" fill-opacity="0.85"/>
<rect x="1655.10" y="297.80" width="15.43" height="1.80" fill="#30b8a0" fill-opacity="0.9"/>
<rect x="1676.06" y="297.79" width="29.28" height="1.41" fill="#802020" fill-opacity="0.85"/>
<rect x="1705.34" y="297.59" width="20.77" height="1.61" fill="#3a9a3a" fill-opacity="0.85"/>
<rect x="1726.11" y="297.92" width="11.36" height="1.28" fill="#2a1030" fill-opacity="0.85"/>
<rect x="1731.56" y="297.80" width="8.70" height="1.80" fill="#5a7cff" fill-opacity="0.9"/>
<rect x="1737.47" y="297.65" width="11.46" height="1.55" fill="#8a5a30" fill-opacity="0.85"/>
<rect x="1748.93" y="297.75" width="13.04" height="1.45" fill="#3c3cf0" fill-opacity="0.85"/>
<rect x="1761.97" y="297.59" width="6.03" height="1.61" fill="#d83030" fill-opacity="0.85"/>
<rect x="1768.00" y="297.75" width="17.68" height="1.45" fill="#3a2a6a" fill-opacity="0.85"/>
<rect x="1785.68" y="297.90" width="24.18" height="1.30" fill="#ffb44a" fill-opacity="0.85"/>
<rect x="1787.60" y="297.80" width="7.92" height="1.80" fill="#b03080" fill-opacity="0.9"/>
<rect x="1809.87" y="297.52" width="18.98" height="1.68" fill="#ffb44a" fill-opacity="0.85"/>
<rect x="1812.08" y="297.80" width="6.90" height="1.80" fill="#802020" fill-opacity="0.9"/>
<rect x="1828.85" y="297.70" width="20.30" height="1.50" fill="#8a5a30" fill-opacity="0.85"/>
<rect x="1849.15" y="297.43" width="6.59" height="1.77" fill="#3a9a3a" fill-opacity="0.85"/>
<rect x="1849.50" y="297.80" width="3.36" height="1.80" fill="#22184a" fill-opacity="0.9"/>
<rect x="1855.74" y="297.78" width="26.02" height="1.42" fill="#3c3cf0" fill-opacity="0.85"/>
<rect x="1881.76" y="297.77" width="20.60" height="1.43" fill="#802020" fill-opacity="0.85"/>
<rect x="1882.73" y="297.80" width="9.22" height="1.80" fill="#5a7cff" fill-opacity="0.9"/>
<rect x="1902.36" y="297.80" width="20.36" height="1.40" fill="#22184a" fill-opacity="0.85"/>
<rect x="1909.72" y="297.80" width="15.88" height="1.80" fill="#802020" fill-opacity="0.9"/>
<rect x="1922.72" y="297.84" width="14.12" height="1.36" fill="#802020" fill-opacity="0.85"/>
<rect x="1929.54" y="297.80" width="9.84" height="1.80" fill="#802020" fill-opacity="0.9"/>
<rect x="1936.84" y="297.54" width="15.90" height="1.66" fill="#5a2a80" fill-opacity="0.85"/>
<rect x="1952.74" y="297.53" width="17.83" height="1.67" fill="#ffb44a" fill-opacity="0.85"/>
<rect x="1958.58" y="297.80" width="12.63" height="1.80" fill="#1a1a2a" fill-opacity="0.9"/>
<rect x="1970.57" y="297.73" width="17.21" height="1.47" fill="#4a2050" fill-opacity="0.85"/>
<rect x="1987.78" y="297.43" width="2.22" height="1.77" fill="#802020" fill-opacity="0.85"/>
<rect x="1988.54" y="297.80" width="1.71" height="1.80" fill="#3a9a3a" fill-opacity="0.9"/>
<polygon points="1324.0,360.6 1324.0,354.8 1325.8,354.8 1325.8,352.0 1327.7,352.0 1327.7,351.8 1329.5,351.8 1329.5,349.7 1331.3,349.7 1331.3,348.6 1333.2,348.6 1333.2,348.7 1335.0,348.7 1335.0,347.1 1336.8,347.1 1336.8,346.9 1338.7,346.9 1338.7,345.2 1340.5,345.2 1340.5,343.6 1342.3,343.6 1342.3,343.5 1344.2,343.5 1344.2,343.0 1346.0,343.0 1346.0,342.8 1347.8,342.8 1347.8,343.0 1349.5,343.0 1349.5,342.2 1351.2,342.2 1351.2,342.2 1353.0,342.2 1353.0,341.8 1354.8,341.8 1354.8,342.9 1356.5,342.9 1356.5,342.2 1358.2,342.2 1358.2,342.2 1360.0,342.2 1360.0,342.1 1361.7,342.1 1361.7,341.6 1363.3,341.6 1363.3,342.3 1365.0,342.3 1365.0,340.8 1366.7,340.8 1366.7,341.8 1368.3,341.8 1368.3,339.8 1370.0,339.8 1370.0,340.7 1371.7,340.7 1371.7,336.8 1373.3,336.8 1373.3,334.1 1375.0,334.1 1375.0,332.9 1376.7,332.9 1376.7,329.5 1378.3,329.5 1378.3,327.9 1380.0,327.9 1380.0,324.4 1381.7,324.4 1381.7,323.7 1383.3,323.7 1383.3,324.5 1385.0,324.5 1385.0,323.9 1386.7,323.9 1386.7,323.6 1388.3,323.6 1388.3,322.9 1390.0,322.9 1390.0,321.3 1391.7,321.3 1391.7,323.6 1393.3,323.6 1393.3,325.0 1395.0,325.0 1395.0,325.9 1396.7,325.9 1396.7,328.1 1398.3,328.1 1398.3,328.2 1400.0,328.2 1400.0,330.8 1401.7,330.8 1401.7,332.6 1403.3,332.6 1403.3,333.5 1405.0,333.5 1405.0,335.6 1406.7,335.6 1406.7,338.9 1408.3,338.9 1408.3,341.4 1410.0,341.4 1410.0,342.2 1411.7,342.2 1411.7,342.6 1413.4,342.6 1413.4,343.2 1415.1,343.2 1415.1,342.1 1416.8,342.1 1416.8,343.2 1418.5,343.2 1418.5,342.5 1420.2,342.5 1420.2,341.6 1421.9,341.6 1421.9,342.1 1423.6,342.1 1423.6,342.3 1425.3,342.3 1425.3,342.0 1427.0,342.0 1427.0,342.3 1429.0,342.3 1429.0,330.4 1430.8,330.4 1430.8,330.8 1432.5,330.8 1432.5,329.3 1434.2,329.3 1434.2,329.0 1436.0,329.0 1436.0,328.2 1437.6,328.2 1437.6,327.1 1439.2,327.1 1439.2,326.2 1440.8,326.2 1440.8,326.1 1442.4,326.1 1442.4,325.6 1444.0,325.6 1444.0,324.5 1446.0,324.5 1446.0,326.1 1449.0,326.1 1449.0,339.6 1450.8,339.6 1450.8,340.5 1452.7,340.5 1452.7,343.5 1454.5,343.5 1454.5,344.4 1456.3,344.4 1456.3,345.9 1458.2,345.9 1458.2,346.4 1460.0,346.4 1460.0,348.2 1461.7,348.2 1461.7,349.0 1463.3,349.0 1463.3,348.9 1465.0,348.9 1465.0,348.7 1466.7,348.7 1466.7,348.3 1468.3,348.3 1468.3,348.7 1470.0,348.7 1470.0,349.7 1471.7,349.7 1471.7,348.9 1473.3,348.9 1473.3,349.7 1475.0,349.7 1475.0,349.7 1476.7,349.7 1476.7,350.4 1478.3,350.4 1478.3,350.4 1480.0,350.4 1480.0,349.6 1481.7,349.6 1481.7,349.1 1483.3,349.1 1483.3,349.6 1485.0,349.6 1485.0,349.9 1486.7,349.9 1486.7,350.2 1488.3,350.2 1488.3,350.6 1490.0,350.6 1490.0,350.7 1491.7,350.7 1491.7,349.2 1493.3,349.2 1493.3,350.6 1495.0,350.6 1495.0,350.6 1496.7,350.6 1496.7,350.7 1498.3,350.7 1498.3,350.1 1500.0,350.1 1500.0,349.6 1501.7,349.6 1501.7,351.0 1503.3,351.0 1503.3,351.2 1505.0,351.2 1505.0,351.3 1506.7,351.3 1506.7,352.1 1508.3,352.1 1508.3,351.4 1510.0,351.4 1510.0,351.3 1511.7,351.3 1511.7,352.1 1513.3,352.1 1513.3,352.5 1515.0,352.5 1515.0,351.5 1516.7,351.5 1516.7,352.5 1518.3,352.5 1518.3,352.8 1520.0,352.8 1520.0,351.5 1521.7,351.5 1521.7,352.2 1523.3,352.2 1523.3,352.3 1525.0,352.3 1525.0,351.9 1526.7,351.9 1526.7,351.5 1528.3,351.5 1528.3,351.6 1530.0,351.6 1530.0,352.5 1531.6,352.5 1531.6,352.3 1533.2,352.3 1533.2,351.6 1534.9,351.6 1534.9,350.7 1536.5,350.7 1536.5,351.8 1538.1,351.8 1538.1,351.6 1539.8,351.6 1539.8,350.4 1541.4,350.4 1541.4,350.8 1543.0,350.8 1543.0,351.2 1544.6,351.2 1544.6,351.0 1546.2,351.0 1546.2,350.2 1547.9,350.2 1547.9,349.9 1549.5,349.9 1549.5,349.9 1551.1,349.9 1551.1,349.0 1552.8,349.0 1552.8,348.8 1554.4,348.8 1554.4,348.6 1556.0,348.6 1556.0,349.4 1557.8,349.4 1557.8,350.2 1559.6,350.2 1559.6,351.9 1561.4,351.9 1561.4,353.0 1563.2,353.0 1563.2,354.6 1565.0,354.6 1565.0,355.4 1566.8,355.4 1566.8,355.7 1568.5,355.7 1568.5,357.9 1570.2,357.9 1570.2,357.3 1572.0,358.0 1572.0,360.6" fill="#ff78cc" fill-opacity="0.9"/>
<polygon points="1352.0,360.6 1352.0,351.3 1353.6,351.3 1353.6,350.4 1355.2,350.4 1355.2,348.9 1356.8,348.9 1356.8,346.0 1358.4,346.0 1358.4,345.0 1360.0,345.0 1360.0,342.7 1362.0,342.7 1362.0,340.0 1364.0,340.0 1364.0,336.1 1366.0,336.1 1366.0,333.2 1368.0,333.2 1368.0,330.9 1370.0,330.9 1370.0,326.7 1372.0,326.7 1372.0,322.0 1374.0,322.0 1374.0,320.1 1376.0,320.1 1376.0,317.6 1377.6,317.6 1377.6,318.4 1379.2,318.4 1379.2,317.7 1380.8,317.7 1380.8,318.5 1382.4,318.5 1382.4,318.1 1384.0,318.1 1384.0,318.1 1385.6,318.1 1385.6,318.2 1387.2,318.2 1387.2,316.9 1388.8,316.9 1388.8,316.4 1390.4,316.4 1390.4,316.6 1392.0,316.6 1392.0,316.4 1393.6,316.4 1393.6,318.9 1395.2,318.9 1395.2,321.4 1396.8,321.4 1396.8,324.9 1398.4,324.9 1398.4,328.1 1400.0,328.1 1400.0,329.9 1401.7,329.9 1401.7,332.8 1403.3,332.8 1403.3,334.7 1405.0,334.7 1405.0,335.2 1406.7,335.2 1406.7,338.2 1408.3,338.2 1408.3,339.8 1410.0,339.8 1410.0,341.3 1411.8,341.3 1411.8,343.1 1413.5,343.1 1413.5,342.1 1415.2,342.1 1415.2,342.9 1417.0,342.9 1417.0,343.3 1418.8,343.3 1418.8,344.1 1420.5,344.1 1420.5,343.8 1422.2,343.8 1422.2,343.6 1424.0,343.6 1424.0,343.9 1425.7,343.9 1425.7,343.5 1427.4,343.5 1427.4,345.1 1429.1,345.1 1429.1,345.3 1430.9,345.3 1430.9,344.1 1432.6,344.1 1432.6,343.9 1434.3,343.9 1434.3,344.4 1436.0,344.4 1436.0,344.7 1437.6,344.7 1437.6,345.9 1439.2,345.9 1439.2,346.1 1440.8,346.1 1440.8,346.2 1442.4,346.2 1442.4,345.0 1444.0,345.0 1444.0,346.5 1445.6,346.5 1445.6,346.6 1447.2,346.6 1447.2,346.7 1448.8,346.7 1448.8,347.5 1450.4,347.5 1450.4,346.0 1452.0,346.0 1452.0,346.4 1453.6,346.4 1453.6,347.7 1455.2,347.7 1455.2,348.2 1456.8,348.2 1456.8,347.9 1458.4,347.9 1458.4,347.4 1460.0,347.4 1460.0,348.2 1461.7,348.2 1461.7,348.8 1463.3,348.8 1463.3,348.0 1465.0,348.0 1465.0,348.7 1466.7,348.7 1466.7,348.9 1468.3,348.9 1468.3,349.0 1470.0,349.0 1470.0,350.0 1471.7,350.0 1471.7,349.7 1473.3,349.7 1473.3,350.2 1475.0,350.2 1475.0,350.4 1476.7,350.4 1476.7,351.7 1478.3,351.7 1478.3,350.8 1480.0,350.8 1480.0,352.4 1481.7,352.4 1481.7,351.6 1483.3,351.6 1483.3,351.5 1485.0,351.5 1485.0,353.3 1486.7,353.3 1486.7,352.2 1488.3,352.2 1488.3,353.6 1490.0,353.6 1490.0,353.7 1491.7,353.7 1491.7,353.9 1493.3,353.9 1493.3,352.7 1495.0,352.7 1495.0,353.4 1496.7,353.4 1496.7,352.9 1498.3,352.9 1498.3,354.6 1500.0,354.6 1500.0,354.6 1501.7,354.6 1501.7,354.4 1503.3,354.4 1503.3,354.2 1505.0,354.2 1505.0,354.2 1506.7,354.2 1506.7,355.2 1508.3,355.2 1508.3,354.8 1510.0,354.8 1510.0,355.2 1511.7,355.2 1511.7,354.5 1513.3,354.5 1513.3,354.8 1515.0,354.8 1515.0,354.7 1516.7,354.7 1516.7,356.1 1518.3,356.1 1518.3,355.9 1520.0,356.0 1520.0,360.6" fill="#44d8b8" fill-opacity="0.9"/>
<polygon points="1352.0,360.6 1352.0,352.4 1353.6,352.4 1353.6,351.9 1355.2,351.9 1355.2,349.0 1356.8,349.0 1356.8,347.4 1358.4,347.4 1358.4,345.2 1360.0,345.2 1360.0,343.6 1362.0,343.6 1362.0,341.6 1364.0,341.6 1364.0,337.7 1366.0,337.7 1366.0,334.4 1368.0,334.4 1368.0,331.3 1370.0,331.3 1370.0,327.3 1372.0,327.3 1372.0,324.7 1373.7,324.7 1373.7,321.6 1375.3,321.6 1375.3,321.5 1377.0,321.5 1377.0,318.2 1378.7,318.2 1378.7,319.7 1380.3,319.7 1380.3,319.3 1382.0,319.3 1382.0,318.5 1383.7,318.5 1383.7,319.0 1385.3,319.0 1385.3,318.6 1387.0,318.6 1387.0,318.6 1388.7,318.6 1388.7,318.5 1390.3,318.5 1390.3,318.8 1392.0,318.8 1392.0,319.9 1393.6,319.9 1393.6,322.3 1395.2,322.3 1395.2,324.6 1396.8,324.6 1396.8,325.5 1398.4,325.5 1398.4,328.2 1400.0,328.2 1400.0,331.7 1401.7,331.7 1401.7,332.4 1403.3,332.4 1403.3,335.7 1405.0,335.7 1405.0,337.1 1406.7,337.1 1406.7,340.5 1408.3,340.5 1408.3,341.0 1410.0,341.0 1410.0,344.6 1411.8,344.6 1411.8,344.1 1413.5,344.1 1413.5,344.1 1415.2,344.1 1415.2,344.2 1417.0,344.2 1417.0,346.1 1418.8,346.1 1418.8,345.9 1420.5,345.9 1420.5,345.7 1422.2,345.7 1422.2,346.5 1424.0,346.5 1424.0,347.7 1425.7,347.7 1425.7,346.1 1427.4,346.1 1427.4,346.3 1429.1,346.3 1429.1,345.1 1430.9,345.1 1430.9,344.7 1432.6,344.7 1432.6,345.3 1434.3,345.3 1434.3,344.8 1436.0,344.8 1436.0,343.5 1437.6,343.5 1437.6,343.6 1439.2,343.6 1439.2,343.9 1440.8,343.9 1440.8,345.2 1442.4,345.2 1442.4,345.3 1444.0,345.3 1444.0,345.3 1445.6,345.3 1445.6,345.5 1447.2,345.5 1447.2,346.5 1448.8,346.5 1448.8,347.0 1450.4,347.0 1450.4,347.6 1452.0,347.6 1452.0,347.5 1453.6,347.5 1453.6,347.1 1455.2,347.1 1455.2,347.2 1456.8,347.2 1456.8,348.8 1458.4,348.8 1458.4,348.5 1460.0,348.5 1460.0,349.4 1461.7,349.4 1461.7,348.5 1463.3,348.5 1463.3,350.2 1465.0,350.2 1465.0,349.7 1466.7,349.7 1466.7,350.9 1468.3,350.9 1468.3,351.3 1470.0,351.3 1470.0,351.0 1471.7,351.0 1471.7,350.5 1473.3,350.5 1473.3,352.4 1475.0,352.4 1475.0,352.0 1476.7,352.0 1476.7,353.0 1478.3,353.0 1478.3,352.2 1480.0,352.2 1480.0,352.4 1481.7,352.4 1481.7,353.8 1483.3,353.8 1483.3,353.1 1485.0,353.1 1485.0,352.9 1486.7,352.9 1486.7,353.4 1488.3,353.4 1488.3,354.0 1490.0,354.0 1490.0,353.1 1491.7,353.1 1491.7,354.2 1493.3,354.2 1493.3,354.2 1495.0,354.2 1495.0,354.5 1496.7,354.5 1496.7,354.0 1498.3,354.0 1498.3,355.2 1500.0,355.2 1500.0,355.6 1501.7,355.6 1501.7,355.8 1503.3,355.8 1503.3,355.0 1505.0,355.0 1505.0,355.9 1506.7,355.9 1506.7,355.5 1508.3,355.5 1508.3,356.3 1510.0,356.3 1510.0,355.2 1511.7,355.2 1511.7,356.8 1513.3,356.8 1513.3,357.2 1515.0,357.2 1515.0,356.5 1516.7,356.5 1516.7,356.7 1518.3,356.7 1518.3,356.9 1520.0,357.0 1520.0,360.6" fill="#7670b0" fill-opacity="0.97"/>
<rect x="1378.00" y="316.00" width="13.00" height="2.20" fill="#7010b0" />
<polygon points="1436.0,360.6 1436.0,354.1 1437.8,354.1 1437.8,352.1 1439.6,352.1 1439.6,352.8 1441.4,352.8 1441.4,350.5 1443.2,350.5 1443.2,349.4 1445.0,349.4 1445.0,348.3 1446.7,348.3 1446.7,348.6 1448.3,348.6 1448.3,349.6 1450.0,349.6 1450.0,348.2 1451.7,348.2 1451.7,348.3 1453.3,348.3 1453.3,349.4 1455.0,349.4 1455.0,348.5 1456.8,348.5 1456.8,349.1 1458.5,349.1 1458.5,351.2 1460.2,351.2 1460.2,352.1 1462.0,353.0 1462.0,360.6" fill="#3c5454" fill-opacity="0.9"/>
<polygon points="1380.0,360.6 1380.0,356.0 1381.7,356.0 1381.7,356.0 1383.4,356.0 1383.4,354.6 1385.1,354.6 1385.1,355.6 1386.9,355.6 1386.9,355.0 1388.6,355.0 1388.6,353.4 1390.3,353.4 1390.3,353.2 1392.0,353.2 1392.0,353.5 1393.6,353.5 1393.6,353.8 1395.2,353.8 1395.2,353.7 1396.9,353.7 1396.9,353.8 1398.5,353.8 1398.5,354.6 1400.1,354.6 1400.1,354.4 1401.8,354.4 1401.8,355.5 1403.4,355.5 1403.4,356.3 1405.0,356.0 1405.0,360.6" fill="#8a6040" fill-opacity="0.8"/>
<polygon points="297.0,360.6 297.0,355.4 298.6,355.4 298.6,356.0 300.2,356.0 300.2,356.2 301.9,356.2 301.9,355.0 303.5,355.0 303.5,356.1 305.1,356.1 305.1,356.2 306.8,356.2 306.8,355.0 308.4,355.0 308.4,355.0 310.0,355.0 310.0,355.6 311.7,355.6 311.7,355.1 313.5,355.1 313.5,355.0 315.2,355.0 315.2,356.1 316.9,356.1 316.9,355.9 318.6,355.9 318.6,355.2 320.4,355.2 320.4,355.1 322.1,355.1 322.1,355.3 323.8,355.3 323.8,355.6 325.5,355.6 325.5,356.7 327.3,356.7 327.3,356.5 329.0,356.0 329.0,360.6" fill="#ffc864" fill-opacity="0.9"/>
<polygon points="312.0,360.6 312.0,356.7 314.0,356.7 314.0,355.7 316.0,355.7 316.0,355.0 318.0,355.0 318.0,352.7 319.8,352.7 319.8,353.8 321.5,353.8 321.5,354.8 323.2,354.8 323.2,355.0 325.0,355.0 325.0,354.0 326.7,354.0 326.7,355.2 328.3,355.2 328.3,356.4 330.0,357.0 330.0,360.6" fill="#ffc864" fill-opacity="0.9"/>
<polygon points="365.0,360.6 365.0,356.8 366.7,356.8 366.7,356.8 368.3,356.8 368.3,355.7 370.0,355.7 370.0,356.1 371.7,356.1 371.7,356.0 373.3,356.0 373.3,354.9 375.0,354.9 375.0,354.9 376.8,354.9 376.8,356.5 378.7,356.5 378.7,356.3 380.5,356.3 380.5,356.8 382.3,356.8 382.3,356.4 384.2,356.4 384.2,356.9 386.0,356.5 386.0,360.6" fill="#ffc864" fill-opacity="0.9"/>
<polygon points="392.0,360.6 392.0,355.7 394.0,355.7 394.0,353.7 396.0,353.7 396.0,350.2 397.8,350.2 397.8,351.3 399.5,351.3 399.5,350.6 401.2,350.6 401.2,351.3 403.0,351.3 403.0,350.6 404.8,350.6 404.8,351.1 406.5,351.1 406.5,351.8 408.2,351.8 408.2,351.2 410.0,351.2 410.0,350.6 412.0,350.6 412.0,353.5 414.0,356.0 414.0,360.6" fill="#ffc864" fill-opacity="0.9"/>
<polygon points="470.0,360.6 470.0,356.9 471.7,356.9 471.7,357.1 473.3,357.1 473.3,355.3 475.0,355.3 475.0,354.6 476.7,354.6 476.7,354.6 478.3,354.6 478.3,353.0 480.0,353.0 480.0,353.2 481.7,353.2 481.7,354.0 483.3,354.0 483.3,353.4 485.0,353.4 485.0,353.1 486.7,353.1 486.7,353.6 488.3,353.6 488.3,353.9 490.0,353.9 490.0,353.4 491.6,353.4 491.6,353.9 493.2,353.9 493.2,354.5 494.8,354.5 494.8,355.4 496.4,355.4 496.4,356.2 498.0,357.0 498.0,360.6" fill="#40d0c0" fill-opacity="0.9"/>
<polygon points="719.0,360.6 719.0,355.6 720.8,355.6 720.8,355.0 722.7,355.0 722.7,354.3 724.5,354.3 724.5,354.6 726.3,354.6 726.3,354.6 728.2,354.6 728.2,353.7 730.0,353.7 730.0,353.1 731.7,353.1 731.7,353.6 733.4,353.6 733.4,353.1 735.1,353.1 735.1,354.3 736.8,354.3 736.8,354.1 738.5,354.1 738.5,354.6 740.2,354.6 740.2,355.0 741.9,355.0 741.9,355.0 743.6,355.0 743.6,355.1 745.3,355.1 745.3,355.2 747.0,356.0 747.0,360.6" fill="#3c6c4c" fill-opacity="0.9"/>
<polygon points="859.0,360.6 859.0,355.5 860.8,355.5 860.8,355.5 862.7,355.5 862.7,354.8 864.5,354.8 864.5,354.7 866.3,354.7 866.3,353.1 868.2,353.1 868.2,353.2 870.0,353.2 870.0,353.7 871.7,353.7 871.7,352.8 873.3,352.8 873.3,353.6 875.0,353.6 875.0,353.7 876.7,353.7 876.7,353.6 878.3,353.6 878.3,355.1 880.0,355.1 880.0,354.1 881.7,354.1 881.7,355.2 883.3,355.2 883.3,354.4 885.0,354.4 885.0,354.5 886.7,354.5 886.7,356.2 888.3,356.2 888.3,355.6 890.0,356.0 890.0,360.6" fill="#40d0c0" fill-opacity="0.9"/>
<polygon points="900.0,360.6 900.0,355.2 901.7,355.2 901.7,355.4 903.4,355.4 903.4,355.2 905.1,355.2 905.1,355.4 906.9,355.4 906.9,353.9 908.6,353.9 908.6,353.7 910.3,353.7 910.3,354.7 912.0,354.7 912.0,353.9 913.6,353.9 913.6,353.2 915.2,353.2 915.2,353.8 916.9,353.8 916.9,354.2 918.5,354.2 918.5,355.1 920.1,355.1 920.1,355.3 921.8,355.3 921.8,356.0 923.4,356.0 923.4,356.3 925.0,356.0 925.0,360.6" fill="#ffc864" fill-opacity="0.9"/>
<polygon points="957.0,360.6 957.0,357.0 958.6,357.0 958.6,357.0 960.3,357.0 960.3,356.5 961.9,356.5 961.9,356.1 963.5,356.1 963.5,355.1 965.2,355.1 965.2,355.2 966.8,355.2 966.8,354.6 968.5,354.6 968.5,354.6 970.1,354.6 970.1,352.7 971.7,352.7 971.7,353.6 973.4,353.6 973.4,351.6 975.0,351.6 975.0,352.5 976.6,352.5 976.6,351.9 978.2,351.9 978.2,351.4 979.9,351.4 979.9,351.9 981.5,351.9 981.5,350.9 983.1,350.9 983.1,350.4 984.8,350.4 984.8,350.7 986.4,350.7 986.4,350.6 988.0,350.6 988.0,349.8 989.7,349.8 989.7,349.6 991.4,349.6 991.4,349.9 993.1,349.9 993.1,350.1 994.9,350.1 994.9,350.8 996.6,350.8 996.6,350.2 998.3,350.2 998.3,350.6 1000.0,350.6 1000.0,351.1 1001.7,351.1 1001.7,351.2 1003.3,351.2 1003.3,351.5 1005.0,351.5 1005.0,352.8 1006.7,352.8 1006.7,353.3 1008.3,353.3 1008.3,353.1 1010.0,353.1 1010.0,353.4 1011.7,353.4 1011.7,353.3 1013.3,353.3 1013.3,354.0 1015.0,354.0 1015.0,354.1 1016.7,354.1 1016.7,355.3 1018.3,355.3 1018.3,355.7 1020.0,356.0 1020.0,360.6" fill="#ff7070" fill-opacity="0.9"/>
<polygon points="1075.0,360.6 1075.0,356.3 1076.7,356.3 1076.7,357.5 1078.3,357.5 1078.3,356.1 1080.0,356.1 1080.0,356.8 1081.7,356.8 1081.7,356.5 1083.3,356.5 1083.3,356.4 1085.0,356.4 1085.0,354.8 1086.7,354.8 1086.7,354.9 1088.3,354.9 1088.3,355.5 1090.0,355.5 1090.0,353.6 1091.7,353.6 1091.7,353.9 1093.3,353.9 1093.3,355.0 1095.0,355.0 1095.0,355.1 1096.7,355.1 1096.7,356.1 1098.3,356.1 1098.3,356.0 1100.0,356.0 1100.0,355.8 1101.7,355.8 1101.7,356.9 1103.3,356.9 1103.3,356.2 1105.0,356.2 1105.0,356.4 1106.7,356.4 1106.7,356.9 1108.3,356.9 1108.3,356.6 1110.0,357.0 1110.0,360.6" fill="#ff7070" fill-opacity="0.9"/>
<polygon points="1601.0,360.6 1601.0,357.7 1602.7,357.7 1602.7,356.5 1604.3,356.5 1604.3,354.4 1606.0,354.4 1606.0,353.8 1607.6,353.8 1607.6,353.4 1609.2,353.4 1609.2,353.2 1610.8,353.2 1610.8,352.6 1612.4,352.6 1612.4,353.2 1614.0,353.2 1614.0,353.3 1615.6,353.3 1615.6,354.5 1617.2,354.5 1617.2,355.4 1618.8,355.4 1618.8,356.9 1620.4,356.9 1620.4,357.9 1622.0,358.0 1622.0,360.6" fill="#4050e0" fill-opacity="0.8"/>
<polygon points="1679.0,360.6 1679.0,357.0 1680.6,357.0 1680.6,356.7 1682.2,356.7 1682.2,356.8 1683.8,356.8 1683.8,357.2 1685.5,357.2 1685.5,355.8 1687.1,355.8 1687.1,355.9 1688.7,355.9 1688.7,356.2 1690.3,356.2 1690.3,354.8 1691.9,354.8 1691.9,354.8 1693.5,354.8 1693.5,355.8 1695.2,355.8 1695.2,355.3 1696.8,355.3 1696.8,354.5 1698.4,354.5 1698.4,353.5 1700.0,353.5 1700.0,354.7 1701.6,354.7 1701.6,354.6 1703.2,354.6 1703.2,355.0 1704.8,355.0 1704.8,355.6 1706.5,355.6 1706.5,355.6 1708.1,355.6 1708.1,355.0 1709.7,355.0 1709.7,354.8 1711.3,354.8 1711.3,355.2 1712.9,355.2 1712.9,355.9 1714.5,355.9 1714.5,356.1 1716.2,356.1 1716.2,355.7 1717.8,355.7 1717.8,356.0 1719.4,356.0 1719.4,357.0 1721.0,357.0 1721.0,360.6" fill="#ffc864" fill-opacity="0.9"/>
<polygon points="1738.0,360.6 1738.0,357.2 1739.7,357.2 1739.7,356.4 1741.4,356.4 1741.4,357.3 1743.1,357.3 1743.1,356.3 1744.8,356.3 1744.8,354.9 1746.5,354.9 1746.5,355.3 1748.2,355.3 1748.2,355.7 1749.8,355.7 1749.8,354.5 1751.5,354.5 1751.5,354.9 1753.2,354.9 1753.2,353.3 1754.9,353.3 1754.9,353.6 1756.6,353.6 1756.6,354.2 1758.3,354.2 1758.3,353.5 1760.0,353.5 1760.0,353.3 1761.7,353.3 1761.7,352.3 1763.3,352.3 1763.3,352.7 1765.0,352.7 1765.0,352.7 1766.7,352.7 1766.7,352.0 1768.3,352.0 1768.3,352.6 1770.0,352.6 1770.0,352.3 1771.7,352.3 1771.7,353.0 1773.3,353.0 1773.3,352.1 1775.0,352.1 1775.0,351.6 1776.7,351.6 1776.7,351.0 1778.3,351.0 1778.3,350.9 1780.0,350.9 1780.0,351.9 1781.7,351.9 1781.7,350.6 1783.3,350.6 1783.3,350.4 1785.0,350.4 1785.0,350.4 1786.7,350.4 1786.7,350.9 1788.3,350.9 1788.3,351.3 1790.0,351.3 1790.0,350.8 1791.7,350.8 1791.7,351.3 1793.3,351.3 1793.3,350.0 1795.0,350.0 1795.0,350.1 1796.7,350.1 1796.7,351.6 1798.3,351.6 1798.3,350.9 1800.0,350.9 1800.0,351.7 1801.7,351.7 1801.7,351.2 1803.3,351.2 1803.3,350.9 1805.0,350.9 1805.0,351.2 1806.7,351.2 1806.7,351.0 1808.3,351.0 1808.3,352.6 1810.0,352.6 1810.0,352.1 1811.6,352.1 1811.6,352.2 1813.2,352.2 1813.2,352.9 1814.8,352.9 1814.8,353.3 1816.4,353.3 1816.4,353.2 1818.0,353.2 1818.0,355.2 1819.6,355.2 1819.6,355.1 1821.2,355.1 1821.2,356.3 1822.8,356.3 1822.8,355.9 1824.4,355.9 1824.4,356.7 1826.0,357.0 1826.0,360.6" fill="#b040c0" fill-opacity="0.85"/>
<polygon points="1878.0,360.6 1878.0,356.5 1879.7,356.5 1879.7,355.5 1881.4,355.5 1881.4,356.3 1883.1,356.3 1883.1,355.5 1884.9,355.5 1884.9,353.8 1886.6,353.8 1886.6,354.1 1888.3,354.1 1888.3,353.3 1890.0,353.3 1890.0,351.6 1891.7,351.6 1891.7,352.6 1893.4,352.6 1893.4,353.6 1895.1,353.6 1895.1,353.2 1896.8,353.2 1896.8,354.4 1898.5,354.4 1898.5,353.5 1900.2,353.5 1900.2,354.2 1901.9,354.2 1901.9,355.2 1903.6,355.2 1903.6,354.7 1905.3,354.7 1905.3,355.3 1907.0,356.0 1907.0,360.6" fill="#ffc864" fill-opacity="0.9"/>
<polygon points="1935.0,360.6 1935.0,357.7 1936.7,357.7 1936.7,356.7 1938.3,356.7 1938.3,357.1 1940.0,357.1 1940.0,355.9 1941.7,355.9 1941.7,355.5 1943.3,355.5 1943.3,355.6 1945.0,355.6 1945.0,355.1 1946.7,355.1 1946.7,356.3 1948.3,356.3 1948.3,354.8 1950.0,354.8 1950.0,355.1 1951.6,355.1 1951.6,354.5 1953.2,354.5 1953.2,355.5 1954.8,355.5 1954.8,355.4 1956.4,355.4 1956.4,355.6 1958.0,355.6 1958.0,355.2 1959.6,355.2 1959.6,355.5 1961.2,355.5 1961.2,357.0 1962.8,357.0 1962.8,356.3 1964.4,356.3 1964.4,356.3 1966.0,357.0 1966.0,360.6" fill="#4090e0" fill-opacity="0.9"/>
<rect x="244.00" y="358.60" width="375.00" height="2.40" fill="#3a2444" />
<rect x="244.00" y="357.24" width="19.69" height="3.16" fill="#ffb44a" fill-opacity="0.85"/>
<rect x="245.84" y="359.00" width="12.32" height="1.80" fill="#2a2a8a" fill-opacity="0.9"/>
<rect x="263.69" y="358.43" width="20.81" height="1.97" fill="#2a2a8a" fill-opacity="0.85"/>
<rect x="284.50" y="356.94" width="17.54" height="3.46" fill="#3a9a3a" fill-opacity="0.85"/>
<rect x="302.04" y="357.96" width="13.23" height="2.44" fill="#3a9a3a" fill-opacity="0.85"/>
<rect x="315.27" y="357.24" width="23.83" height="3.16" fill="#1a1a2a" fill-opacity="0.85"/>
<rect x="321.89" y="359.00" width="15.27" height="1.80" fill="#b03080" fill-opacity="0.9"/>
<rect x="339.11" y="358.43" width="8.81" height="1.97" fill="#8a5a30" fill-opacity="0.85"/>
<rect x="347.92" y="357.40" width="29.89" height="3.00" fill="#ff5c9a" fill-opacity="0.85"/>
<rect x="359.42" y="359.00" width="16.63" height="1.80" fill="#b03080" fill-opacity="0.9"/>
<rect x="377.81" y="357.94" width="13.68" height="2.46" fill="#802020" fill-opacity="0.85"/>
<rect x="380.47" y="359.00" width="8.81" height="1.80" fill="#22184a" fill-opacity="0.9"/>
<rect x="391.49" y="357.11" width="27.10" height="3.29" fill="#802020" fill-opacity="0.85"/>
<rect x="418.59" y="359.05" width="19.43" height="1.35" fill="#3c3cf0" fill-opacity="0.85"/>
<rect x="418.62" y="359.00" width="9.81" height="1.80" fill="#b03080" fill-opacity="0.9"/>
<rect x="438.02" y="357.58" width="14.36" height="2.82" fill="#2a1030" fill-opacity="0.85"/>
<rect x="443.69" y="359.00" width="8.54" height="1.80" fill="#4a2050" fill-opacity="0.9"/>
<rect x="452.38" y="358.03" width="16.90" height="2.37" fill="#3a9a3a" fill-opacity="0.85"/>
<rect x="455.58" y="359.00" width="11.67" height="1.80" fill="#22184a" fill-opacity="0.9"/>
<rect x="469.28" y="359.16" width="8.66" height="1.24" fill="#ffb44a" fill-opacity="0.85"/>
<rect x="472.41" y="359.00" width="6.38" height="1.80" fill="#3a2a6a" fill-opacity="0.9"/>
<rect x="477.94" y="357.02" width="26.25" height="3.38" fill="#5a2a80" fill-opacity="0.85"/>
<rect x="504.19" y="357.07" width="17.60" height="3.33" fill="#ff5c9a" fill-opacity="0.85"/>
<rect x="521.79" y="358.19" width="12.76" height="2.21" fill="#30b8a0" fill-opacity="0.85"/>
<rect x="524.81" y="359.00" width="7.80" height="1.80" fill="#30b8a0" fill-opacity="0.9"/>
<rect x="534.56" y="359.15" width="24.18" height="1.25" fill="#22184a" fill-opacity="0.85"/>
<rect x="536.58" y="359.00" width="18.84" height="1.80" fill="#b03080" fill-opacity="0.9"/>
<rect x="558.74" y="357.71" width="27.96" height="2.69" fill="#b03080" fill-opacity="0.85"/>
<rect x="569.37" y="359.00" width="21.89" height="1.80" fill="#5a2a80" fill-opacity="0.9"/>
<rect x="586.70" y="356.97" width="25.95" height="3.43" fill="#1a1a2a" fill-opacity="0.85"/>
<rect x="596.43" y="359.00" width="15.40" height="1.80" fill="#802020" fill-opacity="0.9"/>
<rect x="612.65" y="358.65" width="6.35" height="1.75" fill="#d83030" fill-opacity="0.85"/>
<rect x="615.34" y="359.00" width="2.15" height="1.80" fill="#30b8a0" fill-opacity="0.9"/>
<rect x="632.50" y="358.60" width="1357.50" height="2.40" fill="#3a2444" />
<rect x="632.50" y="357.41" width="19.17" height="2.99" fill="#5a7cff" fill-opacity="0.85"/>
<rect x="651.67" y="357.84" width="12.86" height="2.56" fill="#30b8a0" fill-opacity="0.85"/>
<rect x="664.53" y="357.63" width="24.12" height="2.77" fill="#30b8a0" fill-opacity="0.85"/>
<rect x="688.65" y="358.33" width="28.07" height="2.07" fill="#3c3cf0" fill-opacity="0.85"/>
<rect x="716.71" y="358.30" width="6.27" height="2.10" fill="#4a2050" fill-opacity="0.85"/>
<rect x="716.88" y="359.00" width="2.62" height="1.80" fill="#4a2050" fill-opacity="0.9"/>
<rect x="722.99" y="358.38" width="13.80" height="2.02" fill="#5a2a80" fill-opacity="0.85"/>
<rect x="736.79" y="359.00" width="17.48" height="1.40" fill="#802020" fill-opacity="0.85"/>
<rect x="742.68" y="359.00" width="6.38" height="1.80" fill="#ff5c9a" fill-opacity="0.9"/>
<rect x="754.27" y="356.87" width="23.55" height="3.53" fill="#3a2a6a" fill-opacity="0.85"/>
<rect x="761.55" y="359.00" width="7.48" height="1.80" fill="#22184a" fill-opacity="0.9"/>
<rect x="777.82" y="357.99" width="24.63" height="2.41" fill="#3a2a6a" fill-opacity="0.85"/>
<rect x="802.44" y="357.59" width="27.34" height="2.81" fill="#3c3cf0" fill-opacity="0.85"/>
<rect x="803.45" y="359.00" width="13.75" height="1.80" fill="#3c3cf0" fill-opacity="0.9"/>
<rect x="829.78" y="357.57" width="10.75" height="2.83" fill="#22184a" fill-opacity="0.85"/>
<rect x="831.10" y="359.00" width="6.34" height="1.80" fill="#ffb44a" fill-opacity="0.9"/>
<rect x="840.53" y="358.97" width="10.15" height="1.43" fill="#ff5c9a" fill-opacity="0.85"/>
<rect x="850.68" y="357.52" width="10.21" height="2.88" fill="#5a7cff" fill-opacity="0.85"/>
<rect x="854.11" y="359.00" width="5.64" height="1.80" fill="#d83030" fill-opacity="0.9"/>
<rect x="860.89" y="357.89" width="24.00" height="2.51" fill="#3a9a3a" fill-opacity="0.85"/>
<rect x="884.90" y="357.22" width="25.48" height="3.18" fill="#22184a" fill-opacity="0.85"/>
<rect x="910.37" y="358.79" width="12.62" height="1.61" fill="#2a2a8a" fill-opacity="0.85"/>
<rect x="922.99" y="358.37" width="12.96" height="2.03" fill="#3c3cf0" fill-opacity="0.85"/>
<rect x="927.73" y="359.00" width="10.25" height="1.80" fill="#802020" fill-opacity="0.9"/>
<rect x="935.95" y="359.19" width="28.89" height="1.21" fill="#22184a" fill-opacity="0.85"/>
<rect x="964.84" y="358.64" width="21.64" height="1.76" fill="#3c3cf0" fill-opacity="0.85"/>
<rect x="986.48" y="356.91" width="25.84" height="3.49" fill="#5a2a80" fill-opacity="0.85"/>
<rect x="988.03" y="359.00" width="13.23" height="1.80" fill="#3a9a3a" fill-opacity="0.9"/>
<rect x="1012.32" y="358.09" width="7.44" height="2.31" fill="#802020" fill-opacity="0.85"/>
<rect x="1019.76" y="358.02" width="10.30" height="2.38" fill="#3c3cf0" fill-opacity="0.85"/>
<rect x="1030.06" y="356.98" width="27.04" height="3.42" fill="#3c3cf0" fill-opacity="0.85"/>
<rect x="1057.10" y="357.36" width="11.91" height="3.04" fill="#3a2a6a" fill-opacity="0.85"/>
<rect x="1058.35" y="359.00" width="4.81" height="1.80" fill="#5a7cff" fill-opacity="0.9"/>
<rect x="1069.01" y="356.92" width="23.44" height="3.48" fill="#2a2a8a" fill-opacity="0.85"/>
<rect x="1070.74" y="359.00" width="12.20" height="1.80" fill="#2a1030" fill-opacity="0.9"/>
<rect x="1092.45" y="357.78" width="16.62" height="2.62" fill="#2a1030" fill-opacity="0.85"/>
<rect x="1098.57" y="359.00" width="11.99" height="1.80" fill="#802020" fill-opacity="0.9"/>
<rect x="1109.07" y="358.31" width="12.35" height="2.09" fill="#2a1030" fill-opacity="0.85"/>
<rect x="1109.39" y="359.00" width="5.70" height="1.80" fill="#5a2a80" fill-opacity="0.9"/>
<rect x="1121.42" y="359.00" width="29.81" height="1.40" fill="#3c3cf0" fill-opacity="0.85"/>
<rect x="1151.23" y="357.17" width="23.62" height="3.23" fill="#8a5a30" fill-opacity="0.85"/>
<rect x="1174.85" y="358.57" width="16.27" height="1.83" fill="#802020" fill-opacity="0.85"/>
<rect x="1180.53" y="359.00" width="8.86" height="1.80" fill="#5a7cff" fill-opacity="0.9"/>
<rect x="1191.11" y="358.10" width="13.36" height="2.30" fill="#b03080" fill-opacity="0.85"/>
<rect x="1192.12" y="359.00" width="7.44" height="1.80" fill="#ff5c9a" fill-opacity="0.9"/>
<rect x="1204.48" y="358.69" width="19.41" height="1.71" fill="#8a5a30" fill-opacity="0.85"/>
<rect x="1211.37" y="359.00" width="11.96" height="1.80" fill="#3a2a6a" fill-opacity="0.9"/>
<rect x="1223.89" y="359.03" width="15.31" height="1.37" fill="#1a1a2a" fill-opacity="0.85"/>
<rect x="1224.40" y="359.00" width="10.00" height="1.80" fill="#802020" fill-opacity="0.9"/>
<rect x="1239.19" y="358.99" width="28.27" height="1.41" fill="#ffb44a" fill-opacity="0.85"/>
<rect x="1249.83" y="359.00" width="16.54" height="1.80" fill="#ff5c9a" fill-opacity="0.9"/>
<rect x="1267.46" y="356.93" width="23.59" height="3.47" fill="#30b8a0" fill-opacity="0.85"/>
<rect x="1272.72" y="359.00" width="11.45" height="1.80" fill="#2a1030" fill-opacity="0.9"/>
<rect x="1291.05" y="357.57" width="22.89" height="2.83" fill="#5a2a80" fill-opacity="0.85"/>
<rect x="1313.94" y="357.99" width="14.74" height="2.41" fill="#1a1a2a" fill-opacity="0.85"/>
<rect x="1328.69" y="358.70" width="11.34" height="1.70" fill="#8a5a30" fill-opacity="0.85"/>
<rect x="1328.69" y="359.00" width="4.45" height="1.80" fill="#ffb44a" fill-opacity="0.9"/>
<rect x="1340.03" y="358.08" width="28.28" height="2.32" fill="#3a9a3a" fill-opacity="0.85"/>
<rect x="1368.31" y="357.94" width="25.02" height="2.46" fill="#b03080" fill-opacity="0.85"/>
<rect x="1373.44" y="359.00" width="11.41" height="1.80" fill="#8a5a30" fill-opacity="0.9"/>
<rect x="1393.33" y="356.87" width="12.12" height="3.53" fill="#4a2050" fill-opacity="0.85"/>
<rect x="1394.39" y="359.00" width="5.41" height="1.80" fill="#5a2a80" fill-opacity="0.9"/>
<rect x="1405.45" y="357.35" width="27.80" height="3.05" fill="#2a1030" fill-opacity="0.85"/>
<rect x="1433.24" y="358.75" width="8.68" height="1.65" fill="#802020" fill-opacity="0.85"/>
<rect x="1435.38" y="359.00" width="6.29" height="1.80" fill="#30b8a0" fill-opacity="0.9"/>
<rect x="1441.92" y="358.06" width="14.24" height="2.34" fill="#d83030" fill-opacity="0.85"/>
<rect x="1444.87" y="359.00" width="9.72" height="1.80" fill="#3a9a3a" fill-opacity="0.9"/>
<rect x="1456.16" y="358.88" width="8.56" height="1.52" fill="#1a1a2a" fill-opacity="0.85"/>
<rect x="1464.72" y="358.88" width="14.16" height="1.52" fill="#8a5a30" fill-opacity="0.85"/>
<rect x="1478.88" y="356.90" width="24.47" height="3.50" fill="#3a9a3a" fill-opacity="0.85"/>
<rect x="1503.35" y="359.05" width="22.89" height="1.35" fill="#ff5c9a" fill-opacity="0.85"/>
<rect x="1507.54" y="359.00" width="10.41" height="1.80" fill="#5a7cff" fill-opacity="0.9"/>
<rect x="1526.24" y="359.02" width="6.48" height="1.38" fill="#2a1030" fill-opacity="0.85"/>
<rect x="1532.72" y="358.34" width="25.26" height="2.06" fill="#5a7cff" fill-opacity="0.85"/>
<rect x="1557.98" y="357.32" width="27.33" height="3.08" fill="#5a7cff" fill-opacity="0.85"/>
<rect x="1561.47" y="359.00" width="16.84" height="1.80" fill="#3a2a6a" fill-opacity="0.9"/>
<rect x="1585.31" y="358.24" width="17.14" height="2.16" fill="#4a2050" fill-opacity="0.85"/>
<rect x="1586.12" y="359.00" width="5.38" height="1.80" fill="#30b8a0" fill-opacity="0.9"/>
<rect x="1602.46" y="358.58" width="17.72" height="1.82" fill="#30b8a0" fill-opacity="0.85"/>
<rect x="1607.40" y="359.00" width="6.11" height="1.80" fill="#2a2a8a" fill-opacity="0.9"/>
<rect x="1620.18" y="358.37" width="20.41" height="2.03" fill="#3a9a3a" fill-opacity="0.85"/>
<rect x="1626.32" y="359.00" width="14.19" height="1.80" fill="#2a2a8a" fill-opacity="0.9"/>
<rect x="1640.59" y="356.88" width="24.58" height="3.52" fill="#2a1030" fill-opacity="0.85"/>
<rect x="1665.17" y="359.15" width="15.50" height="1.25" fill="#ff5c9a" fill-opacity="0.85"/>
<rect x="1671.69" y="359.00" width="10.30" height="1.80" fill="#5a7cff" fill-opacity="0.9"/>
<rect x="1680.67" y="357.52" width="25.46" height="2.88" fill="#3a2a6a" fill-opacity="0.85"/>
<rect x="1693.14" y="359.00" width="8.98" height="1.80" fill="#30b8a0" fill-opacity="0.9"/>
<rect x="1706.12" y="357.87" width="11.94" height="2.53" fill="#2a2a8a" fill-opacity="0.85"/>
<rect x="1708.92" y="359.00" width="8.19" height="1.80" fill="#22184a" fill-opacity="0.9"/>
<rect x="1718.07" y="357.41" width="12.76" height="2.99" fill="#3c3cf0" fill-opacity="0.85"/>
<rect x="1730.83" y="357.25" width="13.89" height="3.15" fill="#b03080" fill-opacity="0.85"/>
<rect x="1732.11" y="359.00" width="7.54" height="1.80" fill="#8a5a30" fill-opacity="0.9"/>
<rect x="1744.72" y="357.58" width="24.02" height="2.82" fill="#1a1a2a" fill-opacity="0.85"/>
<rect x="1755.06" y="359.00" width="11.40" height="1.80" fill="#5a7cff" fill-opacity="0.9"/>
<rect x="1768.74" y="356.80" width="18.06" height="3.60" fill="#22184a" fill-opacity="0.85"/>
<rect x="1769.85" y="359.00" width="11.14" height="1.80" fill="#30b8a0" fill-opacity="0.9"/>
<rect x="1786.79" y="356.88" width="26.02" height="3.52" fill="#b03080" fill-opacity="0.85"/>
<rect x="1812.81" y="358.81" width="20.70" height="1.59" fill="#8a5a30" fill-opacity="0.85"/>
<rect x="1833.52" y="358.00" width="24.87" height="2.40" fill="#2a1030" fill-opacity="0.85"/>
<rect x="1838.59" y="359.00" width="13.33" height="1.80" fill="#30b8a0" fill-opacity="0.9"/>
<rect x="1858.39" y="358.59" width="29.61" height="1.81" fill="#2a2a8a" fill-opacity="0.85"/>
<rect x="1887.99" y="359.09" width="22.79" height="1.31" fill="#2a1030" fill-opacity="0.85"/>
<rect x="1898.09" y="359.00" width="12.06" height="1.80" fill="#5a2a80" fill-opacity="0.9"/>
<rect x="1910.78" y="357.75" width="23.31" height="2.65" fill="#d83030" fill-opacity="0.85"/>
<rect x="1934.09" y="357.88" width="16.15" height="2.52" fill="#30b8a0" fill-opacity="0.85"/>
<rect x="1938.57" y="359.00" width="5.59" height="1.80" fill="#22184a" fill-opacity="0.9"/>
<rect x="1950.24" y="358.78" width="22.45" height="1.62" fill="#d83030" fill-opacity="0.85"/>
<rect x="1959.44" y="359.00" width="14.79" height="1.80" fill="#30b8a0" fill-opacity="0.9"/>
<rect x="1972.69" y="358.61" width="6.39" height="1.79" fill="#3a9a3a" fill-opacity="0.85"/>
<rect x="1974.46" y="359.00" width="4.35" height="1.80" fill="#d83030" fill-opacity="0.9"/>
<rect x="1979.08" y="356.95" width="10.92" height="3.45" fill="#d83030" fill-opacity="0.85"/>
<rect x="1983.93" y="359.00" width="5.46" height="1.80" fill="#802020" fill-opacity="0.9"/>
<text x="-0.50" y="471.00" font-size="41" font-weight="bold" >b</text>
<line x1="82.00" y1="489.20" x2="82.00" y2="744.50" stroke="#7a7a7a" stroke-width="1.6" />
<line x1="75.00" y1="489.20" x2="82.00" y2="489.20" stroke="#7a7a7a" stroke-width="1.6" />
<text x="69.80" y="493.50" font-size="12.2" font-weight="bold" text-anchor="end" fill="#111" >0.7</text>
<line x1="75.00" y1="521.11" x2="82.00" y2="521.11" stroke="#7a7a7a" stroke-width="1.6" />
<text x="69.80" y="525.41" font-size="12.2" font-weight="bold" text-anchor="end" fill="#111" >0.6</text>
<line x1="75.00" y1="553.02" x2="82.00" y2="553.02" stroke="#7a7a7a" stroke-width="1.6" />
<text x="69.80" y="557.32" font-size="12.2" font-weight="bold" text-anchor="end" fill="#111" >0.5</text>
<line x1="75.00" y1="584.94" x2="82.00" y2="584.94" stroke="#7a7a7a" stroke-width="1.6" />
<text x="69.80" y="589.24" font-size="12.2" font-weight="bold" text-anchor="end" fill="#111" >0.4</text>
<line x1="75.00" y1="616.85" x2="82.00" y2="616.85" stroke="#7a7a7a" stroke-width="1.6" />
<text x="69.80" y="621.15" font-size="12.2" font-weight="bold" text-anchor="end" fill="#111" >0.3</text>
<line x1="75.00" y1="648.76" x2="82.00" y2="648.76" stroke="#7a7a7a" stroke-width="1.6" />
<text x="69.80" y="653.06" font-size="12.2" font-weight="bold" text-anchor="end" fill="#111" >0.2</text>
<line x1="75.00" y1="680.67" x2="82.00" y2="680.67" stroke="#7a7a7a" stroke-width="1.6" />
<text x="69.80" y="684.97" font-size="12.2" font-weight="bold" text-anchor="end" fill="#111" >0.1</text>
<line x1="75.00" y1="712.59" x2="82.00" y2="712.59" stroke="#7a7a7a" stroke-width="1.6" />
<text x="69.80" y="716.89" font-size="12.2" font-weight="bold" text-anchor="end" fill="#111" >0</text>
<line x1="75.00" y1="744.50" x2="82.00" y2="744.50" stroke="#7a7a7a" stroke-width="1.6" />
<text x="69.80" y="748.80" font-size="12.2" font-weight="bold" text-anchor="end" fill="#111" >−0.1</text>
<line x1="75.00" y1="744.50" x2="488.70" y2="744.50" stroke="#7a7a7a" stroke-width="1.6" />
<line x1="82.00" y1="745.50" x2="82.00" y2="751.50" stroke="#cdddf2" stroke-width="1.2" />
<line x1="285.35" y1="745.50" x2="285.35" y2="751.50" stroke="#cdddf2" stroke-width="1.2" />
<line x1="488.70" y1="745.50" x2="488.70" y2="751.50" stroke="#cdddf2" stroke-width="1.2" />
<line x1="184.00" y1="522.50" x2="184.00" y2="618.75" stroke="#3a3a3a" stroke-width="1.7" stroke-dasharray="2.2 1.6"/>
<line x1="160.00" y1="522.50" x2="208.00" y2="522.50" stroke="#4a4a4a" stroke-width="1.7" />
<line x1="184.00" y1="688.25" x2="184.00" y2="712.00" stroke="#3a3a3a" stroke-width="1.7" stroke-dasharray="2.2 1.6"/>
<line x1="160.00" y1="712.00" x2="208.00" y2="712.00" stroke="#4a4a4a" stroke-width="1.7" />
<rect x="135.00" y="618.75" width="98.00" height="69.50" fill="#5568e0" />
<line x1="136.00" y1="648.75" x2="232.00" y2="648.75" stroke="#111" stroke-width="2.6" />
<line x1="387.00" y1="628.25" x2="387.00" y2="683.00" stroke="#3a3a3a" stroke-width="1.7" stroke-dasharray="2.2 1.6"/>
<line x1="363.00" y1="628.25" x2="411.00" y2="628.25" stroke="#4a4a4a" stroke-width="1.7" />
<rect x="337.75" y="683.00" width="98.50" height="29.00" fill="#f0380f" />
<line x1="338.75" y1="701.00" x2="435.25" y2="701.00" stroke="#111" stroke-width="2.6" />
<text x="286.00" y="471.00" font-size="15" font-weight="bold" text-anchor="middle" fill="#111" textLength="400.00" lengthAdjust="spacingAndGlyphs" >Expression of HEPACAM in PRAD based on sample types</text>
<text x="30.30" y="617.50" font-size="12.3" font-weight="bold" text-anchor="middle" fill="#111" textLength="127.50" lengthAdjust="spacingAndGlyphs" transform="rotate(-90 30.30 617.50)" >Transcript per million</text>
<text x="184.00" y="771.00" font-size="9" font-weight="bold" text-anchor="middle" fill="#222" >Normal</text>
<text x="184.00" y="781.50" font-size="9" font-weight="bold" text-anchor="middle" fill="#222" >(n=52)</text>
<text x="387.50" y="771.00" font-size="9" font-weight="bold" text-anchor="middle" fill="#222" >Primary tumour</text>
<text x="387.50" y="781.50" font-size="9" font-weight="bold" text-anchor="middle" fill="#222" >(n=497)</text>
<text x="293.00" y="810.00" font-size="12.3" font-weight="bold" text-anchor="middle" fill="#111" >TCGA samples</text>
<line x1="184.50" y1="507.00" x2="381.00" y2="507.00" stroke="#4a4a4a" stroke-width="1.8" />
<line x1="184.50" y1="499.50" x2="184.50" y2="514.00" stroke="#4a4a4a" stroke-width="1.8" />
<line x1="381.00" y1="499.50" x2="381.00" y2="514.00" stroke="#4a4a4a" stroke-width="1.8" />
<text x="294.00" y="499.00" font-size="14.5" font-weight="bold" text-anchor="middle" fill="#222" >***</text>
<line x1="583.00" y1="492.50" x2="583.00" y2="745.00" stroke="#7a7a7a" stroke-width="1.6" />
<line x1="576.00" y1="492.50" x2="583.00" y2="492.50" stroke="#7a7a7a" stroke-width="1.6" />
<text x="570.80" y="496.80" font-size="12.2" font-weight="bold" text-anchor="end" fill="#111" >10</text>
<line x1="576.00" y1="534.58" x2="583.00" y2="534.58" stroke="#7a7a7a" stroke-width="1.6" />
<text x="570.80" y="538.88" font-size="12.2" font-weight="bold" text-anchor="end" fill="#111" >8</text>
<line x1="576.00" y1="576.67" x2="583.00" y2="576.67" stroke="#7a7a7a" stroke-width="1.6" />
<text x="570.80" y="580.97" font-size="12.2" font-weight="bold" text-anchor="end" fill="#111" >6</text>
<line x1="576.00" y1="618.75" x2="583.00" y2="618.75" stroke="#7a7a7a" stroke-width="1.6" />
<text x="570.80" y="623.05" font-size="12.2" font-weight="bold" text-anchor="end" fill="#111" >4</text>
<line x1="576.00" y1="660.83" x2="583.00" y2="660.83" stroke="#7a7a7a" stroke-width="1.6" />
<text x="570.80" y="665.13" font-size="12.2" font-weight="bold" text-anchor="end" fill="#111" >2</text>
<line x1="576.00" y1="702.92" x2="583.00" y2="702.92" stroke="#7a7a7a" stroke-width="1.6" />
<text x="570.80" y="707.22" font-size="12.2" font-weight="bold" text-anchor="end" fill="#111" >0</text>
<line x1="576.00" y1="745.00" x2="583.00" y2="745.00" stroke="#7a7a7a" stroke-width="1.6" />
<text x="570.80" y="749.30" font-size="12.2" font-weight="bold" text-anchor="end" fill="#111" >−2</text>
<line x1="576.00" y1="745.00" x2="990.50" y2="745.00" stroke="#7a7a7a" stroke-width="1.6" />
<line x1="583.00" y1="746.00" x2="583.00" y2="752.00" stroke="#cdddf2" stroke-width="1.2" />
<line x1="786.75" y1="746.00" x2="786.75" y2="752.00" stroke="#cdddf2" stroke-width="1.2" />
<line x1="990.50" y1="746.00" x2="990.50" y2="752.00" stroke="#cdddf2" stroke-width="1.2" />
<line x1="685.00" y1="638.75" x2="685.00" y2="669.00" stroke="#3a3a3a" stroke-width="1.7" stroke-dasharray="2.2 1.6"/>
<line x1="660.80" y1="638.75" x2="709.20" y2="638.75" stroke="#4a4a4a" stroke-width="1.7" />
<line x1="685.00" y1="688.00" x2="685.00" y2="697.00" stroke="#3a3a3a" stroke-width="1.7" stroke-dasharray="2.2 1.6"/>
<line x1="660.80" y1="697.00" x2="709.20" y2="697.00" stroke="#4a4a4a" stroke-width="1.7" />
<rect x="635.60" y="669.00" width="98.80" height="19.00" fill="#5568e0" />
<line x1="636.60" y1="681.00" x2="733.40" y2="681.00" stroke="#111" stroke-width="2.6" />
<line x1="888.50" y1="523.00" x2="888.50" y2="605.50" stroke="#3a3a3a" stroke-width="1.7" stroke-dasharray="2.2 1.6"/>
<line x1="864.50" y1="523.00" x2="912.50" y2="523.00" stroke="#4a4a4a" stroke-width="1.7" />
<line x1="888.50" y1="653.75" x2="888.50" y2="697.00" stroke="#3a3a3a" stroke-width="1.7" stroke-dasharray="2.2 1.6"/>
<line x1="864.50" y1="697.00" x2="912.50" y2="697.00" stroke="#4a4a4a" stroke-width="1.7" />
<rect x="839.00" y="605.50" width="99.00" height="48.25" fill="#f0380f" />
<line x1="840.00" y1="632.00" x2="937.00" y2="632.00" stroke="#111" stroke-width="2.6" />
<text x="787.50" y="471.00" font-size="15" font-weight="bold" text-anchor="middle" fill="#111" textLength="364.00" lengthAdjust="spacingAndGlyphs" >Expression of EZH2 in PRAD based on sample types</text>
<text x="534.80" y="618.70" font-size="12.3" font-weight="bold" text-anchor="middle" fill="#111" textLength="127.50" lengthAdjust="spacingAndGlyphs" transform="rotate(-90 534.80 618.70)" >Transcript per million</text>
<text x="685.00" y="771.00" font-size="9" font-weight="bold" text-anchor="middle" fill="#222" >Normal</text>
<text x="685.00" y="781.50" font-size="9" font-weight="bold" text-anchor="middle" fill="#222" >(n=52)</text>
<text x="889.00" y="771.00" font-size="9" font-weight="bold" text-anchor="middle" fill="#222" >Primary tumour</text>
<text x="889.00" y="781.50" font-size="9" font-weight="bold" text-anchor="middle" fill="#222" >(n=497)</text>
<text x="793.00" y="810.00" font-size="12.3" font-weight="bold" text-anchor="middle" fill="#111" >TCGA samples</text>
<line x1="684.00" y1="508.00" x2="886.50" y2="508.00" stroke="#4a4a4a" stroke-width="1.8" />
<line x1="684.00" y1="502.00" x2="684.00" y2="514.00" stroke="#4a4a4a" stroke-width="1.8" />
<line x1="886.50" y1="502.00" x2="886.50" y2="514.00" stroke="#4a4a4a" stroke-width="1.8" />
<text x="785.00" y="500.80" font-size="14.5" font-weight="bold" text-anchor="middle" fill="#222" >***</text>
<line x1="1078.00" y1="490.75" x2="1078.00" y2="745.00" stroke="#7a7a7a" stroke-width="1.6" />
<line x1="1071.00" y1="490.75" x2="1078.00" y2="490.75" stroke="#7a7a7a" stroke-width="1.6" />
<text x="1065.80" y="495.05" font-size="12.2" font-weight="bold" text-anchor="end" fill="#111" >35</text>
<line x1="1071.00" y1="527.07" x2="1078.00" y2="527.07" stroke="#7a7a7a" stroke-width="1.6" />
<text x="1065.80" y="531.37" font-size="12.2" font-weight="bold" text-anchor="end" fill="#111" >30</text>
<line x1="1071.00" y1="563.39" x2="1078.00" y2="563.39" stroke="#7a7a7a" stroke-width="1.6" />
<text x="1065.80" y="567.69" font-size="12.2" font-weight="bold" text-anchor="end" fill="#111" >25</text>
<line x1="1071.00" y1="599.71" x2="1078.00" y2="599.71" stroke="#7a7a7a" stroke-width="1.6" />
<text x="1065.80" y="604.01" font-size="12.2" font-weight="bold" text-anchor="end" fill="#111" >20</text>
<line x1="1071.00" y1="636.04" x2="1078.00" y2="636.04" stroke="#7a7a7a" stroke-width="1.6" />
<text x="1065.80" y="640.34" font-size="12.2" font-weight="bold" text-anchor="end" fill="#111" >15</text>
<line x1="1071.00" y1="672.36" x2="1078.00" y2="672.36" stroke="#7a7a7a" stroke-width="1.6" />
<text x="1065.80" y="676.66" font-size="12.2" font-weight="bold" text-anchor="end" fill="#111" >10</text>
<line x1="1071.00" y1="708.68" x2="1078.00" y2="708.68" stroke="#7a7a7a" stroke-width="1.6" />
<text x="1065.80" y="712.98" font-size="12.2" font-weight="bold" text-anchor="end" fill="#111" >5</text>
<line x1="1071.00" y1="745.00" x2="1078.00" y2="745.00" stroke="#7a7a7a" stroke-width="1.6" />
<text x="1065.80" y="749.30" font-size="12.2" font-weight="bold" text-anchor="end" fill="#111" >0</text>
<line x1="1071.00" y1="745.00" x2="1490.50" y2="745.00" stroke="#7a7a7a" stroke-width="1.6" />
<line x1="1078.00" y1="746.00" x2="1078.00" y2="752.00" stroke="#cdddf2" stroke-width="1.2" />
<line x1="1284.25" y1="746.00" x2="1284.25" y2="752.00" stroke="#cdddf2" stroke-width="1.2" />
<line x1="1490.50" y1="746.00" x2="1490.50" y2="752.00" stroke="#cdddf2" stroke-width="1.2" />
<line x1="1181.90" y1="556.75" x2="1181.90" y2="609.00" stroke="#3a3a3a" stroke-width="1.7" stroke-dasharray="2.2 1.6"/>
<line x1="1157.40" y1="556.75" x2="1206.40" y2="556.75" stroke="#4a4a4a" stroke-width="1.7" />
<line x1="1181.90" y1="658.75" x2="1181.90" y2="693.50" stroke="#3a3a3a" stroke-width="1.7" stroke-dasharray="2.2 1.6"/>
<line x1="1157.40" y1="693.50" x2="1206.40" y2="693.50" stroke="#4a4a4a" stroke-width="1.7" />
<rect x="1132.00" y="609.00" width="99.80" height="49.75" fill="#5568e0" />
<line x1="1133.00" y1="640.00" x2="1230.80" y2="640.00" stroke="#111" stroke-width="2.6" />
<line x1="1387.25" y1="520.00" x2="1387.25" y2="615.50" stroke="#3a3a3a" stroke-width="1.7" stroke-dasharray="2.2 1.6"/>
<line x1="1362.85" y1="520.00" x2="1411.65" y2="520.00" stroke="#4a4a4a" stroke-width="1.7" />
<line x1="1387.25" y1="673.25" x2="1387.25" y2="730.00" stroke="#3a3a3a" stroke-width="1.7" stroke-dasharray="2.2 1.6"/>
<line x1="1362.85" y1="730.00" x2="1411.65" y2="730.00" stroke="#4a4a4a" stroke-width="1.7" />
<rect x="1337.00" y="615.50" width="100.50" height="57.75" fill="#f0380f" />
<line x1="1338.00" y1="648.00" x2="1436.50" y2="648.00" stroke="#111" stroke-width="2.6" />
<text x="1285.00" y="471.00" font-size="15" font-weight="bold" text-anchor="middle" fill="#111" textLength="372.00" lengthAdjust="spacingAndGlyphs" >Expression of SUZ12 in PRAD based on sample types</text>
<text x="1034.80" y="617.50" font-size="12.3" font-weight="bold" text-anchor="middle" fill="#111" textLength="127.50" lengthAdjust="spacingAndGlyphs" transform="rotate(-90 1034.80 617.50)" >Transcript per million</text>
<text x="1181.90" y="771.00" font-size="9" font-weight="bold" text-anchor="middle" fill="#222" >Normal</text>
<text x="1181.90" y="781.50" font-size="9" font-weight="bold" text-anchor="middle" fill="#222" >(n=52)</text>
<text x="1387.75" y="771.00" font-size="9" font-weight="bold" text-anchor="middle" fill="#222" >Primary tumour</text>
<text x="1387.75" y="781.50" font-size="9" font-weight="bold" text-anchor="middle" fill="#222" >(n=497)</text>
<text x="1289.00" y="810.00" font-size="12.3" font-weight="bold" text-anchor="middle" fill="#111" >TCGA samples</text>
<line x1="1183.00" y1="506.00" x2="1388.00" y2="506.00" stroke="#4a4a4a" stroke-width="1.8" />
<line x1="1183.00" y1="500.00" x2="1183.00" y2="513.00" stroke="#4a4a4a" stroke-width="1.8" />
<line x1="1388.00" y1="500.00" x2="1388.00" y2="513.00" stroke="#4a4a4a" stroke-width="1.8" />
<text x="1286.75" y="501.50" font-size="16.5" font-weight="bold" text-anchor="middle" fill="#222" >NS</text>
<line x1="1581.50" y1="497.70" x2="1581.50" y2="744.20" stroke="#7a7a7a" stroke-width="1.6" />
<line x1="1574.50" y1="497.70" x2="1581.50" y2="497.70" stroke="#7a7a7a" stroke-width="1.6" />
<text x="1569.30" y="502.00" font-size="12.2" font-weight="bold" text-anchor="end" fill="#111" >25</text>
<line x1="1574.50" y1="547.00" x2="1581.50" y2="547.00" stroke="#7a7a7a" stroke-width="1.6" />
<text x="1569.30" y="551.30" font-size="12.2" font-weight="bold" text-anchor="end" fill="#111" >20</text>
<line x1="1574.50" y1="596.30" x2="1581.50" y2="596.30" stroke="#7a7a7a" stroke-width="1.6" />
<text x="1569.30" y="600.60" font-size="12.2" font-weight="bold" text-anchor="end" fill="#111" >15</text>
<line x1="1574.50" y1="645.60" x2="1581.50" y2="645.60" stroke="#7a7a7a" stroke-width="1.6" />
<text x="1569.30" y="649.90" font-size="12.2" font-weight="bold" text-anchor="end" fill="#111" >10</text>
<line x1="1574.50" y1="694.90" x2="1581.50" y2="694.90" stroke="#7a7a7a" stroke-width="1.6" />
<text x="1569.30" y="699.20" font-size="12.2" font-weight="bold" text-anchor="end" fill="#111" >5</text>
<line x1="1574.50" y1="744.20" x2="1581.50" y2="744.20" stroke="#7a7a7a" stroke-width="1.6" />
<text x="1569.30" y="748.50" font-size="12.2" font-weight="bold" text-anchor="end" fill="#111" >0</text>
<line x1="1574.50" y1="744.20" x2="1979.00" y2="744.20" stroke="#7a7a7a" stroke-width="1.6" />
<line x1="1581.50" y1="745.20" x2="1581.50" y2="751.20" stroke="#cdddf2" stroke-width="1.2" />
<line x1="1780.25" y1="745.20" x2="1780.25" y2="751.20" stroke="#cdddf2" stroke-width="1.2" />
<line x1="1979.00" y1="745.20" x2="1979.00" y2="751.20" stroke="#cdddf2" stroke-width="1.2" />
<line x1="1681.15" y1="524.00" x2="1681.15" y2="588.00" stroke="#3a3a3a" stroke-width="1.7" stroke-dasharray="2.2 1.6"/>
<line x1="1657.40" y1="524.00" x2="1704.90" y2="524.00" stroke="#4a4a4a" stroke-width="1.7" />
<line x1="1681.15" y1="644.40" x2="1681.15" y2="682.50" stroke="#3a3a3a" stroke-width="1.7" stroke-dasharray="2.2 1.6"/>
<line x1="1657.40" y1="682.50" x2="1704.90" y2="682.50" stroke="#4a4a4a" stroke-width="1.7" />
<rect x="1632.90" y="588.00" width="96.50" height="56.40" fill="#5568e0" />
<line x1="1633.90" y1="616.30" x2="1728.40" y2="616.30" stroke="#111" stroke-width="2.6" />
<line x1="1879.40" y1="546.00" x2="1879.40" y2="604.20" stroke="#3a3a3a" stroke-width="1.7" stroke-dasharray="2.2 1.6"/>
<line x1="1855.90" y1="546.00" x2="1902.90" y2="546.00" stroke="#4a4a4a" stroke-width="1.7" />
<line x1="1879.40" y1="641.40" x2="1879.40" y2="697.30" stroke="#3a3a3a" stroke-width="1.7" stroke-dasharray="2.2 1.6"/>
<line x1="1855.90" y1="697.30" x2="1902.90" y2="697.30" stroke="#4a4a4a" stroke-width="1.7" />
<rect x="1831.00" y="604.20" width="96.80" height="37.20" fill="#f0380f" />
<line x1="1832.00" y1="623.50" x2="1926.80" y2="623.50" stroke="#111" stroke-width="2.6" />
<text x="1782.00" y="471.00" font-size="15" font-weight="bold" text-anchor="middle" fill="#111" textLength="356.00" lengthAdjust="spacingAndGlyphs" >Expression of EED in PRAD based on sample types</text>
<text x="1538.80" y="621.20" font-size="12.3" font-weight="bold" text-anchor="middle" fill="#111" textLength="126.60" lengthAdjust="spacingAndGlyphs" transform="rotate(-90 1538.80 621.20)" >Transcript per million</text>
<text x="1681.15" y="771.00" font-size="9" font-weight="bold" text-anchor="middle" fill="#222" >Normal</text>
<text x="1681.15" y="781.50" font-size="9" font-weight="bold" text-anchor="middle" fill="#222" >(n=52)</text>
<text x="1879.90" y="771.00" font-size="9" font-weight="bold" text-anchor="middle" fill="#222" >Primary tumour</text>
<text x="1879.90" y="781.50" font-size="9" font-weight="bold" text-anchor="middle" fill="#222" >(n=497)</text>
<text x="1788.00" y="810.00" font-size="12.3" font-weight="bold" text-anchor="middle" fill="#111" >TCGA samples</text>
<line x1="1681.00" y1="511.50" x2="1879.00" y2="511.50" stroke="#4a4a4a" stroke-width="1.8" />
<line x1="1681.00" y1="504.00" x2="1681.00" y2="517.70" stroke="#4a4a4a" stroke-width="1.8" />
<line x1="1879.00" y1="504.00" x2="1879.00" y2="517.70" stroke="#4a4a4a" stroke-width="1.8" />
<text x="1779.60" y="504.70" font-size="16.5" font-weight="bold" text-anchor="middle" fill="#222" >NS</text>
<text x="-0.50" y="869.00" font-size="41" font-weight="bold" >c</text>
<line x1="83.10" y1="901.00" x2="83.10" y2="1134.30" stroke="#7a7a7a" stroke-width="1.6" />
<line x1="76.10" y1="901.00" x2="83.10" y2="901.00" stroke="#7a7a7a" stroke-width="1.6" />
<text x="69.60" y="905.30" font-size="12.2" font-weight="bold" text-anchor="end" fill="#111" >0.8</text>
<line x1="76.10" y1="947.66" x2="83.10" y2="947.66" stroke="#7a7a7a" stroke-width="1.6" />
<text x="69.60" y="951.96" font-size="12.2" font-weight="bold" text-anchor="end" fill="#111" >0.6</text>
<line x1="76.10" y1="994.32" x2="83.10" y2="994.32" stroke="#7a7a7a" stroke-width="1.6" />
<text x="69.60" y="998.62" font-size="12.2" font-weight="bold" text-anchor="end" fill="#111" >0.4</text>
<line x1="76.10" y1="1040.98" x2="83.10" y2="1040.98" stroke="#7a7a7a" stroke-width="1.6" />
<text x="69.60" y="1045.28" font-size="12.2" font-weight="bold" text-anchor="end" fill="#111" >0.2</text>
<line x1="76.10" y1="1087.64" x2="83.10" y2="1087.64" stroke="#7a7a7a" stroke-width="1.6" />
<text x="69.60" y="1091.94" font-size="12.2" font-weight="bold" text-anchor="end" fill="#111" >0</text>
<line x1="76.10" y1="1134.30" x2="83.10" y2="1134.30" stroke="#7a7a7a" stroke-width="1.6" />
<text x="69.60" y="1138.60" font-size="12.2" font-weight="bold" text-anchor="end" fill="#111" >−0.2</text>
<line x1="76.10" y1="1134.30" x2="500.00" y2="1134.30" stroke="#7a7a7a" stroke-width="1.6" />
<line x1="83.10" y1="1135.30" x2="83.10" y2="1141.30" stroke="#cdddf2" stroke-width="1.2" />
<line x1="152.58" y1="1135.30" x2="152.58" y2="1141.30" stroke="#cdddf2" stroke-width="1.2" />
<line x1="222.07" y1="1135.30" x2="222.07" y2="1141.30" stroke="#cdddf2" stroke-width="1.2" />
<line x1="291.55" y1="1135.30" x2="291.55" y2="1141.30" stroke="#cdddf2" stroke-width="1.2" />
<line x1="361.03" y1="1135.30" x2="361.03" y2="1141.30" stroke="#cdddf2" stroke-width="1.2" />
<line x1="430.52" y1="1135.30" x2="430.52" y2="1141.30" stroke="#cdddf2" stroke-width="1.2" />
<line x1="500.00" y1="1135.30" x2="500.00" y2="1141.30" stroke="#cdddf2" stroke-width="1.2" />
<line x1="118.20" y1="948.60" x2="118.20" y2="1019.20" stroke="#3a3a3a" stroke-width="1.7" stroke-dasharray="2.2 1.6"/>
<line x1="110.40" y1="948.60" x2="126.00" y2="948.60" stroke="#4a4a4a" stroke-width="1.7" />
<line x1="118.20" y1="1069.90" x2="118.20" y2="1088.00" stroke="#3a3a3a" stroke-width="1.7" stroke-dasharray="2.2 1.6"/>
<line x1="110.40" y1="1088.00" x2="126.00" y2="1088.00" stroke="#4a4a4a" stroke-width="1.7" />
<rect x="101.30" y="1019.20" width="33.80" height="50.70" fill="#5568e0" />
<line x1="102.30" y1="1040.80" x2="134.10" y2="1040.80" stroke="#111" stroke-width="2.4" />
<line x1="187.50" y1="1015.60" x2="187.50" y2="1056.40" stroke="#3a3a3a" stroke-width="1.7" stroke-dasharray="2.2 1.6"/>
<line x1="179.70" y1="1015.60" x2="195.30" y2="1015.60" stroke="#4a4a4a" stroke-width="1.7" />
<line x1="187.50" y1="1083.40" x2="187.50" y2="1088.00" stroke="#3a3a3a" stroke-width="1.7" stroke-dasharray="2.2 1.6"/>
<line x1="179.70" y1="1088.00" x2="195.30" y2="1088.00" stroke="#4a4a4a" stroke-width="1.7" />
<rect x="170.60" y="1056.40" width="33.80" height="27.00" fill="#f0891e" />
<line x1="171.60" y1="1077.00" x2="203.40" y2="1077.00" stroke="#111" stroke-width="2.4" />
<line x1="257.10" y1="1028.30" x2="257.10" y2="1065.70" stroke="#3a3a3a" stroke-width="1.7" stroke-dasharray="2.2 1.6"/>
<line x1="249.30" y1="1028.30" x2="264.90" y2="1028.30" stroke="#4a4a4a" stroke-width="1.7" />
<line x1="257.10" y1="1085.50" x2="257.10" y2="1088.00" stroke="#3a3a3a" stroke-width="1.7" stroke-dasharray="2.2 1.6"/>
<line x1="249.30" y1="1088.00" x2="264.90" y2="1088.00" stroke="#4a4a4a" stroke-width="1.7" />
<rect x="240.20" y="1065.70" width="33.80" height="19.80" fill="#b4d614" />
<line x1="241.20" y1="1075.80" x2="273.00" y2="1075.80" stroke="#111" stroke-width="2.4" />
<line x1="326.80" y1="1022.60" x2="326.80" y2="1066.50" stroke="#3a3a3a" stroke-width="1.7" stroke-dasharray="2.2 1.6"/>
<line x1="319.00" y1="1022.60" x2="334.60" y2="1022.60" stroke="#4a4a4a" stroke-width="1.7" />
<rect x="309.90" y="1066.50" width="33.80" height="21.50" fill="#b07036" />
<line x1="310.90" y1="1081.60" x2="342.70" y2="1081.60" stroke="#111" stroke-width="2.4" />
<line x1="396.60" y1="1051.70" x2="396.60" y2="1074.50" stroke="#3a3a3a" stroke-width="1.7" stroke-dasharray="2.2 1.6"/>
<line x1="388.80" y1="1051.70" x2="404.40" y2="1051.70" stroke="#4a4a4a" stroke-width="1.7" />
<rect x="379.70" y="1074.50" width="33.80" height="13.50" fill="#e022c8" />
<line x1="380.70" y1="1082.30" x2="412.50" y2="1082.30" stroke="#111" stroke-width="2.4" />
<line x1="465.70" y1="1051.70" x2="465.70" y2="1069.00" stroke="#3a3a3a" stroke-width="1.7" stroke-dasharray="2.2 1.6"/>
<line x1="457.90" y1="1051.70" x2="473.50" y2="1051.70" stroke="#4a4a4a" stroke-width="1.7" />
<rect x="448.80" y="1069.00" width="33.80" height="19.00" fill="#d01018" />
<line x1="449.80" y1="1081.60" x2="481.60" y2="1081.60" stroke="#111" stroke-width="2.4" />
<text x="292.75" y="869.90" font-size="15" font-weight="bold" text-anchor="middle" fill="#111" textLength="427.50" lengthAdjust="spacingAndGlyphs" >Expression of HEPACAM in PRAD based on patient’s gleason</text>
<text x="292.70" y="887.30" font-size="15" font-weight="bold" text-anchor="middle" fill="#111" >score</text>
<text x="29.80" y="1017.30" font-size="12.3" font-weight="bold" text-anchor="middle" fill="#111" textLength="126.00" lengthAdjust="spacingAndGlyphs" transform="rotate(-90 29.80 1017.30)" >Transcript per million</text>
<text x="117.04" y="1155.30" font-size="9" font-weight="bold" text-anchor="middle" fill="#222" >Normal</text>
<text x="117.04" y="1166.00" font-size="9" font-weight="bold" text-anchor="middle" fill="#222" >(n=52)</text>
<text x="186.52" y="1155.30" font-size="9" font-weight="bold" text-anchor="middle" fill="#222" >Gleason score</text>
<text x="186.52" y="1166.00" font-size="9" font-weight="bold" text-anchor="middle" fill="#222" >6</text>
<text x="186.52" y="1176.60" font-size="9" font-weight="bold" text-anchor="middle" fill="#222" >(n=45)</text>
<text x="256.01" y="1155.30" font-size="9" font-weight="bold" text-anchor="middle" fill="#222" >Gleason score</text>
<text x="256.01" y="1166.00" font-size="9" font-weight="bold" text-anchor="middle" fill="#222" >7</text>
<text x="256.01" y="1176.60" font-size="9" font-weight="bold" text-anchor="middle" fill="#222" >(n=247)</text>
<text x="325.49" y="1155.30" font-size="9" font-weight="bold" text-anchor="middle" fill="#222" >Gleason score</text>
<text x="325.49" y="1166.00" font-size="9" font-weight="bold" text-anchor="middle" fill="#222" >8</text>
<text x="325.49" y="1176.60" font-size="9" font-weight="bold" text-anchor="middle" fill="#222" >(n=64)</text>
<text x="394.97" y="1155.30" font-size="9" font-weight="bold" text-anchor="middle" fill="#222" >Gleason score</text>
<text x="394.97" y="1166.00" font-size="9" font-weight="bold" text-anchor="middle" fill="#222" >9</text>
<text x="394.97" y="1176.60" font-size="9" font-weight="bold" text-anchor="middle" fill="#222" >(n=136)</text>
<text x="464.46" y="1155.30" font-size="9" font-weight="bold" text-anchor="middle" fill="#222" >Gleason score</text>
<text x="464.46" y="1166.00" font-size="9" font-weight="bold" text-anchor="middle" fill="#222" >10</text>
<text x="464.46" y="1176.60" font-size="9" font-weight="bold" text-anchor="middle" fill="#222" >(n=4)</text>
<text x="292.70" y="1205.00" font-size="12.3" font-weight="bold" text-anchor="middle" fill="#111" >TCGA samples</text>
<line x1="583.10" y1="901.00" x2="583.10" y2="1134.30" stroke="#7a7a7a" stroke-width="1.6" />
<line x1="576.10" y1="901.00" x2="583.10" y2="901.00" stroke="#7a7a7a" stroke-width="1.6" />
<text x="569.60" y="905.30" font-size="12.2" font-weight="bold" text-anchor="end" fill="#111" >30</text>
<line x1="576.10" y1="959.33" x2="583.10" y2="959.33" stroke="#7a7a7a" stroke-width="1.6" />
<text x="569.60" y="963.62" font-size="12.2" font-weight="bold" text-anchor="end" fill="#111" >20</text>
<line x1="576.10" y1="1017.65" x2="583.10" y2="1017.65" stroke="#7a7a7a" stroke-width="1.6" />
<text x="569.60" y="1021.95" font-size="12.2" font-weight="bold" text-anchor="end" fill="#111" >10</text>
<line x1="576.10" y1="1075.97" x2="583.10" y2="1075.97" stroke="#7a7a7a" stroke-width="1.6" />
<text x="569.60" y="1080.27" font-size="12.2" font-weight="bold" text-anchor="end" fill="#111" >0</text>
<line x1="576.10" y1="1134.30" x2="583.10" y2="1134.30" stroke="#7a7a7a" stroke-width="1.6" />
<text x="569.60" y="1138.60" font-size="12.2" font-weight="bold" text-anchor="end" fill="#111" >−10</text>
<line x1="576.10" y1="1134.30" x2="1000.00" y2="1134.30" stroke="#7a7a7a" stroke-width="1.6" />
<line x1="583.10" y1="1135.30" x2="583.10" y2="1141.30" stroke="#cdddf2" stroke-width="1.2" />
<line x1="652.58" y1="1135.30" x2="652.58" y2="1141.30" stroke="#cdddf2" stroke-width="1.2" />
<line x1="722.07" y1="1135.30" x2="722.07" y2="1141.30" stroke="#cdddf2" stroke-width="1.2" />
<line x1="791.55" y1="1135.30" x2="791.55" y2="1141.30" stroke="#cdddf2" stroke-width="1.2" />
<line x1="861.03" y1="1135.30" x2="861.03" y2="1141.30" stroke="#cdddf2" stroke-width="1.2" />
<line x1="930.52" y1="1135.30" x2="930.52" y2="1141.30" stroke="#cdddf2" stroke-width="1.2" />
<line x1="1000.00" y1="1135.30" x2="1000.00" y2="1141.30" stroke="#cdddf2" stroke-width="1.2" />
<line x1="617.40" y1="1058.20" x2="617.40" y2="1066.00" stroke="#3a3a3a" stroke-width="1.7" stroke-dasharray="2.2 1.6"/>
<line x1="609.60" y1="1058.20" x2="625.20" y2="1058.20" stroke="#4a4a4a" stroke-width="1.7" />
<line x1="617.40" y1="1072.00" x2="617.40" y2="1074.50" stroke="#3a3a3a" stroke-width="1.7" stroke-dasharray="2.2 1.6"/>
<line x1="609.60" y1="1074.50" x2="625.20" y2="1074.50" stroke="#4a4a4a" stroke-width="1.7" />
<rect x="600.50" y="1066.00" width="33.80" height="6.00" fill="#5568e0" />
<line x1="601.50" y1="1069.90" x2="633.30" y2="1069.90" stroke="#111" stroke-width="2.4" />
<line x1="687.50" y1="1045.20" x2="687.50" y2="1057.10" stroke="#3a3a3a" stroke-width="1.7" stroke-dasharray="2.2 1.6"/>
<line x1="679.70" y1="1045.20" x2="695.30" y2="1045.20" stroke="#4a4a4a" stroke-width="1.7" />
<line x1="687.50" y1="1064.20" x2="687.50" y2="1069.60" stroke="#3a3a3a" stroke-width="1.7" stroke-dasharray="2.2 1.6"/>
<line x1="679.70" y1="1069.60" x2="695.30" y2="1069.60" stroke="#4a4a4a" stroke-width="1.7" />
<rect x="670.60" y="1057.10" width="33.80" height="7.10" fill="#f0891e" />
<line x1="671.60" y1="1060.80" x2="703.40" y2="1060.80" stroke="#111" stroke-width="2.4" />
<line x1="756.60" y1="1034.50" x2="756.60" y2="1052.50" stroke="#3a3a3a" stroke-width="1.7" stroke-dasharray="2.2 1.6"/>
<line x1="748.80" y1="1034.50" x2="764.40" y2="1034.50" stroke="#4a4a4a" stroke-width="1.7" />
<line x1="756.60" y1="1065.00" x2="756.60" y2="1074.50" stroke="#3a3a3a" stroke-width="1.7" stroke-dasharray="2.2 1.6"/>
<line x1="748.80" y1="1074.50" x2="764.40" y2="1074.50" stroke="#4a4a4a" stroke-width="1.7" />
<rect x="739.70" y="1052.50" width="33.80" height="12.50" fill="#b4d614" />
<line x1="740.70" y1="1058.70" x2="772.50" y2="1058.70" stroke="#111" stroke-width="2.4" />
<line x1="826.50" y1="1018.70" x2="826.50" y2="1043.40" stroke="#3a3a3a" stroke-width="1.7" stroke-dasharray="2.2 1.6"/>
<line x1="818.70" y1="1018.70" x2="834.30" y2="1018.70" stroke="#4a4a4a" stroke-width="1.7" />
<line x1="826.50" y1="1059.50" x2="826.50" y2="1068.00" stroke="#3a3a3a" stroke-width="1.7" stroke-dasharray="2.2 1.6"/>
<line x1="818.70" y1="1068.00" x2="834.30" y2="1068.00" stroke="#4a4a4a" stroke-width="1.7" />
<rect x="809.60" y="1043.40" width="33.80" height="16.10" fill="#b07036" />
<line x1="810.60" y1="1053.00" x2="842.40" y2="1053.00" stroke="#111" stroke-width="2.4" />
<line x1="895.30" y1="1008.80" x2="895.30" y2="1039.50" stroke="#3a3a3a" stroke-width="1.7" stroke-dasharray="2.2 1.6"/>
<line x1="887.50" y1="1008.80" x2="903.10" y2="1008.80" stroke="#4a4a4a" stroke-width="1.7" />
<line x1="895.30" y1="1058.40" x2="895.30" y2="1072.00" stroke="#3a3a3a" stroke-width="1.7" stroke-dasharray="2.2 1.6"/>
<line x1="887.50" y1="1072.00" x2="903.10" y2="1072.00" stroke="#4a4a4a" stroke-width="1.7" />
<rect x="878.40" y="1039.50" width="33.80" height="18.90" fill="#e022c8" />
<line x1="879.40" y1="1051.40" x2="911.20" y2="1051.40" stroke="#111" stroke-width="2.4" />
<line x1="965.50" y1="914.30" x2="965.50" y2="942.60" stroke="#3a3a3a" stroke-width="1.7" stroke-dasharray="2.2 1.6"/>
<line x1="957.70" y1="914.30" x2="973.30" y2="914.30" stroke="#4a4a4a" stroke-width="1.7" />
<line x1="965.50" y1="1027.50" x2="965.50" y2="1066.50" stroke="#3a3a3a" stroke-width="1.7" stroke-dasharray="2.2 1.6"/>
<line x1="957.70" y1="1066.50" x2="973.30" y2="1066.50" stroke="#4a4a4a" stroke-width="1.7" />
<rect x="948.60" y="942.60" width="33.80" height="84.90" fill="#d01018" />
<line x1="949.60" y1="983.40" x2="981.40" y2="983.40" stroke="#111" stroke-width="2.4" />
<text x="792.85" y="869.90" font-size="15" font-weight="bold" text-anchor="middle" fill="#111" textLength="390.90" lengthAdjust="spacingAndGlyphs" >Expression of EZH2 in PRAD based on patient’s gleason</text>
<text x="792.70" y="887.30" font-size="15" font-weight="bold" text-anchor="middle" fill="#111" >score</text>
<text x="535.00" y="1018.00" font-size="12.3" font-weight="bold" text-anchor="middle" fill="#111" textLength="127.30" lengthAdjust="spacingAndGlyphs" transform="rotate(-90 535.00 1018.00)" >Transcript per million</text>
<text x="617.04" y="1155.30" font-size="9" font-weight="bold" text-anchor="middle" fill="#222" >Normal</text>
<text x="617.04" y="1166.00" font-size="9" font-weight="bold" text-anchor="middle" fill="#222" >(n=52)</text>
<text x="686.53" y="1155.30" font-size="9" font-weight="bold" text-anchor="middle" fill="#222" >Gleason score</text>
<text x="686.53" y="1166.00" font-size="9" font-weight="bold" text-anchor="middle" fill="#222" >6</text>
<text x="686.53" y="1176.60" font-size="9" font-weight="bold" text-anchor="middle" fill="#222" >(n=45)</text>
<text x="756.01" y="1155.30" font-size="9" font-weight="bold" text-anchor="middle" fill="#222" >Gleason score</text>
<text x="756.01" y="1166.00" font-size="9" font-weight="bold" text-anchor="middle" fill="#222" >7</text>
<text x="756.01" y="1176.60" font-size="9" font-weight="bold" text-anchor="middle" fill="#222" >(n=247)</text>
<text x="825.49" y="1155.30" font-size="9" font-weight="bold" text-anchor="middle" fill="#222" >Gleason score</text>
<text x="825.49" y="1166.00" font-size="9" font-weight="bold" text-anchor="middle" fill="#222" >8</text>
<text x="825.49" y="1176.60" font-size="9" font-weight="bold" text-anchor="middle" fill="#222" >(n=64)</text>
<text x="894.98" y="1155.30" font-size="9" font-weight="bold" text-anchor="middle" fill="#222" >Gleason score</text>
<text x="894.98" y="1166.00" font-size="9" font-weight="bold" text-anchor="middle" fill="#222" >9</text>
<text x="894.98" y="1176.60" font-size="9" font-weight="bold" text-anchor="middle" fill="#222" >(n=136)</text>
<text x="964.46" y="1155.30" font-size="9" font-weight="bold" text-anchor="middle" fill="#222" >Gleason score</text>
<text x="964.46" y="1166.00" font-size="9" font-weight="bold" text-anchor="middle" fill="#222" >10</text>
<text x="964.46" y="1176.60" font-size="9" font-weight="bold" text-anchor="middle" fill="#222" >(n=4)</text>
<text x="792.70" y="1205.00" font-size="12.3" font-weight="bold" text-anchor="middle" fill="#111" >TCGA samples</text>
<line x1="1077.90" y1="902.90" x2="1077.90" y2="1134.30" stroke="#7a7a7a" stroke-width="1.6" />
<line x1="1070.90" y1="902.90" x2="1077.90" y2="902.90" stroke="#7a7a7a" stroke-width="1.6" />
<text x="1063.60" y="907.20" font-size="12.2" font-weight="bold" text-anchor="end" fill="#111" >40</text>
<line x1="1070.90" y1="960.75" x2="1077.90" y2="960.75" stroke="#7a7a7a" stroke-width="1.6" />
<text x="1063.60" y="965.05" font-size="12.2" font-weight="bold" text-anchor="end" fill="#111" >30</text>
<line x1="1070.90" y1="1018.60" x2="1077.90" y2="1018.60" stroke="#7a7a7a" stroke-width="1.6" />
<text x="1063.60" y="1022.90" font-size="12.2" font-weight="bold" text-anchor="end" fill="#111" >20</text>
<line x1="1070.90" y1="1076.45" x2="1077.90" y2="1076.45" stroke="#7a7a7a" stroke-width="1.6" />
<text x="1063.60" y="1080.75" font-size="12.2" font-weight="bold" text-anchor="end" fill="#111" >10</text>
<line x1="1070.90" y1="1134.30" x2="1077.90" y2="1134.30" stroke="#7a7a7a" stroke-width="1.6" />
<text x="1063.60" y="1138.60" font-size="12.2" font-weight="bold" text-anchor="end" fill="#111" >0</text>
<line x1="1070.90" y1="1134.30" x2="1498.20" y2="1134.30" stroke="#7a7a7a" stroke-width="1.6" />
<line x1="1077.90" y1="1135.30" x2="1077.90" y2="1141.30" stroke="#cdddf2" stroke-width="1.2" />
<line x1="1147.95" y1="1135.30" x2="1147.95" y2="1141.30" stroke="#cdddf2" stroke-width="1.2" />
<line x1="1218.00" y1="1135.30" x2="1218.00" y2="1141.30" stroke="#cdddf2" stroke-width="1.2" />
<line x1="1288.05" y1="1135.30" x2="1288.05" y2="1141.30" stroke="#cdddf2" stroke-width="1.2" />
<line x1="1358.10" y1="1135.30" x2="1358.10" y2="1141.30" stroke="#cdddf2" stroke-width="1.2" />
<line x1="1428.15" y1="1135.30" x2="1428.15" y2="1141.30" stroke="#cdddf2" stroke-width="1.2" />
<line x1="1498.20" y1="1135.30" x2="1498.20" y2="1141.30" stroke="#cdddf2" stroke-width="1.2" />
<line x1="1113.50" y1="983.90" x2="1113.50" y2="1025.70" stroke="#3a3a3a" stroke-width="1.7" stroke-dasharray="2.2 1.6"/>
<line x1="1105.70" y1="983.90" x2="1121.30" y2="983.90" stroke="#4a4a4a" stroke-width="1.7" />
<line x1="1113.50" y1="1065.20" x2="1113.50" y2="1092.50" stroke="#3a3a3a" stroke-width="1.7" stroke-dasharray="2.2 1.6"/>
<line x1="1105.70" y1="1092.50" x2="1121.30" y2="1092.50" stroke="#4a4a4a" stroke-width="1.7" />
<rect x="1096.60" y="1025.70" width="33.80" height="39.50" fill="#5568e0" />
<line x1="1097.60" y1="1050.40" x2="1129.40" y2="1050.40" stroke="#111" stroke-width="2.4" />
<line x1="1183.40" y1="1021.80" x2="1183.40" y2="1058.70" stroke="#3a3a3a" stroke-width="1.7" stroke-dasharray="2.2 1.6"/>
<line x1="1175.60" y1="1021.80" x2="1191.20" y2="1021.80" stroke="#4a4a4a" stroke-width="1.7" />
<line x1="1183.40" y1="1079.70" x2="1183.40" y2="1117.40" stroke="#3a3a3a" stroke-width="1.7" stroke-dasharray="2.2 1.6"/>
<line x1="1175.60" y1="1117.40" x2="1191.20" y2="1117.40" stroke="#4a4a4a" stroke-width="1.7" />
<rect x="1166.50" y="1058.70" width="33.80" height="21.00" fill="#f0891e" />
<line x1="1167.50" y1="1070.90" x2="1199.30" y2="1070.90" stroke="#111" stroke-width="2.4" />
<line x1="1253.20" y1="964.70" x2="1253.20" y2="1034.30" stroke="#3a3a3a" stroke-width="1.7" stroke-dasharray="2.2 1.6"/>
<line x1="1245.40" y1="964.70" x2="1261.00" y2="964.70" stroke="#4a4a4a" stroke-width="1.7" />
<line x1="1253.20" y1="1080.80" x2="1253.20" y2="1121.30" stroke="#3a3a3a" stroke-width="1.7" stroke-dasharray="2.2 1.6"/>
<line x1="1245.40" y1="1121.30" x2="1261.00" y2="1121.30" stroke="#4a4a4a" stroke-width="1.7" />
<rect x="1236.30" y="1034.30" width="33.80" height="46.50" fill="#b4d614" />
<line x1="1237.30" y1="1060.50" x2="1269.10" y2="1060.50" stroke="#111" stroke-width="2.4" />
<line x1="1323.10" y1="955.10" x2="1323.10" y2="1030.40" stroke="#3a3a3a" stroke-width="1.7" stroke-dasharray="2.2 1.6"/>
<line x1="1315.30" y1="955.10" x2="1330.90" y2="955.10" stroke="#4a4a4a" stroke-width="1.7" />
<line x1="1323.10" y1="1075.10" x2="1323.10" y2="1117.40" stroke="#3a3a3a" stroke-width="1.7" stroke-dasharray="2.2 1.6"/>
<line x1="1315.30" y1="1117.40" x2="1330.90" y2="1117.40" stroke="#4a4a4a" stroke-width="1.7" />
<rect x="1306.20" y="1030.40" width="33.80" height="44.70" fill="#b07036" />
<line x1="1307.20" y1="1049.40" x2="1339.00" y2="1049.40" stroke="#111" stroke-width="2.4" />
<line x1="1393.00" y1="958.20" x2="1393.00" y2="1027.00" stroke="#3a3a3a" stroke-width="1.7" stroke-dasharray="2.2 1.6"/>
<line x1="1385.20" y1="958.20" x2="1400.80" y2="958.20" stroke="#4a4a4a" stroke-width="1.7" />
<line x1="1393.00" y1="1070.60" x2="1393.00" y2="1117.40" stroke="#3a3a3a" stroke-width="1.7" stroke-dasharray="2.2 1.6"/>
<line x1="1385.20" y1="1117.40" x2="1400.80" y2="1117.40" stroke="#4a4a4a" stroke-width="1.7" />
<rect x="1376.10" y="1027.00" width="33.80" height="43.60" fill="#e022c8" />
<line x1="1377.10" y1="1051.20" x2="1408.90" y2="1051.20" stroke="#111" stroke-width="2.4" />
<line x1="1462.90" y1="913.50" x2="1462.90" y2="988.60" stroke="#3a3a3a" stroke-width="1.7" stroke-dasharray="2.2 1.6"/>
<line x1="1455.10" y1="913.50" x2="1470.70" y2="913.50" stroke="#4a4a4a" stroke-width="1.7" />
<line x1="1462.90" y1="1075.10" x2="1462.90" y2="1086.00" stroke="#3a3a3a" stroke-width="1.7" stroke-dasharray="2.2 1.6"/>
<line x1="1455.10" y1="1086.00" x2="1470.70" y2="1086.00" stroke="#4a4a4a" stroke-width="1.7" />
<rect x="1446.00" y="988.60" width="33.80" height="86.50" fill="#d01018" />
<line x1="1447.00" y1="1043.10" x2="1478.80" y2="1043.10" stroke="#111" stroke-width="2.4" />
<text x="1288.95" y="869.90" font-size="15" font-weight="bold" text-anchor="middle" fill="#111" textLength="398.70" lengthAdjust="spacingAndGlyphs" >Expression of SUZ12 in PRAD based on patient’s gleason</text>
<text x="1288.80" y="887.30" font-size="15" font-weight="bold" text-anchor="middle" fill="#111" >score</text>
<text x="1035.00" y="1018.00" font-size="12.3" font-weight="bold" text-anchor="middle" fill="#111" textLength="127.30" lengthAdjust="spacingAndGlyphs" transform="rotate(-90 1035.00 1018.00)" >Transcript per million</text>
<text x="1112.13" y="1155.30" font-size="9" font-weight="bold" text-anchor="middle" fill="#222" >Normal</text>
<text x="1112.13" y="1166.00" font-size="9" font-weight="bold" text-anchor="middle" fill="#222" >(n=52)</text>
<text x="1182.18" y="1155.30" font-size="9" font-weight="bold" text-anchor="middle" fill="#222" >Gleason score</text>
<text x="1182.18" y="1166.00" font-size="9" font-weight="bold" text-anchor="middle" fill="#222" >6</text>
<text x="1182.18" y="1176.60" font-size="9" font-weight="bold" text-anchor="middle" fill="#222" >(n=45)</text>
<text x="1252.23" y="1155.30" font-size="9" font-weight="bold" text-anchor="middle" fill="#222" >Gleason score</text>
<text x="1252.23" y="1166.00" font-size="9" font-weight="bold" text-anchor="middle" fill="#222" >7</text>
<text x="1252.23" y="1176.60" font-size="9" font-weight="bold" text-anchor="middle" fill="#222" >(n=247)</text>
<text x="1322.28" y="1155.30" font-size="9" font-weight="bold" text-anchor="middle" fill="#222" >Gleason score</text>
<text x="1322.28" y="1166.00" font-size="9" font-weight="bold" text-anchor="middle" fill="#222" >8</text>
<text x="1322.28" y="1176.60" font-size="9" font-weight="bold" text-anchor="middle" fill="#222" >(n=64)</text>
<text x="1392.33" y="1155.30" font-size="9" font-weight="bold" text-anchor="middle" fill="#222" >Gleason score</text>
<text x="1392.33" y="1166.00" font-size="9" font-weight="bold" text-anchor="middle" fill="#222" >9</text>
<text x="1392.33" y="1176.60" font-size="9" font-weight="bold" text-anchor="middle" fill="#222" >(n=136)</text>
<text x="1462.38" y="1155.30" font-size="9" font-weight="bold" text-anchor="middle" fill="#222" >Gleason score</text>
<text x="1462.38" y="1166.00" font-size="9" font-weight="bold" text-anchor="middle" fill="#222" >10</text>
<text x="1462.38" y="1176.60" font-size="9" font-weight="bold" text-anchor="middle" fill="#222" >(n=4)</text>
<text x="1288.80" y="1205.00" font-size="12.3" font-weight="bold" text-anchor="middle" fill="#111" >TCGA samples</text>
<line x1="1581.30" y1="890.60" x2="1581.30" y2="1134.10" stroke="#7a7a7a" stroke-width="1.6" />
<line x1="1574.30" y1="890.60" x2="1581.30" y2="890.60" stroke="#7a7a7a" stroke-width="1.6" />
<text x="1566.70" y="894.90" font-size="12.2" font-weight="bold" text-anchor="end" fill="#111" >25</text>
<line x1="1574.30" y1="939.30" x2="1581.30" y2="939.30" stroke="#7a7a7a" stroke-width="1.6" />
<text x="1566.70" y="943.60" font-size="12.2" font-weight="bold" text-anchor="end" fill="#111" >20</text>
<line x1="1574.30" y1="988.00" x2="1581.30" y2="988.00" stroke="#7a7a7a" stroke-width="1.6" />
<text x="1566.70" y="992.30" font-size="12.2" font-weight="bold" text-anchor="end" fill="#111" >15</text>
<line x1="1574.30" y1="1036.70" x2="1581.30" y2="1036.70" stroke="#7a7a7a" stroke-width="1.6" />
<text x="1566.70" y="1041.00" font-size="12.2" font-weight="bold" text-anchor="end" fill="#111" >10</text>
<line x1="1574.30" y1="1085.40" x2="1581.30" y2="1085.40" stroke="#7a7a7a" stroke-width="1.6" />
<text x="1566.70" y="1089.70" font-size="12.2" font-weight="bold" text-anchor="end" fill="#111" >5</text>
<line x1="1574.30" y1="1134.10" x2="1581.30" y2="1134.10" stroke="#7a7a7a" stroke-width="1.6" />
<text x="1566.70" y="1138.40" font-size="12.2" font-weight="bold" text-anchor="end" fill="#111" >0</text>
<line x1="1574.30" y1="1134.10" x2="1992.60" y2="1134.10" stroke="#7a7a7a" stroke-width="1.6" />
<line x1="1581.30" y1="1135.10" x2="1581.30" y2="1141.10" stroke="#cdddf2" stroke-width="1.2" />
<line x1="1649.85" y1="1135.10" x2="1649.85" y2="1141.10" stroke="#cdddf2" stroke-width="1.2" />
<line x1="1718.40" y1="1135.10" x2="1718.40" y2="1141.10" stroke="#cdddf2" stroke-width="1.2" />
<line x1="1786.95" y1="1135.10" x2="1786.95" y2="1141.10" stroke="#cdddf2" stroke-width="1.2" />
<line x1="1855.50" y1="1135.10" x2="1855.50" y2="1141.10" stroke="#cdddf2" stroke-width="1.2" />
<line x1="1924.05" y1="1135.10" x2="1924.05" y2="1141.10" stroke="#cdddf2" stroke-width="1.2" />
<line x1="1992.60" y1="1135.10" x2="1992.60" y2="1141.10" stroke="#cdddf2" stroke-width="1.2" />
<line x1="1616.10" y1="916.00" x2="1616.10" y2="979.60" stroke="#3a3a3a" stroke-width="1.7" stroke-dasharray="2.2 1.6"/>
<line x1="1608.30" y1="916.00" x2="1623.90" y2="916.00" stroke="#4a4a4a" stroke-width="1.7" />
<line x1="1616.10" y1="1036.20" x2="1616.10" y2="1072.70" stroke="#3a3a3a" stroke-width="1.7" stroke-dasharray="2.2 1.6"/>
<line x1="1608.30" y1="1072.70" x2="1623.90" y2="1072.70" stroke="#4a4a4a" stroke-width="1.7" />
<rect x="1599.20" y="979.60" width="33.80" height="56.60" fill="#5568e0" />
<line x1="1600.20" y1="1008.00" x2="1632.00" y2="1008.00" stroke="#111" stroke-width="2.4" />
<line x1="1684.90" y1="967.90" x2="1684.90" y2="1006.00" stroke="#3a3a3a" stroke-width="1.7" stroke-dasharray="2.2 1.6"/>
<line x1="1677.10" y1="967.90" x2="1692.70" y2="967.90" stroke="#4a4a4a" stroke-width="1.7" />
<line x1="1684.90" y1="1033.60" x2="1684.90" y2="1065.10" stroke="#3a3a3a" stroke-width="1.7" stroke-dasharray="2.2 1.6"/>
<line x1="1677.10" y1="1065.10" x2="1692.70" y2="1065.10" stroke="#4a4a4a" stroke-width="1.7" />
<rect x="1668.00" y="1006.00" width="33.80" height="27.60" fill="#f0891e" />
<line x1="1669.00" y1="1023.40" x2="1700.80" y2="1023.40" stroke="#111" stroke-width="2.4" />
<line x1="1752.90" y1="949.20" x2="1752.90" y2="1002.70" stroke="#3a3a3a" stroke-width="1.7" stroke-dasharray="2.2 1.6"/>
<line x1="1745.10" y1="949.20" x2="1760.70" y2="949.20" stroke="#4a4a4a" stroke-width="1.7" />
<line x1="1752.90" y1="1036.90" x2="1752.90" y2="1087.00" stroke="#3a3a3a" stroke-width="1.7" stroke-dasharray="2.2 1.6"/>
<line x1="1745.10" y1="1087.00" x2="1760.70" y2="1087.00" stroke="#4a4a4a" stroke-width="1.7" />
<rect x="1736.00" y="1002.70" width="33.80" height="34.20" fill="#b4d614" />
<line x1="1737.00" y1="1021.10" x2="1768.80" y2="1021.10" stroke="#111" stroke-width="2.4" />
<line x1="1821.70" y1="933.40" x2="1821.70" y2="984.50" stroke="#3a3a3a" stroke-width="1.7" stroke-dasharray="2.2 1.6"/>
<line x1="1813.90" y1="933.40" x2="1829.50" y2="933.40" stroke="#4a4a4a" stroke-width="1.7" />
<line x1="1821.70" y1="1020.80" x2="1821.70" y2="1058.70" stroke="#3a3a3a" stroke-width="1.7" stroke-dasharray="2.2 1.6"/>
<line x1="1813.90" y1="1058.70" x2="1829.50" y2="1058.70" stroke="#4a4a4a" stroke-width="1.7" />
<rect x="1804.80" y="984.50" width="33.80" height="36.30" fill="#b07036" />
<line x1="1805.80" y1="1001.40" x2="1837.60" y2="1001.40" stroke="#111" stroke-width="2.4" />
<line x1="1890.30" y1="911.60" x2="1890.30" y2="985.30" stroke="#3a3a3a" stroke-width="1.7" stroke-dasharray="2.2 1.6"/>
<line x1="1882.50" y1="911.60" x2="1898.10" y2="911.60" stroke="#4a4a4a" stroke-width="1.7" />
<line x1="1890.30" y1="1024.70" x2="1890.30" y2="1081.40" stroke="#3a3a3a" stroke-width="1.7" stroke-dasharray="2.2 1.6"/>
<line x1="1882.50" y1="1081.40" x2="1898.10" y2="1081.40" stroke="#4a4a4a" stroke-width="1.7" />
<rect x="1873.40" y="985.30" width="33.80" height="39.40" fill="#e022c8" />
<line x1="1874.40" y1="1008.00" x2="1906.20" y2="1008.00" stroke="#111" stroke-width="2.4" />
<line x1="1958.50" y1="916.00" x2="1958.50" y2="932.30" stroke="#3a3a3a" stroke-width="1.7" stroke-dasharray="2.2 1.6"/>
<line x1="1950.70" y1="916.00" x2="1966.30" y2="916.00" stroke="#4a4a4a" stroke-width="1.7" />
<line x1="1958.50" y1="1015.40" x2="1958.50" y2="1019.80" stroke="#3a3a3a" stroke-width="1.7" stroke-dasharray="2.2 1.6"/>
<line x1="1950.70" y1="1019.80" x2="1966.30" y2="1019.80" stroke="#4a4a4a" stroke-width="1.7" />
<rect x="1941.60" y="932.30" width="33.80" height="83.10" fill="#d01018" />
<line x1="1942.60" y1="976.30" x2="1974.40" y2="976.30" stroke="#111" stroke-width="2.4" />
<text x="1787.70" y="869.90" font-size="15" font-weight="bold" text-anchor="middle" fill="#111" textLength="425.00" lengthAdjust="spacingAndGlyphs" >Expression of EED in PRAD based on patient’s gleason score</text>
<text x="1538.60" y="1012.00" font-size="12.3" font-weight="bold" text-anchor="middle" fill="#111" textLength="126.60" lengthAdjust="spacingAndGlyphs" transform="rotate(-90 1538.60 1012.00)" >Transcript per million</text>
<text x="1614.78" y="1155.30" font-size="9" font-weight="bold" text-anchor="middle" fill="#222" >Normal</text>
<text x="1614.78" y="1166.00" font-size="9" font-weight="bold" text-anchor="middle" fill="#222" >(n=52)</text>
<text x="1683.33" y="1155.30" font-size="9" font-weight="bold" text-anchor="middle" fill="#222" >Gleason score</text>
<text x="1683.33" y="1166.00" font-size="9" font-weight="bold" text-anchor="middle" fill="#222" >6</text>
<text x="1683.33" y="1176.60" font-size="9" font-weight="bold" text-anchor="middle" fill="#222" >(n=45)</text>
<text x="1751.88" y="1155.30" font-size="9" font-weight="bold" text-anchor="middle" fill="#222" >Gleason score</text>
<text x="1751.88" y="1166.00" font-size="9" font-weight="bold" text-anchor="middle" fill="#222" >7</text>
<text x="1751.88" y="1176.60" font-size="9" font-weight="bold" text-anchor="middle" fill="#222" >(n=247)</text>
<text x="1820.42" y="1155.30" font-size="9" font-weight="bold" text-anchor="middle" fill="#222" >Gleason score</text>
<text x="1820.42" y="1166.00" font-size="9" font-weight="bold" text-anchor="middle" fill="#222" >8</text>
<text x="1820.42" y="1176.60" font-size="9" font-weight="bold" text-anchor="middle" fill="#222" >(n=64)</text>
<text x="1888.97" y="1155.30" font-size="9" font-weight="bold" text-anchor="middle" fill="#222" >Gleason score</text>
<text x="1888.97" y="1166.00" font-size="9" font-weight="bold" text-anchor="middle" fill="#222" >9</text>
<text x="1888.97" y="1176.60" font-size="9" font-weight="bold" text-anchor="middle" fill="#222" >(n=136)</text>
<text x="1957.52" y="1155.30" font-size="9" font-weight="bold" text-anchor="middle" fill="#222" >Gleason score</text>
<text x="1957.52" y="1166.00" font-size="9" font-weight="bold" text-anchor="middle" fill="#222" >10</text>
<text x="1957.52" y="1176.60" font-size="9" font-weight="bold" text-anchor="middle" fill="#222" >(n=4)</text>
<text x="1788.00" y="1205.00" font-size="12.3" font-weight="bold" text-anchor="middle" fill="#111" >TCGA samples</text>
<text x="0.00" y="1282.50" font-size="41" font-weight="bold" >d</text>
<line x1="129.40" y1="1277.50" x2="129.40" y2="1576.40" stroke="#2a1f1c" stroke-width="2" />
<line x1="123.50" y1="1575.60" x2="327.80" y2="1575.60" stroke="#2a1f1c" stroke-width="1.8" />
<line x1="123.70" y1="1278.20" x2="129.40" y2="1278.20" stroke="#2a1f1c" stroke-width="1.8" />
<text x="115.50" y="1284.00" font-size="16" font-weight="bold" text-anchor="end" fill="#111" >1.5</text>
<line x1="123.70" y1="1377.30" x2="129.40" y2="1377.30" stroke="#2a1f1c" stroke-width="1.8" />
<text x="115.50" y="1383.10" font-size="16" font-weight="bold" text-anchor="end" fill="#111" >1.0</text>
<line x1="123.70" y1="1476.40" x2="129.40" y2="1476.40" stroke="#2a1f1c" stroke-width="1.8" />
<text x="115.50" y="1482.20" font-size="16" font-weight="bold" text-anchor="end" fill="#111" >0.5</text>
<line x1="123.70" y1="1575.50" x2="129.40" y2="1575.50" stroke="#2a1f1c" stroke-width="1.8" />
<text x="115.50" y="1581.30" font-size="16" font-weight="bold" text-anchor="end" fill="#111" >0.0</text>
<rect x="153.60" y="1384.00" width="50.10" height="191.60" fill="#231916" />
<rect x="252.90" y="1518.20" width="50.00" height="57.40" fill="#231916" />
<line x1="178.60" y1="1384.00" x2="178.60" y2="1373.70" stroke="#2a1f1c" stroke-width="1.8" />
<line x1="167.00" y1="1373.70" x2="191.60" y2="1373.70" stroke="#2a1f1c" stroke-width="1.8" />
<line x1="277.80" y1="1518.20" x2="277.80" y2="1502.40" stroke="#2a1f1c" stroke-width="1.8" />
<line x1="265.30" y1="1502.40" x2="290.80" y2="1502.40" stroke="#2a1f1c" stroke-width="1.8" />
<line x1="178.50" y1="1575.60" x2="178.50" y2="1581.60" stroke="#2a1f1c" stroke-width="1.8" />
<line x1="277.80" y1="1575.60" x2="277.80" y2="1581.60" stroke="#2a1f1c" stroke-width="1.8" />
<line x1="179.20" y1="1318.40" x2="274.20" y2="1318.40" stroke="#3a3230" stroke-width="1.7" />
<line x1="179.20" y1="1312.50" x2="179.20" y2="1324.20" stroke="#3a3230" stroke-width="1.7" />
<line x1="274.20" y1="1312.50" x2="274.20" y2="1324.20" stroke="#3a3230" stroke-width="1.7" />
<text x="230.20" y="1304.20" font-size="17.5" font-weight="bold" text-anchor="middle" fill="#3a2a28" >***</text>
<text x="75.00" y="1427.20" font-size="16.6" text-anchor="middle" fill="#111" textLength="229.70" lengthAdjust="spacingAndGlyphs" transform="rotate(-90 75.00 1427.20)" >Relative expression of HOTAIR</text>
<text x="188.60" y="1597.20" font-size="16.6" text-anchor="end" fill="#111" transform="rotate(-45 188.60 1597.20)" >Cas9-Ctrl</text>
<text x="286.60" y="1597.20" font-size="16.6" text-anchor="end" fill="#111" transform="rotate(-45 286.60 1597.20)" >Cas9-HOTAIR#3</text>
<text x="465.50" y="1283.50" font-size="41" font-weight="bold" >e</text>
<text x="698.80" y="1351.20" font-size="20.4" text-anchor="middle" fill="#111" >hepaCAM</text>
<line x1="466.70" y1="1366.90" x2="929.00" y2="1366.90" stroke="#111" stroke-width="3.2" />
<text x="526.00" y="1468.60" font-size="20.8" fill="#111" transform="rotate(-57.5 526.00 1468.60)" >Input</text>
<text x="612.50" y="1468.60" font-size="20.8" fill="#111" transform="rotate(-57.5 612.50 1468.60)" >IgG</text>
<text x="694.50" y="1468.60" font-size="20.8" fill="#111" transform="rotate(-57.5 694.50 1468.60)" >SUZ12</text>
<text x="779.00" y="1468.60" font-size="20.8" fill="#111" transform="rotate(-57.5 779.00 1468.60)" >EZH2</text>
<text x="858.50" y="1468.60" font-size="20.8" fill="#111" transform="rotate(-57.5 858.50 1468.60)" >H3K27me3</text>
<rect x="469.70" y="1480.60" width="435.80" height="49.80" fill="#0d0d0d" />
<rect x="469.70" y="1535.50" width="435.80" height="49.20" fill="#0f0f0f" />
<g filter="url(#blur2)">
<path d="M 491 1503 C 494 1511, 502 1510, 520 1510 S 546 1511, 549 1503" fill="none" stroke="#8a8a8a" stroke-width="11" stroke-linecap="round"/>
<rect x="578.00" y="1501.00" width="52.00" height="4.00" fill="#383838" rx="2"/>
<path d="M 663 1503 Q 670 1506, 688 1505.5 T 713 1505" fill="none" stroke="#7a7a7a" stroke-width="6" stroke-linecap="round"/>
<path d="M 744 1503.5 Q 752 1507, 770 1506.5 T 797 1505.5" fill="none" stroke="#8a8a8a" stroke-width="7" stroke-linecap="round"/>
<path d="M 825 1504 Q 833 1507, 852 1506.5 T 881 1505.5" fill="none" stroke="#7e7e7e" stroke-width="6.5" stroke-linecap="round"/>
</g>
<g filter="url(#blur1)">
<path d="M 492.5 1503.5 C 495 1510, 502 1509.5, 520 1509.5 S 545 1510, 547.5 1503.5" fill="none" stroke="#f6f6f6" stroke-width="6.5" stroke-linecap="round"/>
<path d="M 664 1503.2 Q 671 1505.8, 688 1505.3 T 712 1504.8" fill="none" stroke="#ececec" stroke-width="3" stroke-linecap="round"/>
<path d="M 745 1503.8 Q 753 1506.6, 770 1506.2 T 796 1505.3" fill="none" stroke="#f2f2f2" stroke-width="3.8" stroke-linecap="round"/>
<path d="M 826 1504.2 Q 834 1506.6, 852 1506.2 T 880 1505.4" fill="none" stroke="#eaeaea" stroke-width="3.4" stroke-linecap="round"/>
</g>
<g filter="url(#blur3)">
<rect x="491.00" y="1538.00" width="57.00" height="11.00" fill="#3c3c3c" rx="4"/>
<rect x="490.00" y="1551.00" width="60.00" height="11.00" fill="#8a8a8a" rx="5"/>
<rect x="580.00" y="1551.00" width="50.00" height="6.00" fill="#222" rx="2"/>
<rect x="662.00" y="1550.50" width="55.00" height="6.50" fill="#262626" rx="2"/>
<rect x="744.00" y="1551.00" width="56.00" height="6.00" fill="#232323" rx="2"/>
<rect x="826.00" y="1551.50" width="56.00" height="6.00" fill="#222" rx="2"/>
</g>
<g filter="url(#blur1)">
<rect x="492.50" y="1553.00" width="55.00" height="7.50" fill="#f4f4f4" rx="3.5"/>
</g>
<text x="919.30" y="1509.10" font-size="20.5" fill="#111" >PC3</text>
<text x="958.90" y="1501.00" font-size="14.5" fill="#222" >cas9-Ctrl</text>
<text x="919.30" y="1570.50" font-size="20.5" fill="#111" >PC3</text>
<text x="958.90" y="1562.20" font-size="14.5" fill="#222" >cas9-HOTAIR#3</text>
<text x="1120.00" y="1282.00" font-size="41" font-weight="bold" >f</text>
<line x1="1205.50" y1="1294.80" x2="1205.50" y2="1586.50" stroke="#000" stroke-width="2" />
<line x1="1199.20" y1="1585.50" x2="1496.00" y2="1585.50" stroke="#000" stroke-width="2" />
<line x1="1199.20" y1="1585.50" x2="1205.50" y2="1585.50" stroke="#000" stroke-width="2" />
<text x="1190.20" y="1591.50" font-size="17" font-weight="bold" text-anchor="end" fill="#111" >0</text>
<line x1="1199.20" y1="1537.05" x2="1205.50" y2="1537.05" stroke="#000" stroke-width="2" />
<text x="1190.20" y="1543.05" font-size="17" font-weight="bold" text-anchor="end" fill="#111" >1</text>
<line x1="1199.20" y1="1488.60" x2="1205.50" y2="1488.60" stroke="#000" stroke-width="2" />
<text x="1190.20" y="1494.60" font-size="17" font-weight="bold" text-anchor="end" fill="#111" >2</text>
<line x1="1199.20" y1="1440.15" x2="1205.50" y2="1440.15" stroke="#000" stroke-width="2" />
<text x="1190.20" y="1446.15" font-size="17" font-weight="bold" text-anchor="end" fill="#111" >3</text>
<line x1="1199.20" y1="1391.70" x2="1205.50" y2="1391.70" stroke="#000" stroke-width="2" />
<text x="1190.20" y="1397.70" font-size="17" font-weight="bold" text-anchor="end" fill="#111" >4</text>
<line x1="1199.20" y1="1343.25" x2="1205.50" y2="1343.25" stroke="#000" stroke-width="2" />
<text x="1190.20" y="1349.25" font-size="17" font-weight="bold" text-anchor="end" fill="#111" >5</text>
<line x1="1199.20" y1="1294.80" x2="1205.50" y2="1294.80" stroke="#000" stroke-width="2" />
<text x="1190.20" y="1300.80" font-size="17" font-weight="bold" text-anchor="end" fill="#111" >6</text>
<line x1="1235.50" y1="1480.30" x2="1235.50" y2="1469.60" stroke="#000" stroke-width="2" />
<line x1="1229.10" y1="1469.60" x2="1241.90" y2="1469.60" stroke="#000" stroke-width="2.2" />
<rect x="1223.80" y="1481.30" width="23.40" height="104.20" fill="#0000de" stroke="#000" stroke-width="2"/>
<line x1="1271.65" y1="1510.60" x2="1271.65" y2="1506.20" stroke="#000" stroke-width="2" />
<line x1="1265.40" y1="1506.20" x2="1278.20" y2="1506.20" stroke="#000" stroke-width="2.2" />
<rect x="1260.10" y="1511.60" width="23.10" height="73.90" fill="#ff1818" stroke="#000" stroke-width="2"/>
<line x1="1332.05" y1="1465.80" x2="1332.05" y2="1452.60" stroke="#000" stroke-width="2" />
<line x1="1325.80" y1="1452.60" x2="1338.60" y2="1452.60" stroke="#000" stroke-width="2.2" />
<rect x="1320.50" y="1466.80" width="23.10" height="118.70" fill="#0000de" stroke="#000" stroke-width="2"/>
<line x1="1368.35" y1="1500.50" x2="1368.35" y2="1495.30" stroke="#000" stroke-width="2" />
<line x1="1362.10" y1="1495.30" x2="1374.90" y2="1495.30" stroke="#000" stroke-width="2.2" />
<rect x="1356.80" y="1501.50" width="23.10" height="84.00" fill="#ff1818" stroke="#000" stroke-width="2"/>
<line x1="1428.45" y1="1389.50" x2="1428.45" y2="1368.40" stroke="#000" stroke-width="2" />
<line x1="1422.20" y1="1368.40" x2="1435.00" y2="1368.40" stroke="#000" stroke-width="2.2" />
<rect x="1416.90" y="1390.50" width="23.10" height="195.00" fill="#0000de" stroke="#000" stroke-width="2"/>
<line x1="1464.75" y1="1499.20" x2="1464.75" y2="1492.10" stroke="#000" stroke-width="2" />
<line x1="1458.50" y1="1492.10" x2="1471.30" y2="1492.10" stroke="#000" stroke-width="2.2" />
<rect x="1453.20" y="1500.20" width="23.10" height="85.30" fill="#ff1818" stroke="#000" stroke-width="2"/>
<line x1="1253.50" y1="1585.50" x2="1253.50" y2="1591.40" stroke="#000" stroke-width="2" />
<line x1="1350.00" y1="1585.50" x2="1350.00" y2="1591.40" stroke="#000" stroke-width="2" />
<line x1="1446.60" y1="1585.50" x2="1446.60" y2="1591.40" stroke="#000" stroke-width="2" />
<line x1="1231.90" y1="1447.60" x2="1265.80" y2="1447.60" stroke="#111" stroke-width="2" />
<line x1="1231.90" y1="1441.10" x2="1231.90" y2="1453.60" stroke="#111" stroke-width="2" />
<line x1="1265.80" y1="1441.10" x2="1265.80" y2="1453.60" stroke="#111" stroke-width="2" />
<text x="1247.40" y="1444.60" font-size="21" font-weight="bold" text-anchor="middle" fill="#111" >*</text>
<line x1="1331.60" y1="1431.80" x2="1365.00" y2="1431.80" stroke="#111" stroke-width="2" />
<line x1="1331.60" y1="1425.30" x2="1331.60" y2="1437.80" stroke="#111" stroke-width="2" />
<line x1="1365.00" y1="1425.30" x2="1365.00" y2="1437.80" stroke="#111" stroke-width="2" />
<text x="1347.40" y="1427.80" font-size="21" font-weight="bold" text-anchor="middle" fill="#111" >*</text>
<line x1="1429.00" y1="1352.70" x2="1462.20" y2="1352.70" stroke="#111" stroke-width="2" />
<line x1="1429.00" y1="1346.20" x2="1429.00" y2="1358.70" stroke="#111" stroke-width="2" />
<line x1="1462.20" y1="1346.20" x2="1462.20" y2="1358.70" stroke="#111" stroke-width="2" />
<text x="1445.80" y="1348.50" font-size="21" font-weight="bold" text-anchor="middle" fill="#111" >**</text>
<rect x="1215.80" y="1294.00" width="22.00" height="14.40" fill="#0000de" stroke="#111" stroke-width="1.7" rx="1"/>
<rect x="1215.80" y="1322.30" width="22.00" height="14.20" fill="#ff1818" stroke="#111" stroke-width="1.7" rx="1"/>
<text x="1247.60" y="1308.20" font-size="18.2" fill="#111" >PC3</text>
<text x="1284.00" y="1300.00" font-size="14.4" fill="#222" >cas9-Ctrl</text>
<text x="1247.60" y="1336.20" font-size="18.2" fill="#111" >PC3</text>
<text x="1284.00" y="1327.80" font-size="14.4" fill="#222" >cas9-HOTAIR#3</text>
<text x="1136.10" y="1439.70" font-size="20" text-anchor="middle" fill="#111" textLength="164.60" lengthAdjust="spacingAndGlyphs" transform="rotate(-90 1136.10 1439.70)" >Relative enrichment</text>
<text transform="translate(1158.5 1531.5) rotate(-90)" font-size="19" fill="#111">2</text>
<text transform="translate(1152 1519.7) rotate(-90)" font-size="12.9" fill="#111" textLength="99.7" lengthAdjust="spacingAndGlyphs">(−ΔΔ Ct[ChIP/NC])</text>
<text transform="translate(1158.5 1411.6) rotate(-90)" font-size="19" fill="#111" textLength="62" lengthAdjust="spacingAndGlyphs">by PCR</text>
<text x="1262.50" y="1607.00" font-size="16.8" text-anchor="end" fill="#111" transform="rotate(-45 1262.50 1607.00)" >SUZ12</text>
<text x="1359.50" y="1608.00" font-size="16.8" text-anchor="end" fill="#111" transform="rotate(-45 1359.50 1608.00)" >EZH2</text>
<text x="1455.50" y="1605.50" font-size="16.8" text-anchor="end" fill="#111" transform="rotate(-45 1455.50 1605.50)" >H3K27me3</text>
<text x="1601.00" y="1281.00" font-size="41" font-weight="bold" >g</text>
<line x1="1629.20" y1="1317.20" x2="1629.20" y2="1560.90" stroke="#1e1c14" stroke-width="2" />
<line x1="1628.20" y1="1560.10" x2="1995.20" y2="1560.10" stroke="#1e1c14" stroke-width="2" />
<line x1="1629.20" y1="1560.10" x2="1629.20" y2="1565.60" stroke="#1e1c14" stroke-width="2" />
<line x1="1702.40" y1="1560.10" x2="1702.40" y2="1565.60" stroke="#1e1c14" stroke-width="2" />
<line x1="1775.60" y1="1560.10" x2="1775.60" y2="1565.60" stroke="#1e1c14" stroke-width="2" />
<line x1="1848.80" y1="1560.10" x2="1848.80" y2="1565.60" stroke="#1e1c14" stroke-width="2" />
<line x1="1922.00" y1="1560.10" x2="1922.00" y2="1565.60" stroke="#1e1c14" stroke-width="2" />
<line x1="1995.20" y1="1560.10" x2="1995.20" y2="1565.60" stroke="#1e1c14" stroke-width="2" />
<line x1="1939.70" y1="1341.90" x2="1950.00" y2="1341.90" stroke="#1e1c14" stroke-width="2" />
<line x1="1950.00" y1="1332.40" x2="1950.00" y2="1351.40" stroke="#1e1c14" stroke-width="2" />
<rect x="1629.20" y="1322.20" width="310.50" height="39.40" fill="#030a2c" stroke="#1e1c14" stroke-width="1.5"/>
<line x1="1623.60" y1="1341.90" x2="1629.20" y2="1341.90" stroke="#1e1c14" stroke-width="2" />
<text x="1609.20" y="1348.10" font-size="17" font-weight="bold" text-anchor="middle" fill="#111" >A</text>
<line x1="1783.70" y1="1390.65" x2="1800.00" y2="1390.65" stroke="#1e1c14" stroke-width="2" />
<line x1="1800.00" y1="1381.15" x2="1800.00" y2="1400.15" stroke="#1e1c14" stroke-width="2" />
<rect x="1629.20" y="1371.20" width="154.50" height="38.90" fill="#000066" stroke="#1e1c14" stroke-width="1.5"/>
<line x1="1623.60" y1="1390.65" x2="1629.20" y2="1390.65" stroke="#1e1c14" stroke-width="2" />
<text x="1609.20" y="1396.85" font-size="17" font-weight="bold" text-anchor="middle" fill="#111" >B</text>
<line x1="1740.80" y1="1439.10" x2="1749.00" y2="1439.10" stroke="#1e1c14" stroke-width="2" />
<line x1="1749.00" y1="1429.60" x2="1749.00" y2="1448.60" stroke="#1e1c14" stroke-width="2" />
<rect x="1629.20" y="1420.30" width="111.60" height="37.60" fill="#0a0ad2" stroke="#1e1c14" stroke-width="1.5"/>
<line x1="1623.60" y1="1439.10" x2="1629.20" y2="1439.10" stroke="#1e1c14" stroke-width="2" />
<text x="1609.20" y="1445.30" font-size="17" font-weight="bold" text-anchor="middle" fill="#111" >C</text>
<line x1="1832.40" y1="1487.75" x2="1851.60" y2="1487.75" stroke="#1e1c14" stroke-width="2" />
<line x1="1851.60" y1="1478.25" x2="1851.60" y2="1497.25" stroke="#1e1c14" stroke-width="2" />
<rect x="1629.20" y="1468.40" width="203.20" height="38.70" fill="#5656fc" stroke="#1e1c14" stroke-width="1.5"/>
<line x1="1623.60" y1="1487.75" x2="1629.20" y2="1487.75" stroke="#1e1c14" stroke-width="2" />
<text x="1609.20" y="1493.95" font-size="17" font-weight="bold" text-anchor="middle" fill="#111" >D</text>
<line x1="1809.20" y1="1535.90" x2="1822.40" y2="1535.90" stroke="#1e1c14" stroke-width="2" />
<line x1="1822.40" y1="1526.40" x2="1822.40" y2="1545.40" stroke="#1e1c14" stroke-width="2" />
<rect x="1629.20" y="1516.80" width="180.00" height="38.20" fill="#b6b6fc" stroke="#1e1c14" stroke-width="1.5"/>
<line x1="1623.60" y1="1535.90" x2="1629.20" y2="1535.90" stroke="#1e1c14" stroke-width="2" />
<text x="1609.20" y="1542.10" font-size="17" font-weight="bold" text-anchor="middle" fill="#111" >E</text>
<text x="1639.20" y="1581.00" font-size="16.5" text-anchor="end" fill="#111" transform="rotate(-45 1639.20 1581.00)" >0</text>
<text x="1712.40" y="1581.00" font-size="16.5" text-anchor="end" fill="#111" transform="rotate(-45 1712.40 1581.00)" >2</text>
<text x="1785.60" y="1581.00" font-size="16.5" text-anchor="end" fill="#111" transform="rotate(-45 1785.60 1581.00)" >4</text>
<text x="1858.80" y="1581.00" font-size="16.5" text-anchor="end" fill="#111" transform="rotate(-45 1858.80 1581.00)" >6</text>
<text x="1932.00" y="1581.00" font-size="16.5" text-anchor="end" fill="#111" transform="rotate(-45 1932.00 1581.00)" >8</text>
<text x="2005.20" y="1581.00" font-size="16.5" text-anchor="end" fill="#111" transform="rotate(-45 2005.20 1581.00)" >10</text>
<text x="1813.70" y="1615.90" font-size="18.8" text-anchor="middle" fill="#111" textLength="164.30" lengthAdjust="spacingAndGlyphs" >Relative enrichment</text>
<text x="1722.5" y="1637.8" font-size="16.5" fill="#111">2</text>
<text x="1733" y="1632.4" font-size="12.6" fill="#111" textLength="101.5" lengthAdjust="spacingAndGlyphs">(−ΔΔ Ct[ChIP/NC])</text>
<text x="1840.4" y="1637.8" font-size="17" fill="#111" textLength="63.8" lengthAdjust="spacingAndGlyphs">by PCR</text>
</svg>
</body></html>
